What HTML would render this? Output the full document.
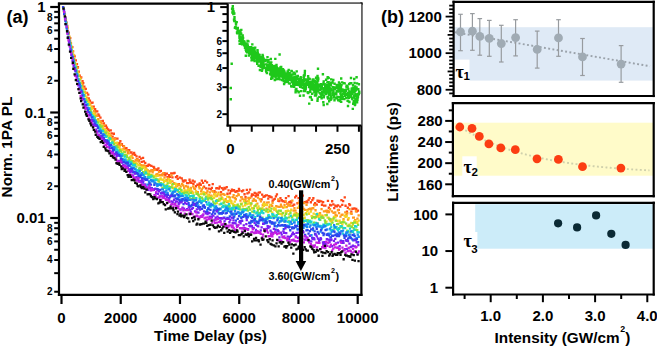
<!DOCTYPE html>
<html><head><meta charset="utf-8"><style>html,body{margin:0;padding:0;background:#fff;overflow:hidden}svg{display:block}</style></head>
<body><svg width="657" height="347" viewBox="0 0 657 347">
<rect width="657" height="347" fill="#fff"/>
<path fill="#ff4818" d="M61.9 5.9h2.3v2.3h-2.3zM63.0 11.5h2.3v2.3h-2.3zM64.6 16.6h2.3v2.3h-2.3zM65.5 21.6h2.3v2.3h-2.3zM66.3 26.9h2.3v2.3h-2.3zM67.6 31.6h2.3v2.3h-2.3zM69.1 37.0h2.3v2.3h-2.3zM69.8 42.3h2.3v2.3h-2.3zM71.2 46.0h2.3v2.3h-2.3zM71.9 50.3h2.3v2.3h-2.3zM73.5 55.2h2.3v2.3h-2.3zM74.7 59.2h2.3v2.3h-2.3zM75.8 63.0h2.3v2.3h-2.3zM76.8 66.1h2.3v2.3h-2.3zM77.7 70.4h2.3v2.3h-2.3zM78.6 74.4h2.3v2.3h-2.3zM80.1 76.2h2.3v2.3h-2.3zM81.4 80.1h2.3v2.3h-2.3zM82.1 82.0h2.3v2.3h-2.3zM83.2 85.4h2.3v2.3h-2.3zM84.6 87.7h2.3v2.3h-2.3zM85.9 91.8h2.3v2.3h-2.3zM87.1 93.5h2.3v2.3h-2.3zM87.6 97.3h2.3v2.3h-2.3zM88.8 99.6h2.3v2.3h-2.3zM90.4 101.6h2.3v2.3h-2.3zM91.4 101.5h2.3v2.3h-2.3zM92.6 105.5h2.3v2.3h-2.3zM94.0 108.1h2.3v2.3h-2.3zM95.0 110.2h2.3v2.3h-2.3zM96.1 110.3h2.3v2.3h-2.3zM97.2 113.3h2.3v2.3h-2.3zM98.0 114.5h2.3v2.3h-2.3zM99.3 116.4h2.3v2.3h-2.3zM100.1 120.3h2.3v2.3h-2.3zM101.7 119.7h2.3v2.3h-2.3zM102.8 122.2h2.3v2.3h-2.3zM103.9 124.9h2.3v2.3h-2.3zM104.8 124.5h2.3v2.3h-2.3zM105.8 126.6h2.3v2.3h-2.3zM107.0 128.3h2.3v2.3h-2.3zM107.8 129.6h2.3v2.3h-2.3zM109.6 129.3h2.3v2.3h-2.3zM110.5 132.3h2.3v2.3h-2.3zM111.5 135.4h2.3v2.3h-2.3zM112.7 132.6h2.3v2.3h-2.3zM114.0 137.3h2.3v2.3h-2.3zM114.9 137.4h2.3v2.3h-2.3zM116.3 137.5h2.3v2.3h-2.3zM117.5 142.6h2.3v2.3h-2.3zM118.2 141.9h2.3v2.3h-2.3zM119.2 140.1h2.3v2.3h-2.3zM120.8 143.1h2.3v2.3h-2.3zM122.1 145.0h2.3v2.3h-2.3zM122.5 144.9h2.3v2.3h-2.3zM124.1 147.3h2.3v2.3h-2.3zM125.3 147.1h2.3v2.3h-2.3zM126.5 149.3h2.3v2.3h-2.3zM127.0 151.6h2.3v2.3h-2.3zM128.1 149.1h2.3v2.3h-2.3zM130.0 151.5h2.3v2.3h-2.3zM130.4 151.3h2.3v2.3h-2.3zM131.6 153.2h2.3v2.3h-2.3zM133.0 151.8h2.3v2.3h-2.3zM134.0 153.7h2.3v2.3h-2.3zM135.4 155.3h2.3v2.3h-2.3zM136.1 158.0h2.3v2.3h-2.3zM137.8 159.3h2.3v2.3h-2.3zM138.4 155.7h2.3v2.3h-2.3zM139.9 157.4h2.3v2.3h-2.3zM140.5 160.8h2.3v2.3h-2.3zM141.9 156.7h2.3v2.3h-2.3zM142.7 160.3h2.3v2.3h-2.3zM144.1 161.7h2.3v2.3h-2.3zM145.2 165.0h2.3v2.3h-2.3zM146.6 164.6h2.3v2.3h-2.3zM147.6 163.4h2.3v2.3h-2.3zM148.4 163.9h2.3v2.3h-2.3zM150.2 164.8h2.3v2.3h-2.3zM151.3 168.9h2.3v2.3h-2.3zM152.4 165.7h2.3v2.3h-2.3zM153.0 166.6h2.3v2.3h-2.3zM154.3 168.5h2.3v2.3h-2.3zM155.3 168.2h2.3v2.3h-2.3zM156.3 168.6h2.3v2.3h-2.3zM157.3 167.3h2.3v2.3h-2.3zM158.9 170.1h2.3v2.3h-2.3zM159.7 169.7h2.3v2.3h-2.3zM160.8 173.6h2.3v2.3h-2.3zM162.5 173.0h2.3v2.3h-2.3zM163.3 172.1h2.3v2.3h-2.3zM164.2 174.1h2.3v2.3h-2.3zM165.7 172.4h2.3v2.3h-2.3zM166.5 175.9h2.3v2.3h-2.3zM167.9 174.1h2.3v2.3h-2.3zM168.8 175.8h2.3v2.3h-2.3zM170.1 172.2h2.3v2.3h-2.3zM171.3 176.2h2.3v2.3h-2.3zM172.4 172.2h2.3v2.3h-2.3zM173.4 171.8h2.3v2.3h-2.3zM174.8 176.0h2.3v2.3h-2.3zM176.0 175.1h2.3v2.3h-2.3zM176.6 177.8h2.3v2.3h-2.3zM177.7 182.9h2.3v2.3h-2.3zM178.8 176.4h2.3v2.3h-2.3zM180.6 177.2h2.3v2.3h-2.3zM181.7 179.4h2.3v2.3h-2.3zM182.3 180.4h2.3v2.3h-2.3zM184.0 179.3h2.3v2.3h-2.3zM184.5 179.5h2.3v2.3h-2.3zM185.9 182.0h2.3v2.3h-2.3zM187.0 181.9h2.3v2.3h-2.3zM188.4 178.6h2.3v2.3h-2.3zM188.9 181.1h2.3v2.3h-2.3zM190.2 181.7h2.3v2.3h-2.3zM191.6 179.5h2.3v2.3h-2.3zM192.3 182.8h2.3v2.3h-2.3zM193.5 180.5h2.3v2.3h-2.3zM194.8 185.1h2.3v2.3h-2.3zM196.3 183.6h2.3v2.3h-2.3zM197.3 183.6h2.3v2.3h-2.3zM198.5 182.2h2.3v2.3h-2.3zM199.6 183.6h2.3v2.3h-2.3zM200.7 179.4h2.3v2.3h-2.3zM201.9 181.7h2.3v2.3h-2.3zM202.9 185.6h2.3v2.3h-2.3zM204.1 179.8h2.3v2.3h-2.3zM204.8 187.3h2.3v2.3h-2.3zM205.9 181.2h2.3v2.3h-2.3zM207.5 187.5h2.3v2.3h-2.3zM208.1 183.9h2.3v2.3h-2.3zM209.8 188.1h2.3v2.3h-2.3zM210.7 186.7h2.3v2.3h-2.3zM211.6 182.9h2.3v2.3h-2.3zM213.2 190.0h2.3v2.3h-2.3zM213.7 190.7h2.3v2.3h-2.3zM215.1 187.2h2.3v2.3h-2.3zM215.9 186.9h2.3v2.3h-2.3zM217.7 187.4h2.3v2.3h-2.3zM218.6 185.5h2.3v2.3h-2.3zM219.9 190.9h2.3v2.3h-2.3zM220.6 187.0h2.3v2.3h-2.3zM222.1 188.5h2.3v2.3h-2.3zM223.2 186.8h2.3v2.3h-2.3zM224.2 187.4h2.3v2.3h-2.3zM225.6 186.0h2.3v2.3h-2.3zM226.3 192.6h2.3v2.3h-2.3zM227.4 189.2h2.3v2.3h-2.3zM228.8 192.3h2.3v2.3h-2.3zM230.0 190.0h2.3v2.3h-2.3zM230.8 188.4h2.3v2.3h-2.3zM232.1 189.5h2.3v2.3h-2.3zM232.9 189.1h2.3v2.3h-2.3zM234.3 190.8h2.3v2.3h-2.3zM235.6 190.0h2.3v2.3h-2.3zM236.2 190.3h2.3v2.3h-2.3zM237.8 187.7h2.3v2.3h-2.3zM238.4 189.4h2.3v2.3h-2.3zM240.3 196.0h2.3v2.3h-2.3zM241.0 190.1h2.3v2.3h-2.3zM242.1 189.3h2.3v2.3h-2.3zM243.4 193.1h2.3v2.3h-2.3zM244.4 196.1h2.3v2.3h-2.3zM245.7 188.7h2.3v2.3h-2.3zM246.3 192.2h2.3v2.3h-2.3zM247.8 191.2h2.3v2.3h-2.3zM248.9 188.4h2.3v2.3h-2.3zM250.4 195.2h2.3v2.3h-2.3zM250.8 193.3h2.3v2.3h-2.3zM252.2 193.8h2.3v2.3h-2.3zM253.5 191.7h2.3v2.3h-2.3zM254.6 195.1h2.3v2.3h-2.3zM255.3 192.6h2.3v2.3h-2.3zM256.8 193.9h2.3v2.3h-2.3zM257.7 191.4h2.3v2.3h-2.3zM258.8 191.3h2.3v2.3h-2.3zM260.5 198.3h2.3v2.3h-2.3zM261.0 193.5h2.3v2.3h-2.3zM262.4 195.8h2.3v2.3h-2.3zM263.7 195.1h2.3v2.3h-2.3zM264.8 194.2h2.3v2.3h-2.3zM265.8 194.2h2.3v2.3h-2.3zM267.1 197.4h2.3v2.3h-2.3zM268.0 195.0h2.3v2.3h-2.3zM269.2 195.6h2.3v2.3h-2.3zM270.5 196.2h2.3v2.3h-2.3zM271.5 199.6h2.3v2.3h-2.3zM272.6 198.4h2.3v2.3h-2.3zM273.6 197.7h2.3v2.3h-2.3zM274.8 195.3h2.3v2.3h-2.3zM275.8 193.2h2.3v2.3h-2.3zM277.2 199.7h2.3v2.3h-2.3zM278.1 200.0h2.3v2.3h-2.3zM279.3 197.1h2.3v2.3h-2.3zM280.6 199.1h2.3v2.3h-2.3zM281.5 199.9h2.3v2.3h-2.3zM282.5 200.2h2.3v2.3h-2.3zM284.0 200.6h2.3v2.3h-2.3zM284.8 196.9h2.3v2.3h-2.3zM286.3 202.6h2.3v2.3h-2.3zM287.4 195.0h2.3v2.3h-2.3zM288.2 201.1h2.3v2.3h-2.3zM289.6 200.2h2.3v2.3h-2.3zM290.2 201.4h2.3v2.3h-2.3zM291.6 204.4h2.3v2.3h-2.3zM293.1 203.5h2.3v2.3h-2.3zM294.0 196.2h2.3v2.3h-2.3zM295.1 194.8h2.3v2.3h-2.3zM296.3 202.1h2.3v2.3h-2.3zM297.4 197.0h2.3v2.3h-2.3zM298.5 200.0h2.3v2.3h-2.3zM299.5 202.6h2.3v2.3h-2.3zM300.4 195.7h2.3v2.3h-2.3zM301.6 194.5h2.3v2.3h-2.3zM302.8 201.4h2.3v2.3h-2.3zM304.0 200.9h2.3v2.3h-2.3zM305.6 200.3h2.3v2.3h-2.3zM306.2 201.2h2.3v2.3h-2.3zM307.4 198.8h2.3v2.3h-2.3zM308.4 197.0h2.3v2.3h-2.3zM309.7 201.1h2.3v2.3h-2.3zM311.2 198.9h2.3v2.3h-2.3zM312.2 197.1h2.3v2.3h-2.3zM313.0 203.5h2.3v2.3h-2.3zM314.0 202.0h2.3v2.3h-2.3zM315.6 203.5h2.3v2.3h-2.3zM316.4 199.6h2.3v2.3h-2.3zM317.7 200.7h2.3v2.3h-2.3zM318.3 199.8h2.3v2.3h-2.3zM320.1 200.3h2.3v2.3h-2.3zM320.8 203.6h2.3v2.3h-2.3zM322.0 200.9h2.3v2.3h-2.3zM322.9 204.4h2.3v2.3h-2.3zM324.2 204.5h2.3v2.3h-2.3zM325.7 209.7h2.3v2.3h-2.3zM326.8 199.7h2.3v2.3h-2.3zM327.7 206.6h2.3v2.3h-2.3zM329.0 203.8h2.3v2.3h-2.3zM329.9 204.2h2.3v2.3h-2.3zM331.0 200.1h2.3v2.3h-2.3zM332.2 203.2h2.3v2.3h-2.3zM333.1 206.9h2.3v2.3h-2.3zM334.3 204.6h2.3v2.3h-2.3zM335.7 205.3h2.3v2.3h-2.3zM336.9 204.3h2.3v2.3h-2.3zM337.5 208.8h2.3v2.3h-2.3zM339.1 205.4h2.3v2.3h-2.3zM340.3 198.9h2.3v2.3h-2.3zM341.1 203.7h2.3v2.3h-2.3zM342.0 199.9h2.3v2.3h-2.3zM343.6 196.2h2.3v2.3h-2.3zM344.4 204.6h2.3v2.3h-2.3zM345.8 210.4h2.3v2.3h-2.3zM346.7 206.6h2.3v2.3h-2.3zM348.1 203.1h2.3v2.3h-2.3zM348.9 203.9h2.3v2.3h-2.3zM350.2 210.4h2.3v2.3h-2.3zM351.3 207.6h2.3v2.3h-2.3zM352.5 207.4h2.3v2.3h-2.3zM353.3 207.2h2.3v2.3h-2.3zM355.1 207.7h2.3v2.3h-2.3zM355.7 210.2h2.3v2.3h-2.3zM356.8 209.5h2.3v2.3h-2.3z"/>
<path fill="#ff9a1e" d="M62.5 7.8h2.3v2.3h-2.3zM63.8 13.4h2.3v2.3h-2.3zM64.8 19.0h2.3v2.3h-2.3zM66.2 24.7h2.3v2.3h-2.3zM66.7 29.7h2.3v2.3h-2.3zM68.3 35.6h2.3v2.3h-2.3zM69.1 40.3h2.3v2.3h-2.3zM70.5 45.4h2.3v2.3h-2.3zM71.8 49.9h2.3v2.3h-2.3zM73.0 54.2h2.3v2.3h-2.3zM73.5 58.4h2.3v2.3h-2.3zM74.8 63.0h2.3v2.3h-2.3zM76.3 66.8h2.3v2.3h-2.3zM77.4 71.2h2.3v2.3h-2.3zM78.1 74.7h2.3v2.3h-2.3zM79.7 77.3h2.3v2.3h-2.3zM80.4 81.7h2.3v2.3h-2.3zM81.5 83.8h2.3v2.3h-2.3zM82.9 87.4h2.3v2.3h-2.3zM83.8 90.6h2.3v2.3h-2.3zM84.9 92.0h2.3v2.3h-2.3zM86.0 96.4h2.3v2.3h-2.3zM87.1 99.0h2.3v2.3h-2.3zM88.0 101.2h2.3v2.3h-2.3zM89.1 103.3h2.3v2.3h-2.3zM90.8 105.6h2.3v2.3h-2.3zM91.8 107.2h2.3v2.3h-2.3zM93.0 109.9h2.3v2.3h-2.3zM94.2 111.7h2.3v2.3h-2.3zM94.9 114.3h2.3v2.3h-2.3zM96.0 114.8h2.3v2.3h-2.3zM97.1 118.1h2.3v2.3h-2.3zM98.3 119.8h2.3v2.3h-2.3zM99.8 121.1h2.3v2.3h-2.3zM100.6 122.5h2.3v2.3h-2.3zM101.7 125.2h2.3v2.3h-2.3zM103.1 124.2h2.3v2.3h-2.3zM103.8 128.2h2.3v2.3h-2.3zM104.9 129.5h2.3v2.3h-2.3zM106.5 131.0h2.3v2.3h-2.3zM107.7 132.5h2.3v2.3h-2.3zM108.4 132.6h2.3v2.3h-2.3zM109.8 134.5h2.3v2.3h-2.3zM110.5 137.0h2.3v2.3h-2.3zM111.9 138.0h2.3v2.3h-2.3zM113.1 139.0h2.3v2.3h-2.3zM114.0 137.9h2.3v2.3h-2.3zM115.2 141.9h2.3v2.3h-2.3zM116.5 144.0h2.3v2.3h-2.3zM117.7 145.0h2.3v2.3h-2.3zM118.4 145.1h2.3v2.3h-2.3zM120.0 143.6h2.3v2.3h-2.3zM120.6 148.4h2.3v2.3h-2.3zM122.5 147.9h2.3v2.3h-2.3zM123.0 145.4h2.3v2.3h-2.3zM124.1 150.8h2.3v2.3h-2.3zM125.2 149.0h2.3v2.3h-2.3zM127.0 150.3h2.3v2.3h-2.3zM127.5 152.3h2.3v2.3h-2.3zM128.9 156.3h2.3v2.3h-2.3zM130.4 154.7h2.3v2.3h-2.3zM131.5 156.7h2.3v2.3h-2.3zM131.9 160.0h2.3v2.3h-2.3zM133.4 160.7h2.3v2.3h-2.3zM134.6 158.8h2.3v2.3h-2.3zM135.8 159.5h2.3v2.3h-2.3zM136.6 158.6h2.3v2.3h-2.3zM137.7 160.4h2.3v2.3h-2.3zM138.6 163.1h2.3v2.3h-2.3zM139.7 163.9h2.3v2.3h-2.3zM141.3 164.2h2.3v2.3h-2.3zM142.0 166.6h2.3v2.3h-2.3zM143.2 164.2h2.3v2.3h-2.3zM144.5 166.2h2.3v2.3h-2.3zM145.4 168.4h2.3v2.3h-2.3zM146.5 168.9h2.3v2.3h-2.3zM148.3 170.5h2.3v2.3h-2.3zM149.1 169.9h2.3v2.3h-2.3zM150.0 169.3h2.3v2.3h-2.3zM151.5 171.2h2.3v2.3h-2.3zM152.1 169.3h2.3v2.3h-2.3zM153.4 168.7h2.3v2.3h-2.3zM155.1 173.6h2.3v2.3h-2.3zM156.2 173.0h2.3v2.3h-2.3zM157.1 174.3h2.3v2.3h-2.3zM157.8 170.9h2.3v2.3h-2.3zM159.1 174.1h2.3v2.3h-2.3zM160.0 174.2h2.3v2.3h-2.3zM161.3 174.2h2.3v2.3h-2.3zM162.2 171.9h2.3v2.3h-2.3zM163.4 176.4h2.3v2.3h-2.3zM165.0 179.4h2.3v2.3h-2.3zM165.7 178.9h2.3v2.3h-2.3zM166.8 177.3h2.3v2.3h-2.3zM168.6 179.0h2.3v2.3h-2.3zM169.2 181.2h2.3v2.3h-2.3zM170.4 174.2h2.3v2.3h-2.3zM171.3 180.2h2.3v2.3h-2.3zM173.0 182.1h2.3v2.3h-2.3zM174.0 182.8h2.3v2.3h-2.3zM175.0 185.5h2.3v2.3h-2.3zM176.2 184.7h2.3v2.3h-2.3zM176.9 183.3h2.3v2.3h-2.3zM178.2 183.7h2.3v2.3h-2.3zM179.6 185.2h2.3v2.3h-2.3zM181.0 182.7h2.3v2.3h-2.3zM182.0 184.2h2.3v2.3h-2.3zM183.0 186.6h2.3v2.3h-2.3zM184.0 189.4h2.3v2.3h-2.3zM184.7 185.0h2.3v2.3h-2.3zM186.6 185.6h2.3v2.3h-2.3zM187.0 186.5h2.3v2.3h-2.3zM188.2 189.5h2.3v2.3h-2.3zM189.8 186.7h2.3v2.3h-2.3zM191.0 190.4h2.3v2.3h-2.3zM192.1 185.2h2.3v2.3h-2.3zM193.0 187.3h2.3v2.3h-2.3zM193.9 187.6h2.3v2.3h-2.3zM194.9 190.2h2.3v2.3h-2.3zM196.7 191.1h2.3v2.3h-2.3zM197.9 185.5h2.3v2.3h-2.3zM198.4 187.1h2.3v2.3h-2.3zM200.0 190.3h2.3v2.3h-2.3zM200.8 188.3h2.3v2.3h-2.3zM201.9 186.5h2.3v2.3h-2.3zM203.1 192.9h2.3v2.3h-2.3zM203.9 191.8h2.3v2.3h-2.3zM205.3 192.1h2.3v2.3h-2.3zM206.3 190.1h2.3v2.3h-2.3zM207.8 193.9h2.3v2.3h-2.3zM208.8 191.2h2.3v2.3h-2.3zM210.2 194.6h2.3v2.3h-2.3zM211.3 190.0h2.3v2.3h-2.3zM212.0 190.4h2.3v2.3h-2.3zM213.1 193.2h2.3v2.3h-2.3zM214.7 191.3h2.3v2.3h-2.3zM215.5 194.9h2.3v2.3h-2.3zM216.3 194.1h2.3v2.3h-2.3zM217.4 191.4h2.3v2.3h-2.3zM219.3 194.1h2.3v2.3h-2.3zM220.1 193.3h2.3v2.3h-2.3zM220.8 196.6h2.3v2.3h-2.3zM222.3 193.0h2.3v2.3h-2.3zM223.4 193.7h2.3v2.3h-2.3zM224.5 198.1h2.3v2.3h-2.3zM226.0 200.8h2.3v2.3h-2.3zM227.1 200.5h2.3v2.3h-2.3zM227.6 195.8h2.3v2.3h-2.3zM228.7 196.4h2.3v2.3h-2.3zM230.1 200.0h2.3v2.3h-2.3zM231.5 196.0h2.3v2.3h-2.3zM232.5 194.1h2.3v2.3h-2.3zM233.7 197.0h2.3v2.3h-2.3zM234.7 198.1h2.3v2.3h-2.3zM235.5 195.0h2.3v2.3h-2.3zM237.2 193.1h2.3v2.3h-2.3zM237.6 193.9h2.3v2.3h-2.3zM239.3 199.4h2.3v2.3h-2.3zM240.0 196.0h2.3v2.3h-2.3zM241.4 197.8h2.3v2.3h-2.3zM242.9 198.9h2.3v2.3h-2.3zM243.7 200.1h2.3v2.3h-2.3zM244.4 197.8h2.3v2.3h-2.3zM245.8 200.2h2.3v2.3h-2.3zM247.2 196.8h2.3v2.3h-2.3zM247.8 198.3h2.3v2.3h-2.3zM249.1 196.8h2.3v2.3h-2.3zM250.0 202.6h2.3v2.3h-2.3zM251.6 199.7h2.3v2.3h-2.3zM252.6 198.1h2.3v2.3h-2.3zM253.8 199.2h2.3v2.3h-2.3zM254.7 199.8h2.3v2.3h-2.3zM256.2 202.4h2.3v2.3h-2.3zM256.9 196.5h2.3v2.3h-2.3zM258.6 198.1h2.3v2.3h-2.3zM259.8 200.1h2.3v2.3h-2.3zM260.5 208.0h2.3v2.3h-2.3zM261.6 204.0h2.3v2.3h-2.3zM263.1 201.3h2.3v2.3h-2.3zM263.7 203.7h2.3v2.3h-2.3zM265.3 207.5h2.3v2.3h-2.3zM266.0 201.5h2.3v2.3h-2.3zM267.5 201.3h2.3v2.3h-2.3zM268.3 205.7h2.3v2.3h-2.3zM269.6 204.0h2.3v2.3h-2.3zM271.0 204.6h2.3v2.3h-2.3zM271.4 201.6h2.3v2.3h-2.3zM273.2 208.4h2.3v2.3h-2.3zM274.1 208.0h2.3v2.3h-2.3zM275.1 205.0h2.3v2.3h-2.3zM276.2 205.5h2.3v2.3h-2.3zM277.1 198.3h2.3v2.3h-2.3zM278.3 205.8h2.3v2.3h-2.3zM279.8 203.6h2.3v2.3h-2.3zM280.5 205.5h2.3v2.3h-2.3zM282.1 206.4h2.3v2.3h-2.3zM283.4 203.7h2.3v2.3h-2.3zM284.6 200.2h2.3v2.3h-2.3zM285.6 206.0h2.3v2.3h-2.3zM286.7 203.1h2.3v2.3h-2.3zM287.3 204.4h2.3v2.3h-2.3zM289.0 203.8h2.3v2.3h-2.3zM289.6 204.7h2.3v2.3h-2.3zM291.2 199.4h2.3v2.3h-2.3zM292.4 209.4h2.3v2.3h-2.3zM293.3 206.9h2.3v2.3h-2.3zM294.3 209.4h2.3v2.3h-2.3zM295.2 212.1h2.3v2.3h-2.3zM296.6 206.7h2.3v2.3h-2.3zM297.5 201.7h2.3v2.3h-2.3zM298.5 204.4h2.3v2.3h-2.3zM299.6 203.7h2.3v2.3h-2.3zM301.3 205.9h2.3v2.3h-2.3zM302.5 207.7h2.3v2.3h-2.3zM303.0 201.9h2.3v2.3h-2.3zM304.0 208.8h2.3v2.3h-2.3zM305.4 203.6h2.3v2.3h-2.3zM306.4 209.0h2.3v2.3h-2.3zM307.6 208.0h2.3v2.3h-2.3zM309.0 207.5h2.3v2.3h-2.3zM310.0 208.4h2.3v2.3h-2.3zM311.1 207.2h2.3v2.3h-2.3zM312.1 207.1h2.3v2.3h-2.3zM313.6 204.2h2.3v2.3h-2.3zM314.4 209.1h2.3v2.3h-2.3zM315.6 214.8h2.3v2.3h-2.3zM316.8 215.3h2.3v2.3h-2.3zM318.3 213.6h2.3v2.3h-2.3zM318.9 211.9h2.3v2.3h-2.3zM320.4 208.0h2.3v2.3h-2.3zM321.2 214.4h2.3v2.3h-2.3zM322.8 210.2h2.3v2.3h-2.3zM323.5 210.3h2.3v2.3h-2.3zM324.7 209.8h2.3v2.3h-2.3zM326.1 211.1h2.3v2.3h-2.3zM327.1 209.7h2.3v2.3h-2.3zM327.7 210.9h2.3v2.3h-2.3zM328.9 208.1h2.3v2.3h-2.3zM330.7 210.3h2.3v2.3h-2.3zM331.1 218.4h2.3v2.3h-2.3zM332.4 211.6h2.3v2.3h-2.3zM334.1 211.2h2.3v2.3h-2.3zM334.4 213.7h2.3v2.3h-2.3zM335.7 214.4h2.3v2.3h-2.3zM336.8 209.1h2.3v2.3h-2.3zM337.9 211.9h2.3v2.3h-2.3zM339.3 215.5h2.3v2.3h-2.3zM340.5 213.7h2.3v2.3h-2.3zM341.4 213.4h2.3v2.3h-2.3zM342.4 217.9h2.3v2.3h-2.3zM344.1 211.3h2.3v2.3h-2.3zM345.2 213.8h2.3v2.3h-2.3zM346.1 212.1h2.3v2.3h-2.3zM346.9 218.4h2.3v2.3h-2.3zM348.4 208.0h2.3v2.3h-2.3zM349.6 212.1h2.3v2.3h-2.3zM350.5 212.7h2.3v2.3h-2.3zM352.0 216.5h2.3v2.3h-2.3zM352.7 216.5h2.3v2.3h-2.3zM354.0 219.1h2.3v2.3h-2.3zM354.8 210.1h2.3v2.3h-2.3zM356.3 217.4h2.3v2.3h-2.3zM357.5 214.3h2.3v2.3h-2.3z"/>
<path fill="#f2d420" d="M62.7 10.3h2.3v2.3h-2.3zM63.8 16.0h2.3v2.3h-2.3zM65.1 22.4h2.3v2.3h-2.3zM66.2 26.8h2.3v2.3h-2.3zM67.5 32.9h2.3v2.3h-2.3zM68.6 38.8h2.3v2.3h-2.3zM69.7 43.4h2.3v2.3h-2.3zM70.6 48.2h2.3v2.3h-2.3zM72.0 53.3h2.3v2.3h-2.3zM72.8 57.4h2.3v2.3h-2.3zM74.2 62.6h2.3v2.3h-2.3zM75.2 68.2h2.3v2.3h-2.3zM76.4 71.6h2.3v2.3h-2.3zM77.1 74.1h2.3v2.3h-2.3zM78.6 77.9h2.3v2.3h-2.3zM79.5 81.7h2.3v2.3h-2.3zM80.7 86.1h2.3v2.3h-2.3zM81.6 88.0h2.3v2.3h-2.3zM83.2 91.1h2.3v2.3h-2.3zM84.5 95.2h2.3v2.3h-2.3zM85.2 98.0h2.3v2.3h-2.3zM86.1 99.7h2.3v2.3h-2.3zM87.7 101.6h2.3v2.3h-2.3zM88.4 103.6h2.3v2.3h-2.3zM90.1 106.6h2.3v2.3h-2.3zM90.7 107.4h2.3v2.3h-2.3zM92.0 112.3h2.3v2.3h-2.3zM93.2 113.0h2.3v2.3h-2.3zM94.0 116.1h2.3v2.3h-2.3zM95.3 119.4h2.3v2.3h-2.3zM96.4 120.6h2.3v2.3h-2.3zM97.9 120.0h2.3v2.3h-2.3zM99.2 123.8h2.3v2.3h-2.3zM99.9 125.8h2.3v2.3h-2.3zM101.3 125.4h2.3v2.3h-2.3zM101.9 126.8h2.3v2.3h-2.3zM103.4 129.3h2.3v2.3h-2.3zM104.4 129.0h2.3v2.3h-2.3zM105.4 134.1h2.3v2.3h-2.3zM107.0 131.0h2.3v2.3h-2.3zM108.0 133.9h2.3v2.3h-2.3zM108.7 136.3h2.3v2.3h-2.3zM109.9 137.7h2.3v2.3h-2.3zM111.5 139.6h2.3v2.3h-2.3zM112.7 141.0h2.3v2.3h-2.3zM113.6 141.7h2.3v2.3h-2.3zM114.9 144.7h2.3v2.3h-2.3zM116.1 141.6h2.3v2.3h-2.3zM117.0 145.7h2.3v2.3h-2.3zM118.1 145.9h2.3v2.3h-2.3zM118.9 148.2h2.3v2.3h-2.3zM120.1 149.5h2.3v2.3h-2.3zM121.4 149.0h2.3v2.3h-2.3zM122.8 150.5h2.3v2.3h-2.3zM123.4 153.7h2.3v2.3h-2.3zM124.6 154.1h2.3v2.3h-2.3zM125.5 153.6h2.3v2.3h-2.3zM127.1 158.8h2.3v2.3h-2.3zM128.1 160.2h2.3v2.3h-2.3zM129.5 155.4h2.3v2.3h-2.3zM130.1 159.2h2.3v2.3h-2.3zM131.6 163.6h2.3v2.3h-2.3zM132.7 161.9h2.3v2.3h-2.3zM133.7 161.9h2.3v2.3h-2.3zM134.6 162.1h2.3v2.3h-2.3zM135.9 162.4h2.3v2.3h-2.3zM137.3 163.9h2.3v2.3h-2.3zM138.0 164.2h2.3v2.3h-2.3zM139.0 167.2h2.3v2.3h-2.3zM140.5 166.1h2.3v2.3h-2.3zM141.4 166.8h2.3v2.3h-2.3zM143.0 166.3h2.3v2.3h-2.3zM144.1 169.1h2.3v2.3h-2.3zM145.3 168.4h2.3v2.3h-2.3zM146.4 170.4h2.3v2.3h-2.3zM147.4 173.3h2.3v2.3h-2.3zM148.1 172.8h2.3v2.3h-2.3zM149.7 173.8h2.3v2.3h-2.3zM150.8 174.2h2.3v2.3h-2.3zM151.9 174.4h2.3v2.3h-2.3zM153.0 174.7h2.3v2.3h-2.3zM154.3 175.0h2.3v2.3h-2.3zM155.0 177.7h2.3v2.3h-2.3zM156.4 174.8h2.3v2.3h-2.3zM157.4 180.1h2.3v2.3h-2.3zM158.4 178.2h2.3v2.3h-2.3zM159.5 177.3h2.3v2.3h-2.3zM160.5 178.4h2.3v2.3h-2.3zM161.9 178.6h2.3v2.3h-2.3zM162.9 180.8h2.3v2.3h-2.3zM164.1 179.6h2.3v2.3h-2.3zM165.5 183.8h2.3v2.3h-2.3zM166.5 180.5h2.3v2.3h-2.3zM167.6 178.0h2.3v2.3h-2.3zM169.0 181.6h2.3v2.3h-2.3zM169.5 179.5h2.3v2.3h-2.3zM170.9 184.0h2.3v2.3h-2.3zM171.7 186.8h2.3v2.3h-2.3zM173.0 186.4h2.3v2.3h-2.3zM174.6 182.7h2.3v2.3h-2.3zM175.0 184.4h2.3v2.3h-2.3zM176.7 190.2h2.3v2.3h-2.3zM177.9 187.5h2.3v2.3h-2.3zM178.8 187.3h2.3v2.3h-2.3zM180.1 190.0h2.3v2.3h-2.3zM181.0 193.4h2.3v2.3h-2.3zM182.0 191.3h2.3v2.3h-2.3zM183.3 189.2h2.3v2.3h-2.3zM184.1 190.1h2.3v2.3h-2.3zM185.4 191.0h2.3v2.3h-2.3zM186.5 188.7h2.3v2.3h-2.3zM188.1 188.1h2.3v2.3h-2.3zM188.8 190.9h2.3v2.3h-2.3zM189.8 189.0h2.3v2.3h-2.3zM191.5 191.4h2.3v2.3h-2.3zM192.0 192.0h2.3v2.3h-2.3zM193.8 197.5h2.3v2.3h-2.3zM194.8 190.6h2.3v2.3h-2.3zM195.8 192.6h2.3v2.3h-2.3zM196.7 192.8h2.3v2.3h-2.3zM197.6 194.5h2.3v2.3h-2.3zM198.7 196.2h2.3v2.3h-2.3zM199.8 193.0h2.3v2.3h-2.3zM201.1 192.5h2.3v2.3h-2.3zM202.3 190.9h2.3v2.3h-2.3zM203.9 192.8h2.3v2.3h-2.3zM204.7 196.5h2.3v2.3h-2.3zM206.2 195.7h2.3v2.3h-2.3zM207.1 193.5h2.3v2.3h-2.3zM207.7 195.2h2.3v2.3h-2.3zM209.2 196.5h2.3v2.3h-2.3zM210.0 197.9h2.3v2.3h-2.3zM211.0 195.5h2.3v2.3h-2.3zM212.9 196.6h2.3v2.3h-2.3zM213.5 193.1h2.3v2.3h-2.3zM214.5 194.9h2.3v2.3h-2.3zM215.6 201.9h2.3v2.3h-2.3zM217.1 192.9h2.3v2.3h-2.3zM218.1 197.6h2.3v2.3h-2.3zM218.9 199.2h2.3v2.3h-2.3zM220.6 198.0h2.3v2.3h-2.3zM221.3 197.2h2.3v2.3h-2.3zM222.9 199.3h2.3v2.3h-2.3zM223.8 199.7h2.3v2.3h-2.3zM224.9 199.7h2.3v2.3h-2.3zM226.0 195.5h2.3v2.3h-2.3zM227.3 200.0h2.3v2.3h-2.3zM228.7 198.5h2.3v2.3h-2.3zM229.6 199.4h2.3v2.3h-2.3zM230.2 201.6h2.3v2.3h-2.3zM231.6 202.8h2.3v2.3h-2.3zM232.6 203.7h2.3v2.3h-2.3zM233.6 200.4h2.3v2.3h-2.3zM234.8 204.2h2.3v2.3h-2.3zM236.0 205.1h2.3v2.3h-2.3zM237.6 205.2h2.3v2.3h-2.3zM238.6 206.1h2.3v2.3h-2.3zM239.8 202.4h2.3v2.3h-2.3zM240.8 202.5h2.3v2.3h-2.3zM241.6 205.3h2.3v2.3h-2.3zM242.8 199.9h2.3v2.3h-2.3zM244.0 204.1h2.3v2.3h-2.3zM245.0 202.4h2.3v2.3h-2.3zM246.2 203.0h2.3v2.3h-2.3zM247.6 199.7h2.3v2.3h-2.3zM248.2 202.1h2.3v2.3h-2.3zM249.5 204.5h2.3v2.3h-2.3zM250.8 207.1h2.3v2.3h-2.3zM252.1 207.5h2.3v2.3h-2.3zM253.2 204.9h2.3v2.3h-2.3zM254.3 204.9h2.3v2.3h-2.3zM255.0 203.4h2.3v2.3h-2.3zM256.2 206.8h2.3v2.3h-2.3zM257.4 205.3h2.3v2.3h-2.3zM258.5 207.7h2.3v2.3h-2.3zM260.0 210.9h2.3v2.3h-2.3zM261.3 206.4h2.3v2.3h-2.3zM262.2 202.7h2.3v2.3h-2.3zM262.8 204.6h2.3v2.3h-2.3zM264.1 203.2h2.3v2.3h-2.3zM265.7 204.0h2.3v2.3h-2.3zM266.9 210.9h2.3v2.3h-2.3zM267.7 208.2h2.3v2.3h-2.3zM268.7 203.7h2.3v2.3h-2.3zM269.8 209.7h2.3v2.3h-2.3zM271.2 211.5h2.3v2.3h-2.3zM272.5 207.4h2.3v2.3h-2.3zM273.2 206.7h2.3v2.3h-2.3zM274.2 207.8h2.3v2.3h-2.3zM275.2 209.6h2.3v2.3h-2.3zM276.4 210.8h2.3v2.3h-2.3zM278.1 212.4h2.3v2.3h-2.3zM279.0 212.7h2.3v2.3h-2.3zM280.4 212.8h2.3v2.3h-2.3zM280.8 213.5h2.3v2.3h-2.3zM282.2 211.7h2.3v2.3h-2.3zM283.7 205.9h2.3v2.3h-2.3zM284.7 209.9h2.3v2.3h-2.3zM285.3 211.3h2.3v2.3h-2.3zM286.7 209.6h2.3v2.3h-2.3zM288.0 213.3h2.3v2.3h-2.3zM289.2 210.0h2.3v2.3h-2.3zM290.1 208.6h2.3v2.3h-2.3zM291.1 215.3h2.3v2.3h-2.3zM292.8 213.4h2.3v2.3h-2.3zM293.5 212.3h2.3v2.3h-2.3zM294.9 214.4h2.3v2.3h-2.3zM295.8 215.0h2.3v2.3h-2.3zM296.6 213.1h2.3v2.3h-2.3zM297.9 205.4h2.3v2.3h-2.3zM298.8 210.6h2.3v2.3h-2.3zM300.1 211.4h2.3v2.3h-2.3zM301.2 210.1h2.3v2.3h-2.3zM302.5 213.6h2.3v2.3h-2.3zM303.5 216.6h2.3v2.3h-2.3zM304.7 212.0h2.3v2.3h-2.3zM306.2 210.3h2.3v2.3h-2.3zM306.7 219.5h2.3v2.3h-2.3zM307.9 212.6h2.3v2.3h-2.3zM309.6 210.5h2.3v2.3h-2.3zM310.5 214.9h2.3v2.3h-2.3zM311.5 215.6h2.3v2.3h-2.3zM312.5 212.5h2.3v2.3h-2.3zM313.9 217.0h2.3v2.3h-2.3zM314.7 213.5h2.3v2.3h-2.3zM316.4 212.4h2.3v2.3h-2.3zM317.5 215.7h2.3v2.3h-2.3zM318.2 217.6h2.3v2.3h-2.3zM319.1 213.7h2.3v2.3h-2.3zM320.9 216.7h2.3v2.3h-2.3zM321.5 215.6h2.3v2.3h-2.3zM322.9 224.3h2.3v2.3h-2.3zM324.2 214.1h2.3v2.3h-2.3zM325.3 220.5h2.3v2.3h-2.3zM326.5 216.4h2.3v2.3h-2.3zM327.3 216.4h2.3v2.3h-2.3zM328.7 219.0h2.3v2.3h-2.3zM329.5 219.7h2.3v2.3h-2.3zM330.5 221.0h2.3v2.3h-2.3zM331.8 218.4h2.3v2.3h-2.3zM332.8 215.8h2.3v2.3h-2.3zM334.3 216.1h2.3v2.3h-2.3zM335.5 219.4h2.3v2.3h-2.3zM336.0 219.8h2.3v2.3h-2.3zM337.2 222.4h2.3v2.3h-2.3zM338.5 219.6h2.3v2.3h-2.3zM339.7 221.7h2.3v2.3h-2.3zM341.2 223.3h2.3v2.3h-2.3zM342.3 219.4h2.3v2.3h-2.3zM343.5 214.5h2.3v2.3h-2.3zM344.4 215.6h2.3v2.3h-2.3zM345.5 215.0h2.3v2.3h-2.3zM346.3 224.4h2.3v2.3h-2.3zM347.5 217.1h2.3v2.3h-2.3zM348.3 223.6h2.3v2.3h-2.3zM350.1 221.8h2.3v2.3h-2.3zM350.8 225.5h2.3v2.3h-2.3zM351.8 223.4h2.3v2.3h-2.3zM353.1 220.2h2.3v2.3h-2.3zM354.2 220.1h2.3v2.3h-2.3zM355.6 221.1h2.3v2.3h-2.3zM356.2 221.6h2.3v2.3h-2.3zM357.5 219.5h2.3v2.3h-2.3z"/>
<path fill="#86e03a" d="M62.6 6.9h2.3v2.3h-2.3zM63.4 12.8h2.3v2.3h-2.3zM64.2 19.1h2.3v2.3h-2.3zM65.9 25.5h2.3v2.3h-2.3zM66.7 31.2h2.3v2.3h-2.3zM68.0 36.5h2.3v2.3h-2.3zM69.2 42.0h2.3v2.3h-2.3zM70.1 47.1h2.3v2.3h-2.3zM70.9 52.0h2.3v2.3h-2.3zM72.6 58.1h2.3v2.3h-2.3zM73.6 61.8h2.3v2.3h-2.3zM74.9 65.6h2.3v2.3h-2.3zM75.6 70.2h2.3v2.3h-2.3zM77.1 75.0h2.3v2.3h-2.3zM78.3 78.8h2.3v2.3h-2.3zM79.0 82.0h2.3v2.3h-2.3zM80.2 85.1h2.3v2.3h-2.3zM81.2 88.9h2.3v2.3h-2.3zM82.1 90.8h2.3v2.3h-2.3zM83.4 94.1h2.3v2.3h-2.3zM84.6 98.6h2.3v2.3h-2.3zM85.6 100.3h2.3v2.3h-2.3zM87.2 103.6h2.3v2.3h-2.3zM88.1 106.8h2.3v2.3h-2.3zM89.3 108.7h2.3v2.3h-2.3zM90.2 110.4h2.3v2.3h-2.3zM91.4 114.5h2.3v2.3h-2.3zM92.8 115.3h2.3v2.3h-2.3zM93.7 116.3h2.3v2.3h-2.3zM94.9 119.3h2.3v2.3h-2.3zM95.9 120.9h2.3v2.3h-2.3zM97.2 121.4h2.3v2.3h-2.3zM98.6 124.1h2.3v2.3h-2.3zM99.2 125.6h2.3v2.3h-2.3zM100.5 125.3h2.3v2.3h-2.3zM101.8 128.8h2.3v2.3h-2.3zM102.4 130.3h2.3v2.3h-2.3zM104.2 131.6h2.3v2.3h-2.3zM105.0 131.7h2.3v2.3h-2.3zM105.9 134.7h2.3v2.3h-2.3zM107.5 136.5h2.3v2.3h-2.3zM108.6 138.1h2.3v2.3h-2.3zM109.6 137.9h2.3v2.3h-2.3zM111.0 141.5h2.3v2.3h-2.3zM111.4 140.5h2.3v2.3h-2.3zM112.9 143.1h2.3v2.3h-2.3zM114.2 146.4h2.3v2.3h-2.3zM115.5 145.0h2.3v2.3h-2.3zM116.4 146.4h2.3v2.3h-2.3zM117.5 149.8h2.3v2.3h-2.3zM118.4 149.0h2.3v2.3h-2.3zM119.7 150.3h2.3v2.3h-2.3zM120.8 152.2h2.3v2.3h-2.3zM122.2 154.5h2.3v2.3h-2.3zM123.3 150.9h2.3v2.3h-2.3zM124.3 154.0h2.3v2.3h-2.3zM125.6 154.8h2.3v2.3h-2.3zM126.0 155.7h2.3v2.3h-2.3zM127.7 157.1h2.3v2.3h-2.3zM128.6 158.2h2.3v2.3h-2.3zM130.0 160.9h2.3v2.3h-2.3zM130.7 160.0h2.3v2.3h-2.3zM132.0 162.6h2.3v2.3h-2.3zM133.4 164.0h2.3v2.3h-2.3zM133.9 163.1h2.3v2.3h-2.3zM135.2 165.5h2.3v2.3h-2.3zM136.5 168.9h2.3v2.3h-2.3zM137.9 167.6h2.3v2.3h-2.3zM138.6 166.8h2.3v2.3h-2.3zM140.1 168.7h2.3v2.3h-2.3zM140.8 168.0h2.3v2.3h-2.3zM142.0 170.9h2.3v2.3h-2.3zM143.3 172.8h2.3v2.3h-2.3zM144.5 170.6h2.3v2.3h-2.3zM145.8 172.4h2.3v2.3h-2.3zM146.9 175.6h2.3v2.3h-2.3zM147.6 173.4h2.3v2.3h-2.3zM149.1 175.4h2.3v2.3h-2.3zM150.1 173.9h2.3v2.3h-2.3zM151.1 175.0h2.3v2.3h-2.3zM152.5 176.3h2.3v2.3h-2.3zM153.7 181.9h2.3v2.3h-2.3zM154.5 177.8h2.3v2.3h-2.3zM156.0 178.3h2.3v2.3h-2.3zM156.5 178.8h2.3v2.3h-2.3zM157.6 180.2h2.3v2.3h-2.3zM159.2 182.4h2.3v2.3h-2.3zM160.0 182.1h2.3v2.3h-2.3zM161.3 186.4h2.3v2.3h-2.3zM162.4 183.4h2.3v2.3h-2.3zM163.2 186.4h2.3v2.3h-2.3zM164.9 184.7h2.3v2.3h-2.3zM166.0 185.9h2.3v2.3h-2.3zM166.6 182.3h2.3v2.3h-2.3zM167.8 185.5h2.3v2.3h-2.3zM169.4 186.1h2.3v2.3h-2.3zM170.6 186.3h2.3v2.3h-2.3zM171.7 182.9h2.3v2.3h-2.3zM172.5 189.6h2.3v2.3h-2.3zM173.6 187.4h2.3v2.3h-2.3zM174.7 187.8h2.3v2.3h-2.3zM175.7 188.7h2.3v2.3h-2.3zM177.0 189.2h2.3v2.3h-2.3zM177.9 190.9h2.3v2.3h-2.3zM179.0 187.8h2.3v2.3h-2.3zM180.3 189.0h2.3v2.3h-2.3zM181.2 192.0h2.3v2.3h-2.3zM182.6 192.1h2.3v2.3h-2.3zM183.9 191.4h2.3v2.3h-2.3zM185.0 191.4h2.3v2.3h-2.3zM186.4 191.2h2.3v2.3h-2.3zM187.5 193.3h2.3v2.3h-2.3zM188.4 196.4h2.3v2.3h-2.3zM189.7 191.8h2.3v2.3h-2.3zM190.5 197.9h2.3v2.3h-2.3zM191.9 196.7h2.3v2.3h-2.3zM192.6 194.2h2.3v2.3h-2.3zM193.9 197.3h2.3v2.3h-2.3zM195.4 192.6h2.3v2.3h-2.3zM196.2 192.4h2.3v2.3h-2.3zM197.3 193.7h2.3v2.3h-2.3zM198.7 196.0h2.3v2.3h-2.3zM199.4 196.5h2.3v2.3h-2.3zM200.9 196.4h2.3v2.3h-2.3zM201.4 198.1h2.3v2.3h-2.3zM202.7 193.3h2.3v2.3h-2.3zM203.8 199.6h2.3v2.3h-2.3zM205.0 195.5h2.3v2.3h-2.3zM206.7 197.6h2.3v2.3h-2.3zM207.0 198.4h2.3v2.3h-2.3zM208.4 197.0h2.3v2.3h-2.3zM209.7 196.7h2.3v2.3h-2.3zM211.0 197.9h2.3v2.3h-2.3zM212.1 200.5h2.3v2.3h-2.3zM213.0 202.2h2.3v2.3h-2.3zM214.0 202.4h2.3v2.3h-2.3zM215.6 199.0h2.3v2.3h-2.3zM216.1 199.7h2.3v2.3h-2.3zM217.2 199.6h2.3v2.3h-2.3zM218.5 203.2h2.3v2.3h-2.3zM219.8 197.5h2.3v2.3h-2.3zM221.3 205.6h2.3v2.3h-2.3zM222.2 201.7h2.3v2.3h-2.3zM223.2 201.2h2.3v2.3h-2.3zM224.3 204.2h2.3v2.3h-2.3zM225.6 206.1h2.3v2.3h-2.3zM226.7 204.7h2.3v2.3h-2.3zM227.6 206.7h2.3v2.3h-2.3zM228.5 204.6h2.3v2.3h-2.3zM229.7 207.6h2.3v2.3h-2.3zM231.3 207.9h2.3v2.3h-2.3zM232.3 204.8h2.3v2.3h-2.3zM233.6 208.8h2.3v2.3h-2.3zM234.1 205.9h2.3v2.3h-2.3zM235.9 205.9h2.3v2.3h-2.3zM236.6 203.6h2.3v2.3h-2.3zM238.2 205.4h2.3v2.3h-2.3zM239.0 208.3h2.3v2.3h-2.3zM240.1 203.3h2.3v2.3h-2.3zM241.4 208.4h2.3v2.3h-2.3zM242.4 207.9h2.3v2.3h-2.3zM243.6 207.9h2.3v2.3h-2.3zM244.3 201.8h2.3v2.3h-2.3zM245.8 207.4h2.3v2.3h-2.3zM246.7 209.5h2.3v2.3h-2.3zM247.6 206.1h2.3v2.3h-2.3zM248.8 208.5h2.3v2.3h-2.3zM250.2 202.3h2.3v2.3h-2.3zM251.1 210.4h2.3v2.3h-2.3zM252.7 207.2h2.3v2.3h-2.3zM253.3 211.3h2.3v2.3h-2.3zM254.3 204.5h2.3v2.3h-2.3zM256.2 211.3h2.3v2.3h-2.3zM256.8 209.1h2.3v2.3h-2.3zM258.1 212.0h2.3v2.3h-2.3zM259.0 207.6h2.3v2.3h-2.3zM260.1 208.6h2.3v2.3h-2.3zM261.4 216.4h2.3v2.3h-2.3zM262.8 208.5h2.3v2.3h-2.3zM263.3 209.0h2.3v2.3h-2.3zM265.1 210.3h2.3v2.3h-2.3zM266.3 208.5h2.3v2.3h-2.3zM267.1 214.6h2.3v2.3h-2.3zM268.1 216.2h2.3v2.3h-2.3zM269.1 209.9h2.3v2.3h-2.3zM270.2 207.4h2.3v2.3h-2.3zM271.4 215.3h2.3v2.3h-2.3zM273.0 215.3h2.3v2.3h-2.3zM273.4 214.8h2.3v2.3h-2.3zM275.2 215.9h2.3v2.3h-2.3zM276.2 210.6h2.3v2.3h-2.3zM276.8 212.7h2.3v2.3h-2.3zM278.0 209.5h2.3v2.3h-2.3zM279.6 209.6h2.3v2.3h-2.3zM280.7 216.3h2.3v2.3h-2.3zM281.6 212.0h2.3v2.3h-2.3zM283.1 220.3h2.3v2.3h-2.3zM283.7 214.4h2.3v2.3h-2.3zM285.0 212.6h2.3v2.3h-2.3zM285.9 216.8h2.3v2.3h-2.3zM287.5 219.7h2.3v2.3h-2.3zM288.1 216.3h2.3v2.3h-2.3zM289.3 211.8h2.3v2.3h-2.3zM290.9 216.3h2.3v2.3h-2.3zM291.8 219.3h2.3v2.3h-2.3zM293.1 214.3h2.3v2.3h-2.3zM294.3 213.7h2.3v2.3h-2.3zM295.3 218.9h2.3v2.3h-2.3zM296.1 216.6h2.3v2.3h-2.3zM297.6 213.3h2.3v2.3h-2.3zM298.3 215.5h2.3v2.3h-2.3zM299.5 214.6h2.3v2.3h-2.3zM300.8 217.7h2.3v2.3h-2.3zM301.7 217.4h2.3v2.3h-2.3zM302.8 220.5h2.3v2.3h-2.3zM304.3 219.5h2.3v2.3h-2.3zM305.5 213.2h2.3v2.3h-2.3zM306.4 218.9h2.3v2.3h-2.3zM307.5 220.5h2.3v2.3h-2.3zM308.5 219.4h2.3v2.3h-2.3zM309.9 221.3h2.3v2.3h-2.3zM311.0 216.9h2.3v2.3h-2.3zM312.4 215.9h2.3v2.3h-2.3zM312.9 221.5h2.3v2.3h-2.3zM314.7 215.9h2.3v2.3h-2.3zM315.9 212.9h2.3v2.3h-2.3zM316.5 222.3h2.3v2.3h-2.3zM317.9 217.4h2.3v2.3h-2.3zM319.1 218.8h2.3v2.3h-2.3zM320.1 215.8h2.3v2.3h-2.3zM320.9 216.2h2.3v2.3h-2.3zM322.3 216.8h2.3v2.3h-2.3zM323.7 219.3h2.3v2.3h-2.3zM324.2 221.6h2.3v2.3h-2.3zM325.6 214.0h2.3v2.3h-2.3zM326.4 223.1h2.3v2.3h-2.3zM328.1 217.6h2.3v2.3h-2.3zM329.2 218.1h2.3v2.3h-2.3zM329.7 223.4h2.3v2.3h-2.3zM331.4 221.4h2.3v2.3h-2.3zM332.5 217.2h2.3v2.3h-2.3zM333.2 227.4h2.3v2.3h-2.3zM334.6 219.5h2.3v2.3h-2.3zM335.9 223.0h2.3v2.3h-2.3zM336.7 223.0h2.3v2.3h-2.3zM338.0 226.9h2.3v2.3h-2.3zM339.5 221.4h2.3v2.3h-2.3zM340.3 226.0h2.3v2.3h-2.3zM341.4 220.9h2.3v2.3h-2.3zM342.1 226.7h2.3v2.3h-2.3zM343.3 221.2h2.3v2.3h-2.3zM345.0 222.5h2.3v2.3h-2.3zM346.1 229.6h2.3v2.3h-2.3zM347.3 224.9h2.3v2.3h-2.3zM348.2 224.5h2.3v2.3h-2.3zM349.3 231.2h2.3v2.3h-2.3zM350.4 225.6h2.3v2.3h-2.3zM351.7 222.1h2.3v2.3h-2.3zM352.5 227.1h2.3v2.3h-2.3zM353.7 221.4h2.3v2.3h-2.3zM354.8 228.6h2.3v2.3h-2.3zM356.1 229.1h2.3v2.3h-2.3zM356.9 223.7h2.3v2.3h-2.3z"/>
<path fill="#18d6d0" d="M62.8 9.2h2.3v2.3h-2.3zM63.9 16.1h2.3v2.3h-2.3zM65.1 21.5h2.3v2.3h-2.3zM65.7 27.9h2.3v2.3h-2.3zM66.9 33.2h2.3v2.3h-2.3zM68.3 40.1h2.3v2.3h-2.3zM69.7 44.6h2.3v2.3h-2.3zM70.5 49.2h2.3v2.3h-2.3zM71.4 55.2h2.3v2.3h-2.3zM72.8 60.1h2.3v2.3h-2.3zM74.2 65.9h2.3v2.3h-2.3zM75.3 69.2h2.3v2.3h-2.3zM76.4 73.6h2.3v2.3h-2.3zM77.2 78.1h2.3v2.3h-2.3zM78.2 82.5h2.3v2.3h-2.3zM79.8 85.2h2.3v2.3h-2.3zM80.9 89.4h2.3v2.3h-2.3zM82.0 92.4h2.3v2.3h-2.3zM82.8 94.9h2.3v2.3h-2.3zM83.8 98.2h2.3v2.3h-2.3zM84.9 100.9h2.3v2.3h-2.3zM86.5 102.9h2.3v2.3h-2.3zM87.7 107.1h2.3v2.3h-2.3zM88.4 107.5h2.3v2.3h-2.3zM89.9 111.9h2.3v2.3h-2.3zM90.7 114.0h2.3v2.3h-2.3zM91.8 115.2h2.3v2.3h-2.3zM93.1 116.7h2.3v2.3h-2.3zM93.9 119.1h2.3v2.3h-2.3zM95.1 121.7h2.3v2.3h-2.3zM96.2 123.8h2.3v2.3h-2.3zM97.3 125.2h2.3v2.3h-2.3zM98.6 127.6h2.3v2.3h-2.3zM99.4 127.8h2.3v2.3h-2.3zM101.1 130.2h2.3v2.3h-2.3zM101.7 129.9h2.3v2.3h-2.3zM103.1 134.0h2.3v2.3h-2.3zM104.4 134.9h2.3v2.3h-2.3zM105.1 135.7h2.3v2.3h-2.3zM106.4 139.0h2.3v2.3h-2.3zM107.7 139.9h2.3v2.3h-2.3zM108.8 137.2h2.3v2.3h-2.3zM110.2 141.9h2.3v2.3h-2.3zM111.2 141.5h2.3v2.3h-2.3zM111.8 145.9h2.3v2.3h-2.3zM113.5 149.0h2.3v2.3h-2.3zM114.4 146.5h2.3v2.3h-2.3zM115.7 148.5h2.3v2.3h-2.3zM116.4 149.4h2.3v2.3h-2.3zM117.7 151.4h2.3v2.3h-2.3zM119.1 153.0h2.3v2.3h-2.3zM120.3 155.0h2.3v2.3h-2.3zM121.4 153.1h2.3v2.3h-2.3zM122.0 157.8h2.3v2.3h-2.3zM123.7 155.4h2.3v2.3h-2.3zM124.6 158.2h2.3v2.3h-2.3zM125.8 160.6h2.3v2.3h-2.3zM127.1 161.0h2.3v2.3h-2.3zM127.8 159.7h2.3v2.3h-2.3zM129.4 161.0h2.3v2.3h-2.3zM130.5 162.4h2.3v2.3h-2.3zM131.5 164.0h2.3v2.3h-2.3zM132.3 166.8h2.3v2.3h-2.3zM133.5 164.1h2.3v2.3h-2.3zM134.4 167.7h2.3v2.3h-2.3zM136.0 168.9h2.3v2.3h-2.3zM137.2 169.7h2.3v2.3h-2.3zM137.8 170.5h2.3v2.3h-2.3zM139.3 173.1h2.3v2.3h-2.3zM140.4 172.3h2.3v2.3h-2.3zM141.0 173.8h2.3v2.3h-2.3zM142.9 174.1h2.3v2.3h-2.3zM143.6 177.0h2.3v2.3h-2.3zM144.6 171.6h2.3v2.3h-2.3zM145.5 177.8h2.3v2.3h-2.3zM147.3 175.9h2.3v2.3h-2.3zM148.0 176.7h2.3v2.3h-2.3zM149.3 176.2h2.3v2.3h-2.3zM150.2 175.3h2.3v2.3h-2.3zM151.6 178.7h2.3v2.3h-2.3zM152.6 178.9h2.3v2.3h-2.3zM154.0 181.7h2.3v2.3h-2.3zM155.0 178.8h2.3v2.3h-2.3zM156.2 184.8h2.3v2.3h-2.3zM157.0 183.3h2.3v2.3h-2.3zM157.9 183.0h2.3v2.3h-2.3zM159.7 182.8h2.3v2.3h-2.3zM160.9 183.3h2.3v2.3h-2.3zM161.8 183.2h2.3v2.3h-2.3zM163.1 184.9h2.3v2.3h-2.3zM164.1 186.6h2.3v2.3h-2.3zM165.1 186.8h2.3v2.3h-2.3zM166.1 184.9h2.3v2.3h-2.3zM167.2 187.7h2.3v2.3h-2.3zM168.4 187.0h2.3v2.3h-2.3zM169.3 189.7h2.3v2.3h-2.3zM170.6 193.6h2.3v2.3h-2.3zM171.8 191.6h2.3v2.3h-2.3zM172.5 190.3h2.3v2.3h-2.3zM174.0 188.1h2.3v2.3h-2.3zM175.0 189.0h2.3v2.3h-2.3zM176.4 188.9h2.3v2.3h-2.3zM177.7 194.3h2.3v2.3h-2.3zM178.6 191.7h2.3v2.3h-2.3zM179.8 193.9h2.3v2.3h-2.3zM180.9 192.9h2.3v2.3h-2.3zM181.7 194.8h2.3v2.3h-2.3zM182.9 198.0h2.3v2.3h-2.3zM184.4 194.0h2.3v2.3h-2.3zM185.7 195.2h2.3v2.3h-2.3zM186.2 194.6h2.3v2.3h-2.3zM187.2 198.6h2.3v2.3h-2.3zM189.0 194.9h2.3v2.3h-2.3zM190.1 195.0h2.3v2.3h-2.3zM191.0 194.8h2.3v2.3h-2.3zM192.3 195.1h2.3v2.3h-2.3zM193.3 199.6h2.3v2.3h-2.3zM194.6 204.6h2.3v2.3h-2.3zM195.2 197.1h2.3v2.3h-2.3zM196.5 201.8h2.3v2.3h-2.3zM197.8 200.6h2.3v2.3h-2.3zM198.6 197.9h2.3v2.3h-2.3zM200.1 200.1h2.3v2.3h-2.3zM200.9 200.5h2.3v2.3h-2.3zM202.4 199.8h2.3v2.3h-2.3zM203.6 206.0h2.3v2.3h-2.3zM204.4 197.6h2.3v2.3h-2.3zM206.0 203.2h2.3v2.3h-2.3zM206.8 203.4h2.3v2.3h-2.3zM208.0 201.6h2.3v2.3h-2.3zM208.6 203.5h2.3v2.3h-2.3zM209.8 205.5h2.3v2.3h-2.3zM211.4 204.1h2.3v2.3h-2.3zM212.7 205.0h2.3v2.3h-2.3zM213.5 206.0h2.3v2.3h-2.3zM214.9 199.9h2.3v2.3h-2.3zM215.3 208.4h2.3v2.3h-2.3zM217.1 210.6h2.3v2.3h-2.3zM218.2 207.8h2.3v2.3h-2.3zM219.2 208.1h2.3v2.3h-2.3zM220.1 202.6h2.3v2.3h-2.3zM221.5 206.0h2.3v2.3h-2.3zM222.2 204.6h2.3v2.3h-2.3zM223.7 205.4h2.3v2.3h-2.3zM224.8 209.4h2.3v2.3h-2.3zM225.9 205.3h2.3v2.3h-2.3zM226.8 207.2h2.3v2.3h-2.3zM227.7 203.1h2.3v2.3h-2.3zM229.0 207.6h2.3v2.3h-2.3zM230.6 208.5h2.3v2.3h-2.3zM231.2 206.8h2.3v2.3h-2.3zM232.2 207.0h2.3v2.3h-2.3zM233.5 213.6h2.3v2.3h-2.3zM234.8 206.2h2.3v2.3h-2.3zM236.0 206.8h2.3v2.3h-2.3zM237.4 207.7h2.3v2.3h-2.3zM238.5 212.9h2.3v2.3h-2.3zM239.7 215.4h2.3v2.3h-2.3zM240.8 211.2h2.3v2.3h-2.3zM241.5 208.8h2.3v2.3h-2.3zM242.4 209.7h2.3v2.3h-2.3zM244.2 213.7h2.3v2.3h-2.3zM244.7 209.0h2.3v2.3h-2.3zM246.2 215.2h2.3v2.3h-2.3zM247.0 215.3h2.3v2.3h-2.3zM248.6 212.1h2.3v2.3h-2.3zM249.2 213.8h2.3v2.3h-2.3zM250.5 214.3h2.3v2.3h-2.3zM251.5 216.5h2.3v2.3h-2.3zM253.1 210.1h2.3v2.3h-2.3zM254.1 216.0h2.3v2.3h-2.3zM255.2 212.2h2.3v2.3h-2.3zM256.1 211.4h2.3v2.3h-2.3zM257.1 213.9h2.3v2.3h-2.3zM258.7 213.2h2.3v2.3h-2.3zM259.8 211.4h2.3v2.3h-2.3zM260.9 210.0h2.3v2.3h-2.3zM262.2 211.9h2.3v2.3h-2.3zM263.0 218.4h2.3v2.3h-2.3zM263.8 220.0h2.3v2.3h-2.3zM265.3 216.7h2.3v2.3h-2.3zM266.2 218.3h2.3v2.3h-2.3zM267.5 214.0h2.3v2.3h-2.3zM268.6 215.4h2.3v2.3h-2.3zM269.8 216.6h2.3v2.3h-2.3zM271.2 213.1h2.3v2.3h-2.3zM272.2 213.6h2.3v2.3h-2.3zM273.0 216.7h2.3v2.3h-2.3zM274.5 215.7h2.3v2.3h-2.3zM275.6 213.9h2.3v2.3h-2.3zM276.7 218.0h2.3v2.3h-2.3zM277.6 216.5h2.3v2.3h-2.3zM279.0 220.1h2.3v2.3h-2.3zM279.8 217.5h2.3v2.3h-2.3zM280.7 216.9h2.3v2.3h-2.3zM281.9 218.3h2.3v2.3h-2.3zM283.3 217.7h2.3v2.3h-2.3zM284.3 216.5h2.3v2.3h-2.3zM285.4 217.4h2.3v2.3h-2.3zM286.5 220.7h2.3v2.3h-2.3zM287.5 220.7h2.3v2.3h-2.3zM288.5 222.6h2.3v2.3h-2.3zM289.6 214.6h2.3v2.3h-2.3zM291.2 218.4h2.3v2.3h-2.3zM292.1 218.5h2.3v2.3h-2.3zM293.3 220.3h2.3v2.3h-2.3zM294.8 218.7h2.3v2.3h-2.3zM295.7 218.8h2.3v2.3h-2.3zM297.0 222.6h2.3v2.3h-2.3zM298.1 221.0h2.3v2.3h-2.3zM299.3 217.5h2.3v2.3h-2.3zM299.8 224.7h2.3v2.3h-2.3zM301.1 223.9h2.3v2.3h-2.3zM302.7 219.7h2.3v2.3h-2.3zM303.5 223.8h2.3v2.3h-2.3zM305.0 219.6h2.3v2.3h-2.3zM305.5 225.0h2.3v2.3h-2.3zM306.5 221.4h2.3v2.3h-2.3zM308.3 219.9h2.3v2.3h-2.3zM309.0 221.3h2.3v2.3h-2.3zM310.2 220.4h2.3v2.3h-2.3zM311.7 223.3h2.3v2.3h-2.3zM312.3 223.4h2.3v2.3h-2.3zM314.0 223.2h2.3v2.3h-2.3zM314.7 221.7h2.3v2.3h-2.3zM315.7 212.9h2.3v2.3h-2.3zM316.8 223.9h2.3v2.3h-2.3zM318.1 218.3h2.3v2.3h-2.3zM319.2 224.7h2.3v2.3h-2.3zM320.7 227.5h2.3v2.3h-2.3zM321.1 225.1h2.3v2.3h-2.3zM322.3 223.4h2.3v2.3h-2.3zM323.5 224.2h2.3v2.3h-2.3zM325.0 224.5h2.3v2.3h-2.3zM326.2 223.4h2.3v2.3h-2.3zM327.1 223.5h2.3v2.3h-2.3zM328.3 222.7h2.3v2.3h-2.3zM329.5 229.1h2.3v2.3h-2.3zM330.1 225.7h2.3v2.3h-2.3zM331.4 228.8h2.3v2.3h-2.3zM333.1 225.4h2.3v2.3h-2.3zM333.7 226.5h2.3v2.3h-2.3zM335.4 226.0h2.3v2.3h-2.3zM336.1 228.0h2.3v2.3h-2.3zM337.0 229.3h2.3v2.3h-2.3zM338.0 227.7h2.3v2.3h-2.3zM339.3 225.1h2.3v2.3h-2.3zM340.5 225.0h2.3v2.3h-2.3zM341.7 232.5h2.3v2.3h-2.3zM342.8 226.9h2.3v2.3h-2.3zM344.0 227.0h2.3v2.3h-2.3zM345.1 232.5h2.3v2.3h-2.3zM345.9 231.5h2.3v2.3h-2.3zM347.2 230.0h2.3v2.3h-2.3zM348.9 227.4h2.3v2.3h-2.3zM349.3 235.9h2.3v2.3h-2.3zM350.9 230.1h2.3v2.3h-2.3zM351.9 230.8h2.3v2.3h-2.3zM353.2 228.8h2.3v2.3h-2.3zM354.0 225.1h2.3v2.3h-2.3zM355.2 225.5h2.3v2.3h-2.3zM356.4 231.1h2.3v2.3h-2.3zM357.8 231.2h2.3v2.3h-2.3z"/>
<path fill="#1a86f4" d="M63.1 11.6h2.3v2.3h-2.3zM64.2 17.5h2.3v2.3h-2.3zM65.3 24.1h2.3v2.3h-2.3zM66.3 30.4h2.3v2.3h-2.3zM67.4 36.7h2.3v2.3h-2.3zM68.4 41.9h2.3v2.3h-2.3zM69.4 47.3h2.3v2.3h-2.3zM70.8 53.5h2.3v2.3h-2.3zM72.2 58.8h2.3v2.3h-2.3zM73.2 63.4h2.3v2.3h-2.3zM74.0 67.6h2.3v2.3h-2.3zM75.6 72.6h2.3v2.3h-2.3zM76.1 76.7h2.3v2.3h-2.3zM78.0 81.2h2.3v2.3h-2.3zM78.9 83.8h2.3v2.3h-2.3zM79.9 88.2h2.3v2.3h-2.3zM80.9 91.5h2.3v2.3h-2.3zM82.4 94.1h2.3v2.3h-2.3zM82.9 98.1h2.3v2.3h-2.3zM84.0 100.9h2.3v2.3h-2.3zM85.5 103.4h2.3v2.3h-2.3zM86.5 106.6h2.3v2.3h-2.3zM87.7 107.7h2.3v2.3h-2.3zM88.9 111.2h2.3v2.3h-2.3zM89.6 113.9h2.3v2.3h-2.3zM91.5 116.0h2.3v2.3h-2.3zM92.4 118.8h2.3v2.3h-2.3zM93.1 118.8h2.3v2.3h-2.3zM94.7 120.5h2.3v2.3h-2.3zM95.7 123.9h2.3v2.3h-2.3zM96.9 126.0h2.3v2.3h-2.3zM98.1 129.4h2.3v2.3h-2.3zM99.4 129.6h2.3v2.3h-2.3zM99.8 129.8h2.3v2.3h-2.3zM101.7 133.2h2.3v2.3h-2.3zM102.4 133.1h2.3v2.3h-2.3zM103.3 133.9h2.3v2.3h-2.3zM104.5 139.8h2.3v2.3h-2.3zM105.7 138.9h2.3v2.3h-2.3zM107.2 140.8h2.3v2.3h-2.3zM108.0 142.0h2.3v2.3h-2.3zM108.8 144.9h2.3v2.3h-2.3zM110.4 144.5h2.3v2.3h-2.3zM111.4 147.0h2.3v2.3h-2.3zM112.8 145.7h2.3v2.3h-2.3zM113.3 146.5h2.3v2.3h-2.3zM115.1 151.2h2.3v2.3h-2.3zM116.2 152.6h2.3v2.3h-2.3zM116.6 152.6h2.3v2.3h-2.3zM118.1 153.5h2.3v2.3h-2.3zM119.0 154.6h2.3v2.3h-2.3zM120.4 154.7h2.3v2.3h-2.3zM121.2 158.8h2.3v2.3h-2.3zM123.0 158.8h2.3v2.3h-2.3zM123.5 159.8h2.3v2.3h-2.3zM125.0 160.7h2.3v2.3h-2.3zM126.2 162.7h2.3v2.3h-2.3zM127.0 163.1h2.3v2.3h-2.3zM128.1 164.5h2.3v2.3h-2.3zM129.7 162.8h2.3v2.3h-2.3zM130.2 166.2h2.3v2.3h-2.3zM131.5 169.7h2.3v2.3h-2.3zM132.6 166.7h2.3v2.3h-2.3zM134.0 168.3h2.3v2.3h-2.3zM134.9 170.8h2.3v2.3h-2.3zM135.8 171.9h2.3v2.3h-2.3zM137.3 172.3h2.3v2.3h-2.3zM138.6 169.7h2.3v2.3h-2.3zM139.7 173.9h2.3v2.3h-2.3zM140.7 172.1h2.3v2.3h-2.3zM141.6 173.5h2.3v2.3h-2.3zM142.5 176.6h2.3v2.3h-2.3zM144.1 176.0h2.3v2.3h-2.3zM145.3 178.7h2.3v2.3h-2.3zM146.2 183.4h2.3v2.3h-2.3zM147.8 180.2h2.3v2.3h-2.3zM148.3 180.9h2.3v2.3h-2.3zM149.9 178.9h2.3v2.3h-2.3zM151.0 180.1h2.3v2.3h-2.3zM152.2 180.1h2.3v2.3h-2.3zM153.4 181.8h2.3v2.3h-2.3zM154.0 181.5h2.3v2.3h-2.3zM155.6 182.9h2.3v2.3h-2.3zM156.3 184.4h2.3v2.3h-2.3zM157.7 183.7h2.3v2.3h-2.3zM159.0 183.5h2.3v2.3h-2.3zM159.9 184.3h2.3v2.3h-2.3zM161.0 188.3h2.3v2.3h-2.3zM161.7 188.2h2.3v2.3h-2.3zM163.3 190.6h2.3v2.3h-2.3zM164.1 191.3h2.3v2.3h-2.3zM165.3 189.2h2.3v2.3h-2.3zM166.5 191.7h2.3v2.3h-2.3zM168.1 188.2h2.3v2.3h-2.3zM168.9 196.0h2.3v2.3h-2.3zM170.1 194.5h2.3v2.3h-2.3zM170.8 192.2h2.3v2.3h-2.3zM172.0 190.9h2.3v2.3h-2.3zM173.6 194.5h2.3v2.3h-2.3zM174.1 190.5h2.3v2.3h-2.3zM175.9 193.1h2.3v2.3h-2.3zM176.6 196.7h2.3v2.3h-2.3zM177.7 195.8h2.3v2.3h-2.3zM178.9 195.2h2.3v2.3h-2.3zM180.0 198.6h2.3v2.3h-2.3zM181.2 194.9h2.3v2.3h-2.3zM182.2 198.1h2.3v2.3h-2.3zM183.6 196.9h2.3v2.3h-2.3zM184.4 196.6h2.3v2.3h-2.3zM185.4 199.8h2.3v2.3h-2.3zM186.8 197.1h2.3v2.3h-2.3zM187.6 203.7h2.3v2.3h-2.3zM189.0 198.8h2.3v2.3h-2.3zM190.2 204.7h2.3v2.3h-2.3zM191.5 198.5h2.3v2.3h-2.3zM192.1 202.5h2.3v2.3h-2.3zM193.5 199.0h2.3v2.3h-2.3zM194.9 199.0h2.3v2.3h-2.3zM195.7 202.7h2.3v2.3h-2.3zM197.2 204.2h2.3v2.3h-2.3zM198.2 200.2h2.3v2.3h-2.3zM198.8 206.0h2.3v2.3h-2.3zM200.2 202.0h2.3v2.3h-2.3zM201.7 204.4h2.3v2.3h-2.3zM202.6 205.3h2.3v2.3h-2.3zM203.8 206.1h2.3v2.3h-2.3zM205.2 201.0h2.3v2.3h-2.3zM206.1 209.1h2.3v2.3h-2.3zM207.1 207.0h2.3v2.3h-2.3zM208.5 205.1h2.3v2.3h-2.3zM209.3 204.0h2.3v2.3h-2.3zM210.1 202.7h2.3v2.3h-2.3zM211.4 203.8h2.3v2.3h-2.3zM212.8 208.5h2.3v2.3h-2.3zM214.2 206.7h2.3v2.3h-2.3zM215.0 205.2h2.3v2.3h-2.3zM215.9 206.9h2.3v2.3h-2.3zM217.6 212.1h2.3v2.3h-2.3zM218.2 207.9h2.3v2.3h-2.3zM219.2 207.6h2.3v2.3h-2.3zM220.6 212.4h2.3v2.3h-2.3zM221.6 210.6h2.3v2.3h-2.3zM222.5 209.9h2.3v2.3h-2.3zM224.1 208.6h2.3v2.3h-2.3zM225.2 206.6h2.3v2.3h-2.3zM226.6 207.8h2.3v2.3h-2.3zM227.0 209.7h2.3v2.3h-2.3zM228.8 210.5h2.3v2.3h-2.3zM229.8 212.2h2.3v2.3h-2.3zM230.5 212.9h2.3v2.3h-2.3zM231.8 212.4h2.3v2.3h-2.3zM233.1 212.6h2.3v2.3h-2.3zM233.9 209.9h2.3v2.3h-2.3zM234.9 207.3h2.3v2.3h-2.3zM236.6 211.5h2.3v2.3h-2.3zM237.2 210.7h2.3v2.3h-2.3zM238.6 211.7h2.3v2.3h-2.3zM239.7 212.8h2.3v2.3h-2.3zM241.2 210.7h2.3v2.3h-2.3zM242.0 211.2h2.3v2.3h-2.3zM243.0 214.0h2.3v2.3h-2.3zM244.6 214.7h2.3v2.3h-2.3zM245.2 213.0h2.3v2.3h-2.3zM246.6 216.2h2.3v2.3h-2.3zM247.4 214.6h2.3v2.3h-2.3zM248.9 212.8h2.3v2.3h-2.3zM250.0 215.7h2.3v2.3h-2.3zM251.2 220.6h2.3v2.3h-2.3zM252.1 214.3h2.3v2.3h-2.3zM253.0 219.2h2.3v2.3h-2.3zM254.4 220.0h2.3v2.3h-2.3zM255.8 220.5h2.3v2.3h-2.3zM256.4 214.8h2.3v2.3h-2.3zM257.3 222.3h2.3v2.3h-2.3zM258.6 217.6h2.3v2.3h-2.3zM260.3 216.9h2.3v2.3h-2.3zM260.7 217.1h2.3v2.3h-2.3zM261.9 219.5h2.3v2.3h-2.3zM263.0 218.3h2.3v2.3h-2.3zM264.8 217.9h2.3v2.3h-2.3zM265.5 221.9h2.3v2.3h-2.3zM266.9 216.9h2.3v2.3h-2.3zM268.0 216.2h2.3v2.3h-2.3zM268.9 221.3h2.3v2.3h-2.3zM270.3 221.2h2.3v2.3h-2.3zM271.2 222.5h2.3v2.3h-2.3zM272.4 216.9h2.3v2.3h-2.3zM273.3 222.9h2.3v2.3h-2.3zM274.2 221.5h2.3v2.3h-2.3zM275.8 225.1h2.3v2.3h-2.3zM276.7 217.2h2.3v2.3h-2.3zM277.8 221.4h2.3v2.3h-2.3zM279.4 220.2h2.3v2.3h-2.3zM280.1 216.9h2.3v2.3h-2.3zM281.0 219.4h2.3v2.3h-2.3zM282.6 224.6h2.3v2.3h-2.3zM283.6 220.5h2.3v2.3h-2.3zM284.4 220.0h2.3v2.3h-2.3zM285.7 224.5h2.3v2.3h-2.3zM287.1 225.1h2.3v2.3h-2.3zM287.9 225.3h2.3v2.3h-2.3zM289.6 220.6h2.3v2.3h-2.3zM290.6 222.8h2.3v2.3h-2.3zM291.5 226.0h2.3v2.3h-2.3zM292.9 221.5h2.3v2.3h-2.3zM293.4 221.4h2.3v2.3h-2.3zM294.6 226.0h2.3v2.3h-2.3zM296.3 228.2h2.3v2.3h-2.3zM297.1 220.9h2.3v2.3h-2.3zM298.0 217.0h2.3v2.3h-2.3zM299.4 220.4h2.3v2.3h-2.3zM300.7 221.8h2.3v2.3h-2.3zM301.7 224.5h2.3v2.3h-2.3zM302.4 226.8h2.3v2.3h-2.3zM303.5 224.8h2.3v2.3h-2.3zM304.9 223.4h2.3v2.3h-2.3zM305.7 226.0h2.3v2.3h-2.3zM306.9 223.0h2.3v2.3h-2.3zM308.5 225.8h2.3v2.3h-2.3zM309.4 224.3h2.3v2.3h-2.3zM310.3 234.0h2.3v2.3h-2.3zM312.0 228.9h2.3v2.3h-2.3zM312.8 224.3h2.3v2.3h-2.3zM314.3 224.0h2.3v2.3h-2.3zM315.2 225.8h2.3v2.3h-2.3zM316.3 222.5h2.3v2.3h-2.3zM317.3 225.3h2.3v2.3h-2.3zM318.6 225.5h2.3v2.3h-2.3zM319.4 230.4h2.3v2.3h-2.3zM320.6 226.8h2.3v2.3h-2.3zM322.2 225.9h2.3v2.3h-2.3zM322.8 224.5h2.3v2.3h-2.3zM324.0 225.1h2.3v2.3h-2.3zM325.4 228.5h2.3v2.3h-2.3zM326.2 228.3h2.3v2.3h-2.3zM327.4 232.4h2.3v2.3h-2.3zM329.0 227.4h2.3v2.3h-2.3zM329.5 232.6h2.3v2.3h-2.3zM330.7 230.4h2.3v2.3h-2.3zM332.3 229.8h2.3v2.3h-2.3zM333.0 224.0h2.3v2.3h-2.3zM334.1 226.3h2.3v2.3h-2.3zM335.7 232.6h2.3v2.3h-2.3zM336.4 234.7h2.3v2.3h-2.3zM338.0 231.3h2.3v2.3h-2.3zM339.0 233.2h2.3v2.3h-2.3zM340.2 229.9h2.3v2.3h-2.3zM340.8 230.1h2.3v2.3h-2.3zM341.9 229.4h2.3v2.3h-2.3zM343.5 234.6h2.3v2.3h-2.3zM344.6 232.8h2.3v2.3h-2.3zM345.3 231.3h2.3v2.3h-2.3zM346.4 231.2h2.3v2.3h-2.3zM347.6 234.0h2.3v2.3h-2.3zM348.6 233.5h2.3v2.3h-2.3zM350.0 230.2h2.3v2.3h-2.3zM351.1 238.1h2.3v2.3h-2.3zM352.4 233.9h2.3v2.3h-2.3zM353.0 233.3h2.3v2.3h-2.3zM354.3 238.0h2.3v2.3h-2.3zM355.3 236.8h2.3v2.3h-2.3zM356.6 233.5h2.3v2.3h-2.3zM357.6 235.6h2.3v2.3h-2.3z"/>
<path fill="#2e44ee" d="M62.0 6.1h2.3v2.3h-2.3zM63.0 13.0h2.3v2.3h-2.3zM64.3 20.0h2.3v2.3h-2.3zM65.5 26.4h2.3v2.3h-2.3zM67.0 32.4h2.3v2.3h-2.3zM68.0 38.6h2.3v2.3h-2.3zM68.5 44.3h2.3v2.3h-2.3zM69.7 49.6h2.3v2.3h-2.3zM71.5 56.1h2.3v2.3h-2.3zM72.3 60.9h2.3v2.3h-2.3zM73.5 66.9h2.3v2.3h-2.3zM74.4 70.1h2.3v2.3h-2.3zM75.9 74.9h2.3v2.3h-2.3zM76.8 79.7h2.3v2.3h-2.3zM78.0 83.1h2.3v2.3h-2.3zM78.8 86.3h2.3v2.3h-2.3zM80.4 90.2h2.3v2.3h-2.3zM81.0 94.2h2.3v2.3h-2.3zM82.1 97.6h2.3v2.3h-2.3zM83.6 100.4h2.3v2.3h-2.3zM84.9 104.1h2.3v2.3h-2.3zM85.6 106.9h2.3v2.3h-2.3zM86.7 109.0h2.3v2.3h-2.3zM87.7 111.3h2.3v2.3h-2.3zM89.2 113.4h2.3v2.3h-2.3zM90.5 116.3h2.3v2.3h-2.3zM91.1 118.8h2.3v2.3h-2.3zM92.6 120.2h2.3v2.3h-2.3zM93.7 122.6h2.3v2.3h-2.3zM94.5 123.8h2.3v2.3h-2.3zM95.9 124.7h2.3v2.3h-2.3zM96.8 126.8h2.3v2.3h-2.3zM97.9 130.3h2.3v2.3h-2.3zM99.7 131.7h2.3v2.3h-2.3zM100.1 134.5h2.3v2.3h-2.3zM101.4 134.6h2.3v2.3h-2.3zM102.8 137.0h2.3v2.3h-2.3zM103.7 139.1h2.3v2.3h-2.3zM104.5 140.2h2.3v2.3h-2.3zM106.3 140.0h2.3v2.3h-2.3zM107.0 141.9h2.3v2.3h-2.3zM108.2 143.7h2.3v2.3h-2.3zM109.7 143.9h2.3v2.3h-2.3zM110.9 146.9h2.3v2.3h-2.3zM112.0 148.9h2.3v2.3h-2.3zM112.7 148.5h2.3v2.3h-2.3zM114.1 152.7h2.3v2.3h-2.3zM115.3 151.3h2.3v2.3h-2.3zM115.9 152.7h2.3v2.3h-2.3zM117.7 153.9h2.3v2.3h-2.3zM118.1 154.5h2.3v2.3h-2.3zM119.7 157.2h2.3v2.3h-2.3zM120.5 157.9h2.3v2.3h-2.3zM121.6 161.2h2.3v2.3h-2.3zM122.6 161.0h2.3v2.3h-2.3zM124.4 162.0h2.3v2.3h-2.3zM124.9 162.1h2.3v2.3h-2.3zM126.6 161.6h2.3v2.3h-2.3zM127.2 164.5h2.3v2.3h-2.3zM128.4 164.5h2.3v2.3h-2.3zM129.4 168.1h2.3v2.3h-2.3zM131.2 167.7h2.3v2.3h-2.3zM131.6 171.2h2.3v2.3h-2.3zM133.3 170.9h2.3v2.3h-2.3zM134.0 172.0h2.3v2.3h-2.3zM135.7 172.1h2.3v2.3h-2.3zM136.6 173.0h2.3v2.3h-2.3zM137.4 174.7h2.3v2.3h-2.3zM138.7 176.0h2.3v2.3h-2.3zM139.5 174.4h2.3v2.3h-2.3zM140.9 177.1h2.3v2.3h-2.3zM141.7 181.4h2.3v2.3h-2.3zM143.3 178.0h2.3v2.3h-2.3zM144.4 178.5h2.3v2.3h-2.3zM145.2 178.6h2.3v2.3h-2.3zM146.2 178.2h2.3v2.3h-2.3zM148.0 183.4h2.3v2.3h-2.3zM148.5 182.3h2.3v2.3h-2.3zM149.8 183.5h2.3v2.3h-2.3zM150.7 186.9h2.3v2.3h-2.3zM152.1 188.8h2.3v2.3h-2.3zM153.2 183.7h2.3v2.3h-2.3zM154.5 187.8h2.3v2.3h-2.3zM155.4 187.8h2.3v2.3h-2.3zM156.5 188.1h2.3v2.3h-2.3zM158.0 188.9h2.3v2.3h-2.3zM158.8 188.7h2.3v2.3h-2.3zM159.9 192.3h2.3v2.3h-2.3zM161.2 191.2h2.3v2.3h-2.3zM162.1 191.3h2.3v2.3h-2.3zM163.6 193.7h2.3v2.3h-2.3zM164.2 193.6h2.3v2.3h-2.3zM165.5 193.4h2.3v2.3h-2.3zM166.8 193.8h2.3v2.3h-2.3zM167.7 197.1h2.3v2.3h-2.3zM169.3 195.3h2.3v2.3h-2.3zM170.1 194.7h2.3v2.3h-2.3zM171.3 193.7h2.3v2.3h-2.3zM172.4 195.3h2.3v2.3h-2.3zM173.8 194.4h2.3v2.3h-2.3zM174.5 197.2h2.3v2.3h-2.3zM176.1 198.0h2.3v2.3h-2.3zM177.3 193.9h2.3v2.3h-2.3zM177.9 198.5h2.3v2.3h-2.3zM178.9 200.3h2.3v2.3h-2.3zM180.6 199.8h2.3v2.3h-2.3zM181.3 198.0h2.3v2.3h-2.3zM182.4 203.0h2.3v2.3h-2.3zM183.4 199.4h2.3v2.3h-2.3zM184.9 198.7h2.3v2.3h-2.3zM186.3 199.5h2.3v2.3h-2.3zM187.4 202.1h2.3v2.3h-2.3zM188.3 204.7h2.3v2.3h-2.3zM189.3 205.5h2.3v2.3h-2.3zM190.8 203.8h2.3v2.3h-2.3zM191.7 201.2h2.3v2.3h-2.3zM193.1 202.8h2.3v2.3h-2.3zM194.0 202.6h2.3v2.3h-2.3zM195.1 204.6h2.3v2.3h-2.3zM196.2 201.5h2.3v2.3h-2.3zM196.9 206.0h2.3v2.3h-2.3zM198.1 207.5h2.3v2.3h-2.3zM199.1 206.1h2.3v2.3h-2.3zM200.9 207.8h2.3v2.3h-2.3zM202.1 205.1h2.3v2.3h-2.3zM202.9 204.3h2.3v2.3h-2.3zM203.7 206.4h2.3v2.3h-2.3zM204.8 210.8h2.3v2.3h-2.3zM206.2 210.8h2.3v2.3h-2.3zM207.2 207.8h2.3v2.3h-2.3zM208.2 211.9h2.3v2.3h-2.3zM209.3 208.7h2.3v2.3h-2.3zM210.8 213.2h2.3v2.3h-2.3zM212.1 211.2h2.3v2.3h-2.3zM212.6 209.4h2.3v2.3h-2.3zM213.9 212.5h2.3v2.3h-2.3zM215.1 209.2h2.3v2.3h-2.3zM216.4 209.1h2.3v2.3h-2.3zM217.5 208.2h2.3v2.3h-2.3zM218.5 212.5h2.3v2.3h-2.3zM220.0 212.0h2.3v2.3h-2.3zM220.8 212.3h2.3v2.3h-2.3zM221.8 211.8h2.3v2.3h-2.3zM223.3 216.4h2.3v2.3h-2.3zM224.5 212.3h2.3v2.3h-2.3zM225.6 211.8h2.3v2.3h-2.3zM226.2 216.8h2.3v2.3h-2.3zM227.4 217.5h2.3v2.3h-2.3zM228.7 215.2h2.3v2.3h-2.3zM230.2 210.4h2.3v2.3h-2.3zM231.1 213.4h2.3v2.3h-2.3zM232.2 216.6h2.3v2.3h-2.3zM233.1 215.4h2.3v2.3h-2.3zM234.7 219.4h2.3v2.3h-2.3zM235.2 212.6h2.3v2.3h-2.3zM236.6 217.8h2.3v2.3h-2.3zM237.9 214.9h2.3v2.3h-2.3zM239.1 219.9h2.3v2.3h-2.3zM240.2 216.7h2.3v2.3h-2.3zM241.0 219.7h2.3v2.3h-2.3zM242.0 215.8h2.3v2.3h-2.3zM243.7 214.1h2.3v2.3h-2.3zM244.5 215.1h2.3v2.3h-2.3zM245.4 216.6h2.3v2.3h-2.3zM246.4 215.7h2.3v2.3h-2.3zM248.1 221.6h2.3v2.3h-2.3zM249.3 222.1h2.3v2.3h-2.3zM250.2 219.7h2.3v2.3h-2.3zM251.1 216.6h2.3v2.3h-2.3zM252.5 219.2h2.3v2.3h-2.3zM253.9 217.9h2.3v2.3h-2.3zM254.7 223.6h2.3v2.3h-2.3zM256.0 220.9h2.3v2.3h-2.3zM257.2 221.6h2.3v2.3h-2.3zM258.2 219.5h2.3v2.3h-2.3zM259.1 215.6h2.3v2.3h-2.3zM260.0 219.0h2.3v2.3h-2.3zM261.5 218.3h2.3v2.3h-2.3zM262.8 222.4h2.3v2.3h-2.3zM264.0 221.9h2.3v2.3h-2.3zM264.5 219.8h2.3v2.3h-2.3zM265.6 221.1h2.3v2.3h-2.3zM267.1 226.4h2.3v2.3h-2.3zM268.4 220.0h2.3v2.3h-2.3zM268.9 220.3h2.3v2.3h-2.3zM270.5 222.3h2.3v2.3h-2.3zM271.3 221.3h2.3v2.3h-2.3zM273.0 222.2h2.3v2.3h-2.3zM273.6 225.0h2.3v2.3h-2.3zM274.5 228.4h2.3v2.3h-2.3zM276.2 219.2h2.3v2.3h-2.3zM277.0 224.1h2.3v2.3h-2.3zM278.2 224.5h2.3v2.3h-2.3zM279.1 224.4h2.3v2.3h-2.3zM280.4 224.3h2.3v2.3h-2.3zM281.3 224.1h2.3v2.3h-2.3zM282.6 227.9h2.3v2.3h-2.3zM283.9 224.1h2.3v2.3h-2.3zM284.8 225.3h2.3v2.3h-2.3zM286.3 225.8h2.3v2.3h-2.3zM287.6 226.3h2.3v2.3h-2.3zM288.4 225.7h2.3v2.3h-2.3zM289.1 229.1h2.3v2.3h-2.3zM291.0 226.6h2.3v2.3h-2.3zM291.5 227.3h2.3v2.3h-2.3zM292.8 226.9h2.3v2.3h-2.3zM294.0 224.4h2.3v2.3h-2.3zM295.2 225.1h2.3v2.3h-2.3zM296.1 224.7h2.3v2.3h-2.3zM297.3 228.3h2.3v2.3h-2.3zM298.6 226.0h2.3v2.3h-2.3zM299.6 225.2h2.3v2.3h-2.3zM300.6 229.0h2.3v2.3h-2.3zM301.8 230.0h2.3v2.3h-2.3zM302.9 223.8h2.3v2.3h-2.3zM304.0 233.7h2.3v2.3h-2.3zM305.3 229.2h2.3v2.3h-2.3zM306.4 229.0h2.3v2.3h-2.3zM307.4 232.5h2.3v2.3h-2.3zM308.8 229.9h2.3v2.3h-2.3zM310.0 228.2h2.3v2.3h-2.3zM311.0 236.4h2.3v2.3h-2.3zM311.9 227.2h2.3v2.3h-2.3zM313.5 230.2h2.3v2.3h-2.3zM313.9 233.1h2.3v2.3h-2.3zM315.6 227.8h2.3v2.3h-2.3zM316.5 230.8h2.3v2.3h-2.3zM317.6 232.4h2.3v2.3h-2.3zM319.0 238.4h2.3v2.3h-2.3zM320.0 229.0h2.3v2.3h-2.3zM321.4 231.7h2.3v2.3h-2.3zM322.4 233.9h2.3v2.3h-2.3zM323.0 232.4h2.3v2.3h-2.3zM324.4 228.9h2.3v2.3h-2.3zM325.7 233.8h2.3v2.3h-2.3zM326.3 233.1h2.3v2.3h-2.3zM327.8 234.2h2.3v2.3h-2.3zM329.3 236.5h2.3v2.3h-2.3zM329.8 236.3h2.3v2.3h-2.3zM330.8 234.7h2.3v2.3h-2.3zM332.1 234.6h2.3v2.3h-2.3zM333.3 230.6h2.3v2.3h-2.3zM334.4 233.6h2.3v2.3h-2.3zM335.6 234.9h2.3v2.3h-2.3zM337.0 233.2h2.3v2.3h-2.3zM337.9 234.9h2.3v2.3h-2.3zM339.1 232.3h2.3v2.3h-2.3zM339.8 239.6h2.3v2.3h-2.3zM340.9 241.6h2.3v2.3h-2.3zM342.8 234.2h2.3v2.3h-2.3zM343.4 236.7h2.3v2.3h-2.3zM345.0 235.0h2.3v2.3h-2.3zM345.6 239.7h2.3v2.3h-2.3zM347.0 237.4h2.3v2.3h-2.3zM348.2 236.5h2.3v2.3h-2.3zM348.8 235.8h2.3v2.3h-2.3zM349.9 237.0h2.3v2.3h-2.3zM351.4 233.8h2.3v2.3h-2.3zM352.2 239.1h2.3v2.3h-2.3zM353.5 235.0h2.3v2.3h-2.3zM354.5 239.0h2.3v2.3h-2.3zM355.8 238.0h2.3v2.3h-2.3zM357.0 241.1h2.3v2.3h-2.3z"/>
<path fill="#7a1ef2" d="M62.8 9.1h2.3v2.3h-2.3zM64.0 16.1h2.3v2.3h-2.3zM64.5 22.9h2.3v2.3h-2.3zM66.0 29.5h2.3v2.3h-2.3zM67.2 36.0h2.3v2.3h-2.3zM67.9 41.1h2.3v2.3h-2.3zM69.3 48.4h2.3v2.3h-2.3zM70.2 53.8h2.3v2.3h-2.3zM71.4 59.5h2.3v2.3h-2.3zM72.5 64.6h2.3v2.3h-2.3zM74.0 69.2h2.3v2.3h-2.3zM74.7 74.3h2.3v2.3h-2.3zM76.1 79.5h2.3v2.3h-2.3zM77.2 84.2h2.3v2.3h-2.3zM78.1 87.2h2.3v2.3h-2.3zM79.8 90.8h2.3v2.3h-2.3zM80.4 95.9h2.3v2.3h-2.3zM81.5 97.9h2.3v2.3h-2.3zM82.9 103.0h2.3v2.3h-2.3zM83.9 104.7h2.3v2.3h-2.3zM85.2 106.9h2.3v2.3h-2.3zM85.9 110.9h2.3v2.3h-2.3zM87.0 114.1h2.3v2.3h-2.3zM88.6 114.2h2.3v2.3h-2.3zM89.4 118.8h2.3v2.3h-2.3zM90.9 119.6h2.3v2.3h-2.3zM91.6 123.2h2.3v2.3h-2.3zM92.7 123.7h2.3v2.3h-2.3zM94.3 124.7h2.3v2.3h-2.3zM95.1 128.4h2.3v2.3h-2.3zM96.0 130.6h2.3v2.3h-2.3zM97.2 133.4h2.3v2.3h-2.3zM98.8 134.9h2.3v2.3h-2.3zM99.5 135.6h2.3v2.3h-2.3zM100.8 136.4h2.3v2.3h-2.3zM102.2 137.7h2.3v2.3h-2.3zM103.1 139.5h2.3v2.3h-2.3zM104.4 140.5h2.3v2.3h-2.3zM105.7 142.6h2.3v2.3h-2.3zM106.3 141.7h2.3v2.3h-2.3zM107.8 146.0h2.3v2.3h-2.3zM108.7 147.2h2.3v2.3h-2.3zM109.6 151.5h2.3v2.3h-2.3zM110.6 150.9h2.3v2.3h-2.3zM111.9 150.9h2.3v2.3h-2.3zM112.9 153.4h2.3v2.3h-2.3zM114.5 152.7h2.3v2.3h-2.3zM115.5 154.7h2.3v2.3h-2.3zM116.2 154.5h2.3v2.3h-2.3zM118.0 159.7h2.3v2.3h-2.3zM118.9 159.9h2.3v2.3h-2.3zM119.9 159.0h2.3v2.3h-2.3zM120.8 161.5h2.3v2.3h-2.3zM122.2 164.0h2.3v2.3h-2.3zM123.6 164.6h2.3v2.3h-2.3zM124.5 165.6h2.3v2.3h-2.3zM125.5 165.2h2.3v2.3h-2.3zM126.8 166.6h2.3v2.3h-2.3zM127.8 168.6h2.3v2.3h-2.3zM129.0 170.9h2.3v2.3h-2.3zM129.8 169.5h2.3v2.3h-2.3zM130.9 170.2h2.3v2.3h-2.3zM131.9 174.4h2.3v2.3h-2.3zM133.7 172.5h2.3v2.3h-2.3zM134.2 176.4h2.3v2.3h-2.3zM135.5 176.1h2.3v2.3h-2.3zM136.9 178.1h2.3v2.3h-2.3zM137.9 180.3h2.3v2.3h-2.3zM139.4 179.7h2.3v2.3h-2.3zM140.0 180.8h2.3v2.3h-2.3zM141.0 179.1h2.3v2.3h-2.3zM142.2 180.3h2.3v2.3h-2.3zM143.6 183.3h2.3v2.3h-2.3zM144.5 185.6h2.3v2.3h-2.3zM145.8 186.2h2.3v2.3h-2.3zM147.1 188.6h2.3v2.3h-2.3zM147.9 186.2h2.3v2.3h-2.3zM149.3 186.8h2.3v2.3h-2.3zM149.9 188.9h2.3v2.3h-2.3zM151.5 188.1h2.3v2.3h-2.3zM152.9 188.7h2.3v2.3h-2.3zM154.0 187.8h2.3v2.3h-2.3zM154.9 192.1h2.3v2.3h-2.3zM156.3 189.3h2.3v2.3h-2.3zM156.9 192.7h2.3v2.3h-2.3zM158.0 190.1h2.3v2.3h-2.3zM159.3 195.2h2.3v2.3h-2.3zM160.5 192.1h2.3v2.3h-2.3zM161.8 196.1h2.3v2.3h-2.3zM162.7 192.4h2.3v2.3h-2.3zM163.5 195.1h2.3v2.3h-2.3zM165.1 198.7h2.3v2.3h-2.3zM165.9 195.7h2.3v2.3h-2.3zM167.5 197.9h2.3v2.3h-2.3zM168.1 197.5h2.3v2.3h-2.3zM169.3 194.7h2.3v2.3h-2.3zM170.3 200.2h2.3v2.3h-2.3zM171.5 201.0h2.3v2.3h-2.3zM172.9 198.6h2.3v2.3h-2.3zM173.8 202.4h2.3v2.3h-2.3zM174.7 200.3h2.3v2.3h-2.3zM176.3 200.4h2.3v2.3h-2.3zM177.5 202.9h2.3v2.3h-2.3zM178.1 202.1h2.3v2.3h-2.3zM179.5 208.5h2.3v2.3h-2.3zM180.4 201.3h2.3v2.3h-2.3zM181.4 206.4h2.3v2.3h-2.3zM182.9 207.4h2.3v2.3h-2.3zM183.9 201.8h2.3v2.3h-2.3zM185.5 202.8h2.3v2.3h-2.3zM185.9 207.9h2.3v2.3h-2.3zM187.6 206.2h2.3v2.3h-2.3zM188.8 208.5h2.3v2.3h-2.3zM189.6 210.5h2.3v2.3h-2.3zM190.8 207.8h2.3v2.3h-2.3zM191.8 206.7h2.3v2.3h-2.3zM192.9 203.6h2.3v2.3h-2.3zM193.9 210.2h2.3v2.3h-2.3zM195.7 208.2h2.3v2.3h-2.3zM196.1 211.2h2.3v2.3h-2.3zM197.3 211.5h2.3v2.3h-2.3zM198.9 208.4h2.3v2.3h-2.3zM199.8 215.5h2.3v2.3h-2.3zM201.0 214.5h2.3v2.3h-2.3zM201.9 214.3h2.3v2.3h-2.3zM202.9 210.2h2.3v2.3h-2.3zM204.6 212.3h2.3v2.3h-2.3zM205.2 212.3h2.3v2.3h-2.3zM206.4 213.0h2.3v2.3h-2.3zM207.9 211.7h2.3v2.3h-2.3zM208.7 215.6h2.3v2.3h-2.3zM210.3 215.4h2.3v2.3h-2.3zM210.8 216.1h2.3v2.3h-2.3zM212.2 214.4h2.3v2.3h-2.3zM213.4 218.8h2.3v2.3h-2.3zM214.5 216.6h2.3v2.3h-2.3zM215.8 210.3h2.3v2.3h-2.3zM216.4 215.4h2.3v2.3h-2.3zM217.9 217.0h2.3v2.3h-2.3zM219.2 219.7h2.3v2.3h-2.3zM219.7 217.1h2.3v2.3h-2.3zM221.3 217.5h2.3v2.3h-2.3zM222.3 216.8h2.3v2.3h-2.3zM223.4 220.2h2.3v2.3h-2.3zM224.6 217.9h2.3v2.3h-2.3zM225.8 217.8h2.3v2.3h-2.3zM227.0 217.8h2.3v2.3h-2.3zM228.3 221.1h2.3v2.3h-2.3zM229.2 218.8h2.3v2.3h-2.3zM230.6 216.4h2.3v2.3h-2.3zM231.5 222.1h2.3v2.3h-2.3zM232.3 219.2h2.3v2.3h-2.3zM233.3 222.0h2.3v2.3h-2.3zM234.4 222.3h2.3v2.3h-2.3zM235.7 224.6h2.3v2.3h-2.3zM236.7 224.5h2.3v2.3h-2.3zM238.3 220.8h2.3v2.3h-2.3zM239.4 222.1h2.3v2.3h-2.3zM240.5 219.6h2.3v2.3h-2.3zM241.4 227.1h2.3v2.3h-2.3zM242.6 224.3h2.3v2.3h-2.3zM243.5 226.9h2.3v2.3h-2.3zM245.2 223.0h2.3v2.3h-2.3zM245.6 218.9h2.3v2.3h-2.3zM247.0 228.1h2.3v2.3h-2.3zM248.3 224.7h2.3v2.3h-2.3zM249.1 225.1h2.3v2.3h-2.3zM250.8 225.1h2.3v2.3h-2.3zM251.6 226.9h2.3v2.3h-2.3zM252.6 226.8h2.3v2.3h-2.3zM253.5 221.7h2.3v2.3h-2.3zM254.8 228.7h2.3v2.3h-2.3zM256.2 224.8h2.3v2.3h-2.3zM257.1 225.2h2.3v2.3h-2.3zM258.0 231.1h2.3v2.3h-2.3zM259.6 229.2h2.3v2.3h-2.3zM260.5 226.3h2.3v2.3h-2.3zM262.0 222.6h2.3v2.3h-2.3zM263.0 228.0h2.3v2.3h-2.3zM264.2 229.2h2.3v2.3h-2.3zM265.4 227.8h2.3v2.3h-2.3zM266.5 225.0h2.3v2.3h-2.3zM267.2 226.4h2.3v2.3h-2.3zM268.6 225.4h2.3v2.3h-2.3zM269.4 229.5h2.3v2.3h-2.3zM270.5 231.3h2.3v2.3h-2.3zM271.6 232.1h2.3v2.3h-2.3zM272.7 227.7h2.3v2.3h-2.3zM273.9 230.4h2.3v2.3h-2.3zM275.0 231.5h2.3v2.3h-2.3zM276.5 228.9h2.3v2.3h-2.3zM277.3 230.1h2.3v2.3h-2.3zM278.3 236.3h2.3v2.3h-2.3zM279.7 231.4h2.3v2.3h-2.3zM280.6 233.5h2.3v2.3h-2.3zM282.2 230.2h2.3v2.3h-2.3zM282.9 231.6h2.3v2.3h-2.3zM284.3 227.1h2.3v2.3h-2.3zM285.1 231.9h2.3v2.3h-2.3zM286.5 235.4h2.3v2.3h-2.3zM287.9 238.1h2.3v2.3h-2.3zM288.6 235.8h2.3v2.3h-2.3zM289.9 234.7h2.3v2.3h-2.3zM291.0 233.2h2.3v2.3h-2.3zM291.8 231.6h2.3v2.3h-2.3zM292.9 233.0h2.3v2.3h-2.3zM294.7 235.3h2.3v2.3h-2.3zM295.4 231.7h2.3v2.3h-2.3zM296.8 236.6h2.3v2.3h-2.3zM297.7 231.5h2.3v2.3h-2.3zM299.2 229.5h2.3v2.3h-2.3zM299.8 231.8h2.3v2.3h-2.3zM301.1 230.2h2.3v2.3h-2.3zM302.3 231.2h2.3v2.3h-2.3zM303.6 238.4h2.3v2.3h-2.3zM304.1 234.9h2.3v2.3h-2.3zM305.5 236.3h2.3v2.3h-2.3zM306.8 239.1h2.3v2.3h-2.3zM308.0 239.6h2.3v2.3h-2.3zM308.7 234.8h2.3v2.3h-2.3zM310.2 240.2h2.3v2.3h-2.3zM311.4 237.8h2.3v2.3h-2.3zM312.6 236.9h2.3v2.3h-2.3zM313.3 238.3h2.3v2.3h-2.3zM314.6 233.2h2.3v2.3h-2.3zM315.6 235.2h2.3v2.3h-2.3zM316.8 237.4h2.3v2.3h-2.3zM317.9 239.6h2.3v2.3h-2.3zM319.5 237.0h2.3v2.3h-2.3zM319.9 237.9h2.3v2.3h-2.3zM321.8 241.3h2.3v2.3h-2.3zM322.2 242.8h2.3v2.3h-2.3zM323.3 241.1h2.3v2.3h-2.3zM324.5 242.8h2.3v2.3h-2.3zM325.7 238.1h2.3v2.3h-2.3zM327.3 238.5h2.3v2.3h-2.3zM328.4 240.6h2.3v2.3h-2.3zM329.6 239.0h2.3v2.3h-2.3zM330.3 238.5h2.3v2.3h-2.3zM331.1 245.1h2.3v2.3h-2.3zM332.8 239.8h2.3v2.3h-2.3zM334.1 237.8h2.3v2.3h-2.3zM334.6 242.3h2.3v2.3h-2.3zM336.3 246.5h2.3v2.3h-2.3zM336.8 241.4h2.3v2.3h-2.3zM338.5 245.1h2.3v2.3h-2.3zM339.4 240.3h2.3v2.3h-2.3zM340.9 240.3h2.3v2.3h-2.3zM342.0 239.9h2.3v2.3h-2.3zM342.4 241.7h2.3v2.3h-2.3zM343.9 247.9h2.3v2.3h-2.3zM344.8 239.1h2.3v2.3h-2.3zM346.1 247.7h2.3v2.3h-2.3zM346.9 239.9h2.3v2.3h-2.3zM348.3 242.4h2.3v2.3h-2.3zM349.5 245.9h2.3v2.3h-2.3zM350.3 245.5h2.3v2.3h-2.3zM351.8 244.6h2.3v2.3h-2.3zM353.2 238.8h2.3v2.3h-2.3zM353.7 245.2h2.3v2.3h-2.3zM355.5 241.1h2.3v2.3h-2.3zM356.3 252.4h2.3v2.3h-2.3zM357.2 244.0h2.3v2.3h-2.3z"/>
<path fill="#c41ee0" d="M63.1 11.0h2.3v2.3h-2.3zM63.9 18.3h2.3v2.3h-2.3zM65.5 25.5h2.3v2.3h-2.3zM66.1 32.5h2.3v2.3h-2.3zM67.3 39.1h2.3v2.3h-2.3zM68.7 45.4h2.3v2.3h-2.3zM70.0 51.9h2.3v2.3h-2.3zM71.1 57.3h2.3v2.3h-2.3zM71.7 62.6h2.3v2.3h-2.3zM73.1 68.0h2.3v2.3h-2.3zM74.1 74.6h2.3v2.3h-2.3zM75.4 77.3h2.3v2.3h-2.3zM76.2 82.9h2.3v2.3h-2.3zM77.8 88.1h2.3v2.3h-2.3zM78.8 91.7h2.3v2.3h-2.3zM79.5 94.8h2.3v2.3h-2.3zM80.8 98.8h2.3v2.3h-2.3zM81.9 102.7h2.3v2.3h-2.3zM83.5 106.1h2.3v2.3h-2.3zM84.3 107.8h2.3v2.3h-2.3zM85.5 111.7h2.3v2.3h-2.3zM86.9 114.1h2.3v2.3h-2.3zM87.6 117.2h2.3v2.3h-2.3zM89.2 119.9h2.3v2.3h-2.3zM89.8 120.9h2.3v2.3h-2.3zM90.7 122.2h2.3v2.3h-2.3zM91.9 125.7h2.3v2.3h-2.3zM93.5 128.9h2.3v2.3h-2.3zM94.3 130.0h2.3v2.3h-2.3zM95.8 131.5h2.3v2.3h-2.3zM96.7 135.2h2.3v2.3h-2.3zM97.9 134.0h2.3v2.3h-2.3zM98.8 137.4h2.3v2.3h-2.3zM100.1 137.7h2.3v2.3h-2.3zM101.3 139.9h2.3v2.3h-2.3zM102.2 141.6h2.3v2.3h-2.3zM103.4 144.5h2.3v2.3h-2.3zM104.8 143.7h2.3v2.3h-2.3zM106.0 145.6h2.3v2.3h-2.3zM106.7 146.0h2.3v2.3h-2.3zM107.6 149.6h2.3v2.3h-2.3zM109.3 150.0h2.3v2.3h-2.3zM110.1 152.3h2.3v2.3h-2.3zM111.7 152.1h2.3v2.3h-2.3zM112.6 154.3h2.3v2.3h-2.3zM113.5 157.2h2.3v2.3h-2.3zM115.0 157.1h2.3v2.3h-2.3zM115.8 159.4h2.3v2.3h-2.3zM117.1 160.6h2.3v2.3h-2.3zM118.4 160.8h2.3v2.3h-2.3zM119.3 160.6h2.3v2.3h-2.3zM120.7 164.9h2.3v2.3h-2.3zM121.4 165.1h2.3v2.3h-2.3zM122.5 167.4h2.3v2.3h-2.3zM123.8 164.8h2.3v2.3h-2.3zM124.7 166.4h2.3v2.3h-2.3zM126.1 166.9h2.3v2.3h-2.3zM127.1 169.7h2.3v2.3h-2.3zM128.4 173.3h2.3v2.3h-2.3zM129.6 173.8h2.3v2.3h-2.3zM130.5 174.1h2.3v2.3h-2.3zM131.9 175.4h2.3v2.3h-2.3zM132.9 177.3h2.3v2.3h-2.3zM134.1 176.9h2.3v2.3h-2.3zM134.6 178.9h2.3v2.3h-2.3zM135.7 179.5h2.3v2.3h-2.3zM137.3 177.1h2.3v2.3h-2.3zM138.2 180.7h2.3v2.3h-2.3zM139.7 184.2h2.3v2.3h-2.3zM140.5 182.6h2.3v2.3h-2.3zM141.9 183.9h2.3v2.3h-2.3zM142.6 184.1h2.3v2.3h-2.3zM144.1 185.2h2.3v2.3h-2.3zM145.4 188.5h2.3v2.3h-2.3zM146.5 187.2h2.3v2.3h-2.3zM147.2 186.9h2.3v2.3h-2.3zM148.4 184.4h2.3v2.3h-2.3zM149.6 189.3h2.3v2.3h-2.3zM150.6 187.8h2.3v2.3h-2.3zM151.8 188.9h2.3v2.3h-2.3zM153.3 193.9h2.3v2.3h-2.3zM154.4 194.6h2.3v2.3h-2.3zM155.1 191.0h2.3v2.3h-2.3zM156.5 196.4h2.3v2.3h-2.3zM157.8 196.5h2.3v2.3h-2.3zM158.5 195.1h2.3v2.3h-2.3zM160.0 198.4h2.3v2.3h-2.3zM161.1 195.0h2.3v2.3h-2.3zM162.3 196.5h2.3v2.3h-2.3zM162.8 196.7h2.3v2.3h-2.3zM164.5 197.9h2.3v2.3h-2.3zM165.7 202.2h2.3v2.3h-2.3zM166.3 198.8h2.3v2.3h-2.3zM167.7 199.8h2.3v2.3h-2.3zM168.4 200.7h2.3v2.3h-2.3zM169.9 203.5h2.3v2.3h-2.3zM171.1 203.1h2.3v2.3h-2.3zM172.3 205.9h2.3v2.3h-2.3zM173.5 203.5h2.3v2.3h-2.3zM174.2 203.0h2.3v2.3h-2.3zM175.2 205.1h2.3v2.3h-2.3zM176.8 206.6h2.3v2.3h-2.3zM177.3 205.3h2.3v2.3h-2.3zM178.6 208.2h2.3v2.3h-2.3zM179.8 211.7h2.3v2.3h-2.3zM181.3 207.5h2.3v2.3h-2.3zM182.2 209.3h2.3v2.3h-2.3zM183.6 212.4h2.3v2.3h-2.3zM184.6 208.9h2.3v2.3h-2.3zM185.9 208.9h2.3v2.3h-2.3zM186.9 208.9h2.3v2.3h-2.3zM188.2 212.4h2.3v2.3h-2.3zM188.8 213.1h2.3v2.3h-2.3zM190.0 212.2h2.3v2.3h-2.3zM191.3 213.0h2.3v2.3h-2.3zM192.4 216.0h2.3v2.3h-2.3zM193.7 215.6h2.3v2.3h-2.3zM194.8 211.3h2.3v2.3h-2.3zM195.6 214.6h2.3v2.3h-2.3zM196.5 215.3h2.3v2.3h-2.3zM198.2 217.0h2.3v2.3h-2.3zM199.3 215.4h2.3v2.3h-2.3zM200.0 214.9h2.3v2.3h-2.3zM201.0 215.7h2.3v2.3h-2.3zM202.1 213.2h2.3v2.3h-2.3zM203.4 217.3h2.3v2.3h-2.3zM204.5 216.5h2.3v2.3h-2.3zM205.6 219.1h2.3v2.3h-2.3zM206.6 216.3h2.3v2.3h-2.3zM207.8 217.9h2.3v2.3h-2.3zM209.1 217.0h2.3v2.3h-2.3zM210.0 217.2h2.3v2.3h-2.3zM211.2 221.4h2.3v2.3h-2.3zM212.6 219.2h2.3v2.3h-2.3zM214.0 221.6h2.3v2.3h-2.3zM215.2 218.4h2.3v2.3h-2.3zM215.9 221.5h2.3v2.3h-2.3zM216.8 217.7h2.3v2.3h-2.3zM218.1 220.8h2.3v2.3h-2.3zM219.5 221.1h2.3v2.3h-2.3zM220.4 223.8h2.3v2.3h-2.3zM221.7 223.2h2.3v2.3h-2.3zM222.9 222.7h2.3v2.3h-2.3zM224.0 225.4h2.3v2.3h-2.3zM225.3 224.2h2.3v2.3h-2.3zM225.8 225.3h2.3v2.3h-2.3zM227.1 226.1h2.3v2.3h-2.3zM228.0 224.5h2.3v2.3h-2.3zM229.5 224.2h2.3v2.3h-2.3zM230.7 226.0h2.3v2.3h-2.3zM231.5 224.5h2.3v2.3h-2.3zM232.5 226.7h2.3v2.3h-2.3zM234.0 228.7h2.3v2.3h-2.3zM234.9 228.4h2.3v2.3h-2.3zM236.0 225.7h2.3v2.3h-2.3zM237.3 223.8h2.3v2.3h-2.3zM238.9 227.0h2.3v2.3h-2.3zM239.5 227.1h2.3v2.3h-2.3zM240.9 230.4h2.3v2.3h-2.3zM241.8 227.0h2.3v2.3h-2.3zM242.9 227.7h2.3v2.3h-2.3zM243.8 230.3h2.3v2.3h-2.3zM245.0 227.6h2.3v2.3h-2.3zM246.6 228.6h2.3v2.3h-2.3zM247.4 233.5h2.3v2.3h-2.3zM248.5 233.2h2.3v2.3h-2.3zM250.1 231.3h2.3v2.3h-2.3zM251.2 230.7h2.3v2.3h-2.3zM251.8 227.9h2.3v2.3h-2.3zM253.1 231.9h2.3v2.3h-2.3zM254.3 230.9h2.3v2.3h-2.3zM255.1 231.6h2.3v2.3h-2.3zM256.4 230.0h2.3v2.3h-2.3zM257.5 231.5h2.3v2.3h-2.3zM259.0 231.3h2.3v2.3h-2.3zM259.6 232.8h2.3v2.3h-2.3zM261.4 235.9h2.3v2.3h-2.3zM261.9 233.4h2.3v2.3h-2.3zM263.1 228.5h2.3v2.3h-2.3zM264.0 230.5h2.3v2.3h-2.3zM265.8 229.1h2.3v2.3h-2.3zM266.9 231.4h2.3v2.3h-2.3zM267.4 235.1h2.3v2.3h-2.3zM268.9 234.9h2.3v2.3h-2.3zM269.9 232.6h2.3v2.3h-2.3zM271.2 235.1h2.3v2.3h-2.3zM272.1 232.6h2.3v2.3h-2.3zM273.8 231.1h2.3v2.3h-2.3zM274.3 231.4h2.3v2.3h-2.3zM275.9 233.0h2.3v2.3h-2.3zM276.6 239.2h2.3v2.3h-2.3zM278.0 232.2h2.3v2.3h-2.3zM279.0 239.2h2.3v2.3h-2.3zM280.2 239.7h2.3v2.3h-2.3zM281.3 235.9h2.3v2.3h-2.3zM282.5 236.5h2.3v2.3h-2.3zM283.2 235.2h2.3v2.3h-2.3zM284.3 237.0h2.3v2.3h-2.3zM286.1 239.1h2.3v2.3h-2.3zM286.7 237.5h2.3v2.3h-2.3zM287.9 240.4h2.3v2.3h-2.3zM288.9 241.1h2.3v2.3h-2.3zM290.4 239.1h2.3v2.3h-2.3zM291.8 239.3h2.3v2.3h-2.3zM292.4 238.4h2.3v2.3h-2.3zM293.5 239.8h2.3v2.3h-2.3zM294.7 236.0h2.3v2.3h-2.3zM295.5 240.3h2.3v2.3h-2.3zM296.7 240.0h2.3v2.3h-2.3zM297.8 237.3h2.3v2.3h-2.3zM299.1 245.8h2.3v2.3h-2.3zM300.8 237.4h2.3v2.3h-2.3zM301.2 237.9h2.3v2.3h-2.3zM302.7 241.3h2.3v2.3h-2.3zM303.5 235.3h2.3v2.3h-2.3zM304.5 238.7h2.3v2.3h-2.3zM306.3 236.9h2.3v2.3h-2.3zM306.9 238.6h2.3v2.3h-2.3zM308.0 241.2h2.3v2.3h-2.3zM309.7 242.7h2.3v2.3h-2.3zM310.3 245.1h2.3v2.3h-2.3zM311.4 244.5h2.3v2.3h-2.3zM313.1 245.7h2.3v2.3h-2.3zM313.7 244.3h2.3v2.3h-2.3zM315.3 241.5h2.3v2.3h-2.3zM316.0 246.2h2.3v2.3h-2.3zM317.3 241.8h2.3v2.3h-2.3zM318.3 241.7h2.3v2.3h-2.3zM319.4 248.0h2.3v2.3h-2.3zM321.0 246.1h2.3v2.3h-2.3zM322.1 244.7h2.3v2.3h-2.3zM322.7 246.4h2.3v2.3h-2.3zM324.2 247.0h2.3v2.3h-2.3zM324.9 240.7h2.3v2.3h-2.3zM326.1 244.6h2.3v2.3h-2.3zM327.1 241.6h2.3v2.3h-2.3zM328.7 245.6h2.3v2.3h-2.3zM329.8 243.5h2.3v2.3h-2.3zM331.0 249.6h2.3v2.3h-2.3zM332.1 247.4h2.3v2.3h-2.3zM333.0 243.7h2.3v2.3h-2.3zM333.9 246.2h2.3v2.3h-2.3zM334.9 242.9h2.3v2.3h-2.3zM336.4 246.8h2.3v2.3h-2.3zM337.9 248.5h2.3v2.3h-2.3zM338.6 247.8h2.3v2.3h-2.3zM339.9 241.5h2.3v2.3h-2.3zM341.3 246.5h2.3v2.3h-2.3zM342.3 249.2h2.3v2.3h-2.3zM343.4 248.8h2.3v2.3h-2.3zM344.4 251.6h2.3v2.3h-2.3zM345.2 244.4h2.3v2.3h-2.3zM346.7 250.0h2.3v2.3h-2.3zM347.6 246.7h2.3v2.3h-2.3zM349.0 249.5h2.3v2.3h-2.3zM349.7 250.3h2.3v2.3h-2.3zM351.4 251.4h2.3v2.3h-2.3zM351.9 247.7h2.3v2.3h-2.3zM353.5 250.2h2.3v2.3h-2.3zM354.7 246.3h2.3v2.3h-2.3zM355.3 245.7h2.3v2.3h-2.3zM357.0 252.0h2.3v2.3h-2.3zM357.9 250.3h2.3v2.3h-2.3z"/>
<path fill="#0a0a0a" d="M62.4 7.4h2.3v2.3h-2.3zM63.7 15.2h2.3v2.3h-2.3zM64.4 22.9h2.3v2.3h-2.3zM65.9 30.1h2.3v2.3h-2.3zM66.6 36.6h2.3v2.3h-2.3zM67.7 43.4h2.3v2.3h-2.3zM68.9 50.4h2.3v2.3h-2.3zM70.0 56.8h2.3v2.3h-2.3zM71.7 61.6h2.3v2.3h-2.3zM72.2 67.6h2.3v2.3h-2.3zM73.5 73.3h2.3v2.3h-2.3zM74.7 78.9h2.3v2.3h-2.3zM76.0 82.8h2.3v2.3h-2.3zM77.3 88.0h2.3v2.3h-2.3zM78.2 91.8h2.3v2.3h-2.3zM79.5 97.3h2.3v2.3h-2.3zM80.0 100.0h2.3v2.3h-2.3zM81.6 103.2h2.3v2.3h-2.3zM82.3 106.4h2.3v2.3h-2.3zM84.0 110.4h2.3v2.3h-2.3zM84.9 113.1h2.3v2.3h-2.3zM85.7 114.7h2.3v2.3h-2.3zM87.4 118.2h2.3v2.3h-2.3zM88.2 119.6h2.3v2.3h-2.3zM89.3 122.3h2.3v2.3h-2.3zM90.1 124.2h2.3v2.3h-2.3zM91.9 126.3h2.3v2.3h-2.3zM92.7 128.8h2.3v2.3h-2.3zM94.1 130.5h2.3v2.3h-2.3zM94.6 133.6h2.3v2.3h-2.3zM96.2 135.7h2.3v2.3h-2.3zM97.1 136.6h2.3v2.3h-2.3zM98.4 137.6h2.3v2.3h-2.3zM99.6 141.0h2.3v2.3h-2.3zM100.8 140.1h2.3v2.3h-2.3zM102.0 141.8h2.3v2.3h-2.3zM102.6 145.8h2.3v2.3h-2.3zM104.2 147.3h2.3v2.3h-2.3zM104.8 149.2h2.3v2.3h-2.3zM105.8 149.5h2.3v2.3h-2.3zM107.2 150.0h2.3v2.3h-2.3zM108.3 152.2h2.3v2.3h-2.3zM109.8 154.7h2.3v2.3h-2.3zM110.8 154.7h2.3v2.3h-2.3zM111.8 156.2h2.3v2.3h-2.3zM113.2 156.8h2.3v2.3h-2.3zM114.4 158.4h2.3v2.3h-2.3zM115.3 161.9h2.3v2.3h-2.3zM116.5 162.8h2.3v2.3h-2.3zM117.8 162.3h2.3v2.3h-2.3zM118.4 163.6h2.3v2.3h-2.3zM120.1 165.5h2.3v2.3h-2.3zM120.6 168.0h2.3v2.3h-2.3zM121.6 167.2h2.3v2.3h-2.3zM123.4 169.6h2.3v2.3h-2.3zM124.0 168.4h2.3v2.3h-2.3zM125.2 170.7h2.3v2.3h-2.3zM126.5 173.9h2.3v2.3h-2.3zM127.3 175.7h2.3v2.3h-2.3zM128.7 174.2h2.3v2.3h-2.3zM129.7 175.8h2.3v2.3h-2.3zM130.6 178.9h2.3v2.3h-2.3zM132.2 178.5h2.3v2.3h-2.3zM133.2 179.3h2.3v2.3h-2.3zM134.1 181.8h2.3v2.3h-2.3zM135.7 182.4h2.3v2.3h-2.3zM136.5 184.7h2.3v2.3h-2.3zM137.3 185.3h2.3v2.3h-2.3zM139.2 184.3h2.3v2.3h-2.3zM139.9 186.0h2.3v2.3h-2.3zM140.8 187.0h2.3v2.3h-2.3zM142.1 186.1h2.3v2.3h-2.3zM143.2 187.5h2.3v2.3h-2.3zM144.1 191.3h2.3v2.3h-2.3zM145.5 188.4h2.3v2.3h-2.3zM146.5 193.2h2.3v2.3h-2.3zM147.6 193.0h2.3v2.3h-2.3zM149.1 193.2h2.3v2.3h-2.3zM149.8 195.1h2.3v2.3h-2.3zM150.9 195.9h2.3v2.3h-2.3zM152.1 197.9h2.3v2.3h-2.3zM153.3 196.1h2.3v2.3h-2.3zM154.3 197.2h2.3v2.3h-2.3zM155.8 198.0h2.3v2.3h-2.3zM157.2 202.3h2.3v2.3h-2.3zM158.3 201.5h2.3v2.3h-2.3zM159.1 199.1h2.3v2.3h-2.3zM160.5 200.9h2.3v2.3h-2.3zM161.6 200.9h2.3v2.3h-2.3zM162.6 202.9h2.3v2.3h-2.3zM163.9 203.9h2.3v2.3h-2.3zM164.6 208.3h2.3v2.3h-2.3zM166.1 201.7h2.3v2.3h-2.3zM167.0 207.4h2.3v2.3h-2.3zM168.3 207.1h2.3v2.3h-2.3zM169.4 205.6h2.3v2.3h-2.3zM170.0 207.3h2.3v2.3h-2.3zM171.8 207.3h2.3v2.3h-2.3zM172.3 208.9h2.3v2.3h-2.3zM173.7 211.3h2.3v2.3h-2.3zM174.9 207.1h2.3v2.3h-2.3zM176.3 213.0h2.3v2.3h-2.3zM176.8 210.4h2.3v2.3h-2.3zM178.4 214.5h2.3v2.3h-2.3zM179.3 213.0h2.3v2.3h-2.3zM180.1 215.2h2.3v2.3h-2.3zM181.5 214.4h2.3v2.3h-2.3zM182.9 216.0h2.3v2.3h-2.3zM183.5 214.5h2.3v2.3h-2.3zM185.3 213.2h2.3v2.3h-2.3zM185.8 216.7h2.3v2.3h-2.3zM187.0 217.3h2.3v2.3h-2.3zM188.2 220.5h2.3v2.3h-2.3zM189.2 212.8h2.3v2.3h-2.3zM191.0 216.9h2.3v2.3h-2.3zM192.1 219.9h2.3v2.3h-2.3zM193.2 215.7h2.3v2.3h-2.3zM193.8 218.2h2.3v2.3h-2.3zM195.4 223.5h2.3v2.3h-2.3zM196.1 222.5h2.3v2.3h-2.3zM197.2 218.1h2.3v2.3h-2.3zM198.7 223.4h2.3v2.3h-2.3zM199.3 223.3h2.3v2.3h-2.3zM200.4 222.9h2.3v2.3h-2.3zM202.2 222.4h2.3v2.3h-2.3zM202.9 222.5h2.3v2.3h-2.3zM204.4 220.6h2.3v2.3h-2.3zM205.2 221.7h2.3v2.3h-2.3zM206.1 224.8h2.3v2.3h-2.3zM207.5 223.9h2.3v2.3h-2.3zM208.4 228.0h2.3v2.3h-2.3zM209.4 223.6h2.3v2.3h-2.3zM210.5 219.4h2.3v2.3h-2.3zM211.9 224.3h2.3v2.3h-2.3zM212.9 226.0h2.3v2.3h-2.3zM214.1 226.6h2.3v2.3h-2.3zM215.8 226.3h2.3v2.3h-2.3zM216.8 224.6h2.3v2.3h-2.3zM217.8 230.2h2.3v2.3h-2.3zM218.6 225.7h2.3v2.3h-2.3zM220.1 229.1h2.3v2.3h-2.3zM221.2 227.2h2.3v2.3h-2.3zM222.2 225.4h2.3v2.3h-2.3zM223.1 231.7h2.3v2.3h-2.3zM224.2 223.0h2.3v2.3h-2.3zM225.5 227.1h2.3v2.3h-2.3zM226.5 230.4h2.3v2.3h-2.3zM228.1 228.9h2.3v2.3h-2.3zM228.9 231.8h2.3v2.3h-2.3zM230.2 230.1h2.3v2.3h-2.3zM231.5 229.6h2.3v2.3h-2.3zM232.4 236.0h2.3v2.3h-2.3zM233.1 230.7h2.3v2.3h-2.3zM234.4 231.2h2.3v2.3h-2.3zM236.0 229.3h2.3v2.3h-2.3zM236.4 230.4h2.3v2.3h-2.3zM237.7 234.0h2.3v2.3h-2.3zM239.1 234.0h2.3v2.3h-2.3zM240.4 233.0h2.3v2.3h-2.3zM241.5 231.6h2.3v2.3h-2.3zM242.6 235.2h2.3v2.3h-2.3zM243.7 229.7h2.3v2.3h-2.3zM244.6 233.3h2.3v2.3h-2.3zM245.4 233.8h2.3v2.3h-2.3zM247.0 232.6h2.3v2.3h-2.3zM247.7 235.3h2.3v2.3h-2.3zM249.4 233.6h2.3v2.3h-2.3zM250.0 233.5h2.3v2.3h-2.3zM251.0 240.2h2.3v2.3h-2.3zM252.9 237.8h2.3v2.3h-2.3zM253.4 239.2h2.3v2.3h-2.3zM254.9 236.7h2.3v2.3h-2.3zM255.6 239.2h2.3v2.3h-2.3zM257.4 239.0h2.3v2.3h-2.3zM257.8 240.3h2.3v2.3h-2.3zM259.4 243.5h2.3v2.3h-2.3zM260.7 237.2h2.3v2.3h-2.3zM261.4 238.7h2.3v2.3h-2.3zM262.3 238.2h2.3v2.3h-2.3zM263.4 229.6h2.3v2.3h-2.3zM264.6 235.3h2.3v2.3h-2.3zM266.2 239.1h2.3v2.3h-2.3zM267.2 240.9h2.3v2.3h-2.3zM268.6 238.1h2.3v2.3h-2.3zM269.5 242.7h2.3v2.3h-2.3zM270.6 243.4h2.3v2.3h-2.3zM271.4 239.2h2.3v2.3h-2.3zM272.6 244.2h2.3v2.3h-2.3zM274.3 245.3h2.3v2.3h-2.3zM275.4 242.2h2.3v2.3h-2.3zM276.1 238.7h2.3v2.3h-2.3zM277.5 245.3h2.3v2.3h-2.3zM278.6 241.3h2.3v2.3h-2.3zM279.4 241.0h2.3v2.3h-2.3zM280.4 242.5h2.3v2.3h-2.3zM282.0 241.0h2.3v2.3h-2.3zM283.3 245.5h2.3v2.3h-2.3zM284.4 245.0h2.3v2.3h-2.3zM285.1 246.4h2.3v2.3h-2.3zM286.0 244.9h2.3v2.3h-2.3zM287.3 241.5h2.3v2.3h-2.3zM288.2 243.4h2.3v2.3h-2.3zM290.1 246.4h2.3v2.3h-2.3zM290.7 243.2h2.3v2.3h-2.3zM292.2 252.4h2.3v2.3h-2.3zM292.9 244.1h2.3v2.3h-2.3zM294.5 243.4h2.3v2.3h-2.3zM295.3 248.3h2.3v2.3h-2.3zM296.7 247.5h2.3v2.3h-2.3zM297.6 245.6h2.3v2.3h-2.3zM298.9 245.2h2.3v2.3h-2.3zM299.5 247.3h2.3v2.3h-2.3zM300.6 248.6h2.3v2.3h-2.3zM301.9 248.6h2.3v2.3h-2.3zM303.5 245.9h2.3v2.3h-2.3zM304.6 248.2h2.3v2.3h-2.3zM305.6 249.5h2.3v2.3h-2.3zM306.6 249.5h2.3v2.3h-2.3zM307.3 239.0h2.3v2.3h-2.3zM309.2 245.3h2.3v2.3h-2.3zM310.1 245.9h2.3v2.3h-2.3zM311.2 247.6h2.3v2.3h-2.3zM312.5 249.0h2.3v2.3h-2.3zM313.1 251.3h2.3v2.3h-2.3zM314.5 250.7h2.3v2.3h-2.3zM315.7 248.8h2.3v2.3h-2.3zM316.9 249.4h2.3v2.3h-2.3zM317.5 254.6h2.3v2.3h-2.3zM319.1 248.0h2.3v2.3h-2.3zM320.4 250.9h2.3v2.3h-2.3zM321.3 254.7h2.3v2.3h-2.3zM322.1 251.4h2.3v2.3h-2.3zM323.8 244.7h2.3v2.3h-2.3zM324.3 251.9h2.3v2.3h-2.3zM325.5 249.9h2.3v2.3h-2.3zM327.1 250.9h2.3v2.3h-2.3zM328.0 254.5h2.3v2.3h-2.3zM328.9 253.1h2.3v2.3h-2.3zM330.4 251.1h2.3v2.3h-2.3zM331.4 254.7h2.3v2.3h-2.3zM332.1 253.6h2.3v2.3h-2.3zM333.4 252.8h2.3v2.3h-2.3zM335.0 253.6h2.3v2.3h-2.3zM336.1 253.7h2.3v2.3h-2.3zM336.6 252.1h2.3v2.3h-2.3zM338.1 252.0h2.3v2.3h-2.3zM339.4 253.6h2.3v2.3h-2.3zM340.2 250.9h2.3v2.3h-2.3zM341.1 250.2h2.3v2.3h-2.3zM342.5 258.1h2.3v2.3h-2.3zM344.1 253.7h2.3v2.3h-2.3zM345.0 254.5h2.3v2.3h-2.3zM345.7 254.4h2.3v2.3h-2.3zM347.4 255.1h2.3v2.3h-2.3zM348.3 255.3h2.3v2.3h-2.3zM349.2 255.6h2.3v2.3h-2.3zM350.3 253.2h2.3v2.3h-2.3zM351.3 258.7h2.3v2.3h-2.3zM352.6 253.9h2.3v2.3h-2.3zM353.7 259.5h2.3v2.3h-2.3zM354.8 250.6h2.3v2.3h-2.3zM356.4 253.4h2.3v2.3h-2.3zM357.4 260.0h2.3v2.3h-2.3z"/>
<line x1="57.90" y1="3.60" x2="362.50" y2="3.60" stroke="#000" stroke-width="2.2" />
<line x1="59.00" y1="2.50" x2="59.00" y2="296.00" stroke="#000" stroke-width="2.2" />
<line x1="361.40" y1="2.50" x2="361.40" y2="296.00" stroke="#000" stroke-width="2.2" />
<line x1="57.90" y1="294.90" x2="362.50" y2="294.90" stroke="#000" stroke-width="2.2" />
<line x1="61.50" y1="294.90" x2="61.50" y2="304.00" stroke="#000" stroke-width="2.2" />
<text x="61.50" y="322.80" font-family="Liberation Sans" font-size="15" font-weight="bold" text-anchor="middle" >0</text>
<line x1="120.74" y1="294.90" x2="120.74" y2="304.00" stroke="#000" stroke-width="2.2" />
<text x="120.74" y="322.80" font-family="Liberation Sans" font-size="15" font-weight="bold" text-anchor="middle" >2000</text>
<line x1="179.98" y1="294.90" x2="179.98" y2="304.00" stroke="#000" stroke-width="2.2" />
<text x="179.98" y="322.80" font-family="Liberation Sans" font-size="15" font-weight="bold" text-anchor="middle" >4000</text>
<line x1="239.22" y1="294.90" x2="239.22" y2="304.00" stroke="#000" stroke-width="2.2" />
<text x="239.22" y="322.80" font-family="Liberation Sans" font-size="15" font-weight="bold" text-anchor="middle" >6000</text>
<line x1="298.46" y1="294.90" x2="298.46" y2="304.00" stroke="#000" stroke-width="2.2" />
<text x="298.46" y="322.80" font-family="Liberation Sans" font-size="15" font-weight="bold" text-anchor="middle" >8000</text>
<line x1="357.70" y1="294.90" x2="357.70" y2="304.00" stroke="#000" stroke-width="2.2" />
<text x="357.70" y="322.80" font-family="Liberation Sans" font-size="15" font-weight="bold" text-anchor="middle" >10000</text>
<text x="210.50" y="340.90" font-family="Liberation Sans" font-size="15.3" font-weight="bold" text-anchor="middle" >Time Delay (ps)</text>
<line x1="50.20" y1="7.00" x2="59.00" y2="7.00" stroke="#000" stroke-width="2.2" />
<text x="45.60" y="12.40" font-family="Liberation Sans" font-size="15" font-weight="bold" text-anchor="end" >1</text>
<line x1="54.20" y1="80.74" x2="59.00" y2="80.74" stroke="#000" stroke-width="2.0" />
<text x="52.50" y="84.24" font-family="Liberation Sans" font-size="10" font-weight="bold" text-anchor="end" >2</text>
<line x1="54.20" y1="62.16" x2="59.00" y2="62.16" stroke="#000" stroke-width="2.0" />
<line x1="54.20" y1="48.98" x2="59.00" y2="48.98" stroke="#000" stroke-width="2.0" />
<text x="52.50" y="52.48" font-family="Liberation Sans" font-size="10" font-weight="bold" text-anchor="end" >4</text>
<line x1="54.20" y1="38.76" x2="59.00" y2="38.76" stroke="#000" stroke-width="2.0" />
<line x1="54.20" y1="30.41" x2="59.00" y2="30.41" stroke="#000" stroke-width="2.0" />
<text x="52.50" y="33.91" font-family="Liberation Sans" font-size="10" font-weight="bold" text-anchor="end" >6</text>
<line x1="54.20" y1="23.34" x2="59.00" y2="23.34" stroke="#000" stroke-width="2.0" />
<line x1="54.20" y1="17.22" x2="59.00" y2="17.22" stroke="#000" stroke-width="2.0" />
<text x="52.50" y="20.72" font-family="Liberation Sans" font-size="10" font-weight="bold" text-anchor="end" >8</text>
<line x1="54.20" y1="11.83" x2="59.00" y2="11.83" stroke="#000" stroke-width="2.0" />
<line x1="50.20" y1="112.50" x2="59.00" y2="112.50" stroke="#000" stroke-width="2.2" />
<text x="45.60" y="117.90" font-family="Liberation Sans" font-size="15" font-weight="bold" text-anchor="end" >0.1</text>
<line x1="54.20" y1="186.24" x2="59.00" y2="186.24" stroke="#000" stroke-width="2.0" />
<text x="52.50" y="189.74" font-family="Liberation Sans" font-size="10" font-weight="bold" text-anchor="end" >2</text>
<line x1="54.20" y1="167.66" x2="59.00" y2="167.66" stroke="#000" stroke-width="2.0" />
<line x1="54.20" y1="154.48" x2="59.00" y2="154.48" stroke="#000" stroke-width="2.0" />
<text x="52.50" y="157.98" font-family="Liberation Sans" font-size="10" font-weight="bold" text-anchor="end" >4</text>
<line x1="54.20" y1="144.26" x2="59.00" y2="144.26" stroke="#000" stroke-width="2.0" />
<line x1="54.20" y1="135.91" x2="59.00" y2="135.91" stroke="#000" stroke-width="2.0" />
<text x="52.50" y="139.41" font-family="Liberation Sans" font-size="10" font-weight="bold" text-anchor="end" >6</text>
<line x1="54.20" y1="128.84" x2="59.00" y2="128.84" stroke="#000" stroke-width="2.0" />
<line x1="54.20" y1="122.72" x2="59.00" y2="122.72" stroke="#000" stroke-width="2.0" />
<text x="52.50" y="126.22" font-family="Liberation Sans" font-size="10" font-weight="bold" text-anchor="end" >8</text>
<line x1="54.20" y1="117.33" x2="59.00" y2="117.33" stroke="#000" stroke-width="2.0" />
<line x1="50.20" y1="218.00" x2="59.00" y2="218.00" stroke="#000" stroke-width="2.2" />
<text x="45.60" y="223.40" font-family="Liberation Sans" font-size="15" font-weight="bold" text-anchor="end" >0.01</text>
<line x1="54.20" y1="291.74" x2="59.00" y2="291.74" stroke="#000" stroke-width="2.0" />
<text x="52.50" y="295.24" font-family="Liberation Sans" font-size="10" font-weight="bold" text-anchor="end" >2</text>
<line x1="54.20" y1="273.16" x2="59.00" y2="273.16" stroke="#000" stroke-width="2.0" />
<line x1="54.20" y1="259.98" x2="59.00" y2="259.98" stroke="#000" stroke-width="2.0" />
<text x="52.50" y="263.48" font-family="Liberation Sans" font-size="10" font-weight="bold" text-anchor="end" >4</text>
<line x1="54.20" y1="249.76" x2="59.00" y2="249.76" stroke="#000" stroke-width="2.0" />
<line x1="54.20" y1="241.41" x2="59.00" y2="241.41" stroke="#000" stroke-width="2.0" />
<text x="52.50" y="244.91" font-family="Liberation Sans" font-size="10" font-weight="bold" text-anchor="end" >6</text>
<line x1="54.20" y1="234.34" x2="59.00" y2="234.34" stroke="#000" stroke-width="2.0" />
<line x1="54.20" y1="228.22" x2="59.00" y2="228.22" stroke="#000" stroke-width="2.0" />
<text x="52.50" y="231.72" font-family="Liberation Sans" font-size="10" font-weight="bold" text-anchor="end" >8</text>
<line x1="54.20" y1="222.83" x2="59.00" y2="222.83" stroke="#000" stroke-width="2.0" />
<text x="12.10" y="147.00" font-family="Liberation Sans" font-size="15.4" font-weight="bold" text-anchor="middle" transform="rotate(-90 12.1 147)">Norm. 1PA PL</text>
<text x="6.60" y="22.60" font-family="Liberation Sans" font-size="18" font-weight="bold" text-anchor="start" >(a)</text>
<rect x="227.7" y="3.6" width="133.7" height="121.9" fill="#fff"/>
<path fill="#1ec81a" d="M230.9 7.6h2.4v2.4h-2.4zM231.2 11.4h2.4v2.4h-2.4zM231.4 11.2h2.4v2.4h-2.4zM231.5 10.3h2.4v2.4h-2.4zM231.6 5.1h2.4v2.4h-2.4zM231.6 9.6h2.4v2.4h-2.4zM231.6 8.9h2.4v2.4h-2.4zM231.8 7.8h2.4v2.4h-2.4zM232.0 10.6h2.4v2.4h-2.4zM232.1 10.8h2.4v2.4h-2.4zM232.1 12.8h2.4v2.4h-2.4zM232.4 10.3h2.4v2.4h-2.4zM232.8 18.4h2.4v2.4h-2.4zM233.1 12.3h2.4v2.4h-2.4zM233.1 18.4h2.4v2.4h-2.4zM233.1 19.9h2.4v2.4h-2.4zM233.3 16.1h2.4v2.4h-2.4zM233.3 16.9h2.4v2.4h-2.4zM233.7 26.7h2.4v2.4h-2.4zM233.8 19.7h2.4v2.4h-2.4zM234.1 26.0h2.4v2.4h-2.4zM234.6 26.3h2.4v2.4h-2.4zM234.7 21.7h2.4v2.4h-2.4zM234.8 27.2h2.4v2.4h-2.4zM234.8 23.3h2.4v2.4h-2.4zM235.1 26.7h2.4v2.4h-2.4zM235.5 20.9h2.4v2.4h-2.4zM235.6 27.3h2.4v2.4h-2.4zM235.8 31.3h2.4v2.4h-2.4zM236.0 31.9h2.4v2.4h-2.4zM236.3 32.0h2.4v2.4h-2.4zM236.4 28.8h2.4v2.4h-2.4zM236.5 29.6h2.4v2.4h-2.4zM236.6 26.7h2.4v2.4h-2.4zM236.7 29.5h2.4v2.4h-2.4zM237.1 30.5h2.4v2.4h-2.4zM237.2 30.2h2.4v2.4h-2.4zM237.4 32.1h2.4v2.4h-2.4zM237.5 31.1h2.4v2.4h-2.4zM237.7 30.0h2.4v2.4h-2.4zM238.1 30.7h2.4v2.4h-2.4zM238.2 35.2h2.4v2.4h-2.4zM238.3 39.8h2.4v2.4h-2.4zM238.3 36.5h2.4v2.4h-2.4zM238.4 33.0h2.4v2.4h-2.4zM238.5 42.7h2.4v2.4h-2.4zM238.6 35.8h2.4v2.4h-2.4zM238.6 32.8h2.4v2.4h-2.4zM238.7 36.5h2.4v2.4h-2.4zM238.8 38.5h2.4v2.4h-2.4zM239.0 29.5h2.4v2.4h-2.4zM239.3 31.2h2.4v2.4h-2.4zM239.4 36.7h2.4v2.4h-2.4zM240.0 32.5h2.4v2.4h-2.4zM240.0 32.7h2.4v2.4h-2.4zM240.1 40.9h2.4v2.4h-2.4zM240.1 28.7h2.4v2.4h-2.4zM240.4 40.8h2.4v2.4h-2.4zM240.5 38.6h2.4v2.4h-2.4zM240.6 41.7h2.4v2.4h-2.4zM240.7 37.8h2.4v2.4h-2.4zM240.9 43.0h2.4v2.4h-2.4zM241.1 38.7h2.4v2.4h-2.4zM241.1 35.2h2.4v2.4h-2.4zM241.5 38.6h2.4v2.4h-2.4zM241.5 40.2h2.4v2.4h-2.4zM241.5 34.3h2.4v2.4h-2.4zM241.9 43.0h2.4v2.4h-2.4zM241.9 36.8h2.4v2.4h-2.4zM242.4 41.6h2.4v2.4h-2.4zM242.4 39.9h2.4v2.4h-2.4zM242.5 40.7h2.4v2.4h-2.4zM242.6 40.5h2.4v2.4h-2.4zM242.8 41.4h2.4v2.4h-2.4zM242.9 44.1h2.4v2.4h-2.4zM243.2 43.7h2.4v2.4h-2.4zM243.3 40.5h2.4v2.4h-2.4zM243.4 42.4h2.4v2.4h-2.4zM243.8 46.6h2.4v2.4h-2.4zM243.8 45.0h2.4v2.4h-2.4zM243.8 45.1h2.4v2.4h-2.4zM244.0 43.1h2.4v2.4h-2.4zM244.2 42.4h2.4v2.4h-2.4zM244.2 42.8h2.4v2.4h-2.4zM244.3 45.5h2.4v2.4h-2.4zM244.3 43.2h2.4v2.4h-2.4zM244.6 48.6h2.4v2.4h-2.4zM244.6 54.5h2.4v2.4h-2.4zM244.8 44.1h2.4v2.4h-2.4zM245.0 50.2h2.4v2.4h-2.4zM245.0 47.6h2.4v2.4h-2.4zM245.2 48.8h2.4v2.4h-2.4zM245.2 42.3h2.4v2.4h-2.4zM245.3 48.8h2.4v2.4h-2.4zM245.3 43.6h2.4v2.4h-2.4zM245.6 46.7h2.4v2.4h-2.4zM245.9 49.7h2.4v2.4h-2.4zM246.0 51.1h2.4v2.4h-2.4zM246.2 44.0h2.4v2.4h-2.4zM246.3 44.4h2.4v2.4h-2.4zM246.4 43.2h2.4v2.4h-2.4zM246.4 39.7h2.4v2.4h-2.4zM246.5 45.1h2.4v2.4h-2.4zM246.6 45.2h2.4v2.4h-2.4zM246.8 46.8h2.4v2.4h-2.4zM246.9 46.1h2.4v2.4h-2.4zM247.2 48.1h2.4v2.4h-2.4zM247.2 50.1h2.4v2.4h-2.4zM247.2 40.2h2.4v2.4h-2.4zM247.6 54.3h2.4v2.4h-2.4zM247.7 46.5h2.4v2.4h-2.4zM247.7 46.0h2.4v2.4h-2.4zM247.8 47.0h2.4v2.4h-2.4zM247.8 51.1h2.4v2.4h-2.4zM247.9 48.3h2.4v2.4h-2.4zM247.9 49.3h2.4v2.4h-2.4zM247.9 51.7h2.4v2.4h-2.4zM248.2 48.2h2.4v2.4h-2.4zM248.3 49.7h2.4v2.4h-2.4zM248.4 50.3h2.4v2.4h-2.4zM248.5 46.0h2.4v2.4h-2.4zM248.6 52.5h2.4v2.4h-2.4zM248.6 47.0h2.4v2.4h-2.4zM248.7 50.9h2.4v2.4h-2.4zM248.9 47.3h2.4v2.4h-2.4zM248.9 48.6h2.4v2.4h-2.4zM249.0 48.1h2.4v2.4h-2.4zM249.2 52.9h2.4v2.4h-2.4zM249.4 52.3h2.4v2.4h-2.4zM249.6 52.8h2.4v2.4h-2.4zM249.8 49.2h2.4v2.4h-2.4zM249.8 47.2h2.4v2.4h-2.4zM249.9 46.1h2.4v2.4h-2.4zM249.9 51.9h2.4v2.4h-2.4zM250.1 49.9h2.4v2.4h-2.4zM250.1 56.4h2.4v2.4h-2.4zM250.4 59.2h2.4v2.4h-2.4zM250.5 53.8h2.4v2.4h-2.4zM250.5 53.2h2.4v2.4h-2.4zM250.9 57.0h2.4v2.4h-2.4zM250.9 57.9h2.4v2.4h-2.4zM250.9 49.2h2.4v2.4h-2.4zM251.0 54.1h2.4v2.4h-2.4zM251.0 57.6h2.4v2.4h-2.4zM251.1 43.2h2.4v2.4h-2.4zM251.3 50.8h2.4v2.4h-2.4zM251.7 53.1h2.4v2.4h-2.4zM251.7 49.5h2.4v2.4h-2.4zM251.9 55.0h2.4v2.4h-2.4zM252.2 46.8h2.4v2.4h-2.4zM252.4 58.6h2.4v2.4h-2.4zM252.7 58.0h2.4v2.4h-2.4zM253.1 53.8h2.4v2.4h-2.4zM253.2 56.4h2.4v2.4h-2.4zM253.3 48.4h2.4v2.4h-2.4zM253.3 59.8h2.4v2.4h-2.4zM253.7 56.7h2.4v2.4h-2.4zM253.7 53.1h2.4v2.4h-2.4zM253.7 51.9h2.4v2.4h-2.4zM253.8 50.4h2.4v2.4h-2.4zM254.0 52.9h2.4v2.4h-2.4zM254.0 46.4h2.4v2.4h-2.4zM254.3 56.3h2.4v2.4h-2.4zM254.4 53.9h2.4v2.4h-2.4zM255.0 52.0h2.4v2.4h-2.4zM255.0 56.4h2.4v2.4h-2.4zM255.2 56.5h2.4v2.4h-2.4zM255.2 57.2h2.4v2.4h-2.4zM255.5 58.1h2.4v2.4h-2.4zM255.8 60.4h2.4v2.4h-2.4zM255.9 58.2h2.4v2.4h-2.4zM256.0 62.3h2.4v2.4h-2.4zM256.1 54.8h2.4v2.4h-2.4zM256.1 62.7h2.4v2.4h-2.4zM256.3 48.9h2.4v2.4h-2.4zM256.4 50.3h2.4v2.4h-2.4zM256.4 52.4h2.4v2.4h-2.4zM256.5 57.4h2.4v2.4h-2.4zM256.6 59.0h2.4v2.4h-2.4zM256.6 52.2h2.4v2.4h-2.4zM256.7 56.1h2.4v2.4h-2.4zM256.9 54.9h2.4v2.4h-2.4zM257.1 60.0h2.4v2.4h-2.4zM257.2 53.2h2.4v2.4h-2.4zM257.2 60.4h2.4v2.4h-2.4zM257.3 57.0h2.4v2.4h-2.4zM257.4 64.5h2.4v2.4h-2.4zM257.6 60.2h2.4v2.4h-2.4zM257.6 55.7h2.4v2.4h-2.4zM257.7 59.5h2.4v2.4h-2.4zM257.8 59.6h2.4v2.4h-2.4zM257.9 54.9h2.4v2.4h-2.4zM258.3 58.5h2.4v2.4h-2.4zM258.4 53.7h2.4v2.4h-2.4zM258.7 68.8h2.4v2.4h-2.4zM258.8 56.5h2.4v2.4h-2.4zM258.9 56.8h2.4v2.4h-2.4zM259.4 65.5h2.4v2.4h-2.4zM259.4 64.5h2.4v2.4h-2.4zM259.6 56.0h2.4v2.4h-2.4zM259.6 63.8h2.4v2.4h-2.4zM259.7 62.0h2.4v2.4h-2.4zM259.8 57.3h2.4v2.4h-2.4zM260.1 61.1h2.4v2.4h-2.4zM260.1 58.0h2.4v2.4h-2.4zM260.2 63.4h2.4v2.4h-2.4zM260.7 59.2h2.4v2.4h-2.4zM260.7 56.2h2.4v2.4h-2.4zM260.7 59.1h2.4v2.4h-2.4zM260.7 69.7h2.4v2.4h-2.4zM261.0 58.0h2.4v2.4h-2.4zM261.0 60.4h2.4v2.4h-2.4zM261.2 64.4h2.4v2.4h-2.4zM261.2 55.4h2.4v2.4h-2.4zM261.2 68.1h2.4v2.4h-2.4zM261.4 53.8h2.4v2.4h-2.4zM261.4 63.5h2.4v2.4h-2.4zM261.7 55.1h2.4v2.4h-2.4zM261.7 61.3h2.4v2.4h-2.4zM261.7 66.7h2.4v2.4h-2.4zM261.8 60.8h2.4v2.4h-2.4zM262.3 60.3h2.4v2.4h-2.4zM262.4 59.6h2.4v2.4h-2.4zM262.5 57.6h2.4v2.4h-2.4zM262.7 65.6h2.4v2.4h-2.4zM262.8 60.0h2.4v2.4h-2.4zM262.9 59.1h2.4v2.4h-2.4zM262.9 63.2h2.4v2.4h-2.4zM263.0 66.0h2.4v2.4h-2.4zM263.7 66.7h2.4v2.4h-2.4zM263.8 59.8h2.4v2.4h-2.4zM264.0 59.8h2.4v2.4h-2.4zM264.8 67.0h2.4v2.4h-2.4zM264.8 69.3h2.4v2.4h-2.4zM265.0 58.8h2.4v2.4h-2.4zM265.0 70.4h2.4v2.4h-2.4zM265.2 63.2h2.4v2.4h-2.4zM265.4 67.4h2.4v2.4h-2.4zM265.7 71.9h2.4v2.4h-2.4zM266.0 63.9h2.4v2.4h-2.4zM266.1 65.3h2.4v2.4h-2.4zM266.1 58.9h2.4v2.4h-2.4zM266.3 55.9h2.4v2.4h-2.4zM266.3 65.4h2.4v2.4h-2.4zM266.6 60.8h2.4v2.4h-2.4zM266.9 60.9h2.4v2.4h-2.4zM266.9 67.3h2.4v2.4h-2.4zM267.0 68.9h2.4v2.4h-2.4zM267.2 58.9h2.4v2.4h-2.4zM267.4 67.0h2.4v2.4h-2.4zM267.5 65.6h2.4v2.4h-2.4zM267.5 66.8h2.4v2.4h-2.4zM267.7 66.2h2.4v2.4h-2.4zM267.9 68.4h2.4v2.4h-2.4zM268.3 63.0h2.4v2.4h-2.4zM268.6 61.2h2.4v2.4h-2.4zM268.6 67.9h2.4v2.4h-2.4zM268.9 72.6h2.4v2.4h-2.4zM269.2 66.5h2.4v2.4h-2.4zM269.3 73.4h2.4v2.4h-2.4zM269.4 69.6h2.4v2.4h-2.4zM269.5 61.9h2.4v2.4h-2.4zM269.6 57.8h2.4v2.4h-2.4zM269.6 65.4h2.4v2.4h-2.4zM269.8 71.8h2.4v2.4h-2.4zM269.9 63.9h2.4v2.4h-2.4zM270.0 77.6h2.4v2.4h-2.4zM270.1 70.4h2.4v2.4h-2.4zM270.1 61.2h2.4v2.4h-2.4zM270.3 64.4h2.4v2.4h-2.4zM270.4 73.7h2.4v2.4h-2.4zM270.5 75.1h2.4v2.4h-2.4zM270.6 64.1h2.4v2.4h-2.4zM270.6 67.8h2.4v2.4h-2.4zM270.8 70.3h2.4v2.4h-2.4zM271.1 66.3h2.4v2.4h-2.4zM271.2 70.5h2.4v2.4h-2.4zM271.2 76.9h2.4v2.4h-2.4zM271.7 65.0h2.4v2.4h-2.4zM271.8 71.3h2.4v2.4h-2.4zM272.3 73.2h2.4v2.4h-2.4zM272.7 75.0h2.4v2.4h-2.4zM272.7 67.9h2.4v2.4h-2.4zM272.9 72.7h2.4v2.4h-2.4zM272.9 66.5h2.4v2.4h-2.4zM272.9 70.3h2.4v2.4h-2.4zM273.2 64.8h2.4v2.4h-2.4zM273.5 71.2h2.4v2.4h-2.4zM273.6 72.5h2.4v2.4h-2.4zM273.6 78.8h2.4v2.4h-2.4zM273.7 74.6h2.4v2.4h-2.4zM273.7 66.6h2.4v2.4h-2.4zM274.1 57.7h2.4v2.4h-2.4zM274.4 75.8h2.4v2.4h-2.4zM274.5 74.8h2.4v2.4h-2.4zM274.8 68.8h2.4v2.4h-2.4zM274.8 68.2h2.4v2.4h-2.4zM274.8 73.4h2.4v2.4h-2.4zM274.9 70.0h2.4v2.4h-2.4zM275.2 78.0h2.4v2.4h-2.4zM275.2 71.9h2.4v2.4h-2.4zM275.3 66.7h2.4v2.4h-2.4zM275.3 63.7h2.4v2.4h-2.4zM275.4 71.4h2.4v2.4h-2.4zM275.4 71.8h2.4v2.4h-2.4zM275.5 68.7h2.4v2.4h-2.4zM275.5 66.0h2.4v2.4h-2.4zM275.7 68.7h2.4v2.4h-2.4zM275.7 74.3h2.4v2.4h-2.4zM275.8 69.3h2.4v2.4h-2.4zM276.1 66.9h2.4v2.4h-2.4zM276.2 74.4h2.4v2.4h-2.4zM276.7 77.6h2.4v2.4h-2.4zM276.9 69.3h2.4v2.4h-2.4zM277.0 69.9h2.4v2.4h-2.4zM277.1 67.4h2.4v2.4h-2.4zM277.2 71.3h2.4v2.4h-2.4zM277.2 74.6h2.4v2.4h-2.4zM277.4 73.8h2.4v2.4h-2.4zM277.4 76.6h2.4v2.4h-2.4zM277.5 76.3h2.4v2.4h-2.4zM277.7 74.5h2.4v2.4h-2.4zM278.0 74.3h2.4v2.4h-2.4zM278.2 67.4h2.4v2.4h-2.4zM278.5 78.2h2.4v2.4h-2.4zM278.6 72.7h2.4v2.4h-2.4zM278.9 75.3h2.4v2.4h-2.4zM279.2 66.3h2.4v2.4h-2.4zM279.2 71.6h2.4v2.4h-2.4zM279.3 74.6h2.4v2.4h-2.4zM279.4 69.3h2.4v2.4h-2.4zM279.6 72.7h2.4v2.4h-2.4zM279.8 75.3h2.4v2.4h-2.4zM279.8 66.5h2.4v2.4h-2.4zM279.9 70.0h2.4v2.4h-2.4zM280.0 65.7h2.4v2.4h-2.4zM280.1 68.2h2.4v2.4h-2.4zM280.1 69.8h2.4v2.4h-2.4zM280.7 73.0h2.4v2.4h-2.4zM280.8 78.8h2.4v2.4h-2.4zM280.8 70.5h2.4v2.4h-2.4zM281.3 73.5h2.4v2.4h-2.4zM281.3 70.9h2.4v2.4h-2.4zM281.6 74.0h2.4v2.4h-2.4zM281.7 77.3h2.4v2.4h-2.4zM281.7 78.9h2.4v2.4h-2.4zM281.7 71.0h2.4v2.4h-2.4zM281.7 68.4h2.4v2.4h-2.4zM281.8 75.5h2.4v2.4h-2.4zM281.8 72.1h2.4v2.4h-2.4zM281.8 68.1h2.4v2.4h-2.4zM282.1 78.2h2.4v2.4h-2.4zM282.3 76.0h2.4v2.4h-2.4zM282.5 79.9h2.4v2.4h-2.4zM282.7 69.3h2.4v2.4h-2.4zM282.8 73.4h2.4v2.4h-2.4zM282.9 76.8h2.4v2.4h-2.4zM282.9 82.8h2.4v2.4h-2.4zM283.0 75.6h2.4v2.4h-2.4zM283.3 70.4h2.4v2.4h-2.4zM283.4 76.3h2.4v2.4h-2.4zM283.6 77.0h2.4v2.4h-2.4zM283.9 72.2h2.4v2.4h-2.4zM283.9 81.2h2.4v2.4h-2.4zM284.0 75.0h2.4v2.4h-2.4zM284.5 72.7h2.4v2.4h-2.4zM284.8 79.3h2.4v2.4h-2.4zM284.9 79.6h2.4v2.4h-2.4zM285.4 74.7h2.4v2.4h-2.4zM285.5 76.4h2.4v2.4h-2.4zM285.6 77.1h2.4v2.4h-2.4zM285.6 75.0h2.4v2.4h-2.4zM285.9 75.1h2.4v2.4h-2.4zM286.0 80.6h2.4v2.4h-2.4zM286.0 79.4h2.4v2.4h-2.4zM286.4 74.2h2.4v2.4h-2.4zM286.4 71.2h2.4v2.4h-2.4zM286.5 70.2h2.4v2.4h-2.4zM286.6 80.6h2.4v2.4h-2.4zM286.8 71.5h2.4v2.4h-2.4zM287.0 73.1h2.4v2.4h-2.4zM287.0 76.7h2.4v2.4h-2.4zM287.1 74.3h2.4v2.4h-2.4zM287.2 72.8h2.4v2.4h-2.4zM287.5 68.8h2.4v2.4h-2.4zM287.7 82.2h2.4v2.4h-2.4zM287.8 74.2h2.4v2.4h-2.4zM287.9 77.7h2.4v2.4h-2.4zM288.2 78.1h2.4v2.4h-2.4zM288.5 72.0h2.4v2.4h-2.4zM288.6 73.5h2.4v2.4h-2.4zM288.7 82.4h2.4v2.4h-2.4zM289.0 78.9h2.4v2.4h-2.4zM289.2 76.4h2.4v2.4h-2.4zM290.0 85.1h2.4v2.4h-2.4zM290.1 73.9h2.4v2.4h-2.4zM290.1 78.3h2.4v2.4h-2.4zM290.1 77.2h2.4v2.4h-2.4zM290.1 76.3h2.4v2.4h-2.4zM290.2 69.8h2.4v2.4h-2.4zM290.4 77.9h2.4v2.4h-2.4zM290.6 79.9h2.4v2.4h-2.4zM290.6 70.2h2.4v2.4h-2.4zM290.7 80.7h2.4v2.4h-2.4zM290.7 80.8h2.4v2.4h-2.4zM290.8 85.3h2.4v2.4h-2.4zM291.1 73.3h2.4v2.4h-2.4zM291.2 77.1h2.4v2.4h-2.4zM291.6 76.3h2.4v2.4h-2.4zM291.8 77.8h2.4v2.4h-2.4zM291.8 79.3h2.4v2.4h-2.4zM291.9 82.6h2.4v2.4h-2.4zM292.2 82.7h2.4v2.4h-2.4zM292.2 76.7h2.4v2.4h-2.4zM292.6 78.3h2.4v2.4h-2.4zM292.6 71.4h2.4v2.4h-2.4zM292.6 82.8h2.4v2.4h-2.4zM292.8 81.4h2.4v2.4h-2.4zM292.9 84.3h2.4v2.4h-2.4zM293.0 72.6h2.4v2.4h-2.4zM293.0 85.5h2.4v2.4h-2.4zM293.4 75.5h2.4v2.4h-2.4zM293.8 72.6h2.4v2.4h-2.4zM294.0 80.2h2.4v2.4h-2.4zM294.1 76.0h2.4v2.4h-2.4zM294.4 91.1h2.4v2.4h-2.4zM294.4 81.6h2.4v2.4h-2.4zM294.5 88.5h2.4v2.4h-2.4zM294.6 78.9h2.4v2.4h-2.4zM294.6 79.7h2.4v2.4h-2.4zM294.8 83.7h2.4v2.4h-2.4zM294.9 75.3h2.4v2.4h-2.4zM295.0 78.1h2.4v2.4h-2.4zM295.0 82.5h2.4v2.4h-2.4zM295.1 82.5h2.4v2.4h-2.4zM295.2 87.7h2.4v2.4h-2.4zM295.3 80.9h2.4v2.4h-2.4zM295.5 70.2h2.4v2.4h-2.4zM295.5 83.7h2.4v2.4h-2.4zM295.8 78.1h2.4v2.4h-2.4zM296.0 83.0h2.4v2.4h-2.4zM296.1 76.4h2.4v2.4h-2.4zM296.2 78.1h2.4v2.4h-2.4zM296.2 81.5h2.4v2.4h-2.4zM296.3 89.9h2.4v2.4h-2.4zM296.3 83.0h2.4v2.4h-2.4zM296.6 74.7h2.4v2.4h-2.4zM297.0 81.8h2.4v2.4h-2.4zM297.4 77.6h2.4v2.4h-2.4zM297.5 83.2h2.4v2.4h-2.4zM297.5 91.0h2.4v2.4h-2.4zM297.6 78.7h2.4v2.4h-2.4zM297.6 79.2h2.4v2.4h-2.4zM297.7 83.8h2.4v2.4h-2.4zM297.8 82.8h2.4v2.4h-2.4zM298.4 79.6h2.4v2.4h-2.4zM298.7 84.3h2.4v2.4h-2.4zM298.7 79.5h2.4v2.4h-2.4zM298.8 82.3h2.4v2.4h-2.4zM298.8 94.5h2.4v2.4h-2.4zM298.8 82.0h2.4v2.4h-2.4zM298.9 84.4h2.4v2.4h-2.4zM299.0 85.7h2.4v2.4h-2.4zM299.0 79.3h2.4v2.4h-2.4zM299.2 83.9h2.4v2.4h-2.4zM299.3 78.7h2.4v2.4h-2.4zM299.5 76.1h2.4v2.4h-2.4zM299.5 80.7h2.4v2.4h-2.4zM299.6 89.9h2.4v2.4h-2.4zM299.7 85.4h2.4v2.4h-2.4zM299.8 77.0h2.4v2.4h-2.4zM299.9 82.9h2.4v2.4h-2.4zM300.0 85.9h2.4v2.4h-2.4zM300.4 82.2h2.4v2.4h-2.4zM301.0 79.4h2.4v2.4h-2.4zM301.1 80.7h2.4v2.4h-2.4zM301.4 78.8h2.4v2.4h-2.4zM301.5 86.5h2.4v2.4h-2.4zM301.6 83.6h2.4v2.4h-2.4zM301.6 83.5h2.4v2.4h-2.4zM301.8 82.3h2.4v2.4h-2.4zM302.4 94.3h2.4v2.4h-2.4zM302.4 83.7h2.4v2.4h-2.4zM302.5 89.8h2.4v2.4h-2.4zM302.5 75.6h2.4v2.4h-2.4zM302.7 74.8h2.4v2.4h-2.4zM302.8 74.3h2.4v2.4h-2.4zM302.8 78.4h2.4v2.4h-2.4zM302.8 85.1h2.4v2.4h-2.4zM302.9 77.7h2.4v2.4h-2.4zM303.1 83.7h2.4v2.4h-2.4zM303.2 79.5h2.4v2.4h-2.4zM303.2 87.5h2.4v2.4h-2.4zM303.3 85.8h2.4v2.4h-2.4zM303.4 80.3h2.4v2.4h-2.4zM303.5 74.1h2.4v2.4h-2.4zM303.6 82.9h2.4v2.4h-2.4zM303.6 71.9h2.4v2.4h-2.4zM303.7 69.7h2.4v2.4h-2.4zM303.7 89.9h2.4v2.4h-2.4zM304.3 83.1h2.4v2.4h-2.4zM304.5 88.2h2.4v2.4h-2.4zM304.6 83.8h2.4v2.4h-2.4zM304.6 86.0h2.4v2.4h-2.4zM304.7 83.5h2.4v2.4h-2.4zM305.1 78.3h2.4v2.4h-2.4zM305.3 78.5h2.4v2.4h-2.4zM305.3 81.9h2.4v2.4h-2.4zM305.6 83.3h2.4v2.4h-2.4zM305.6 82.7h2.4v2.4h-2.4zM305.8 82.8h2.4v2.4h-2.4zM306.0 80.5h2.4v2.4h-2.4zM306.2 83.5h2.4v2.4h-2.4zM306.3 81.0h2.4v2.4h-2.4zM306.4 91.0h2.4v2.4h-2.4zM306.6 79.6h2.4v2.4h-2.4zM306.9 75.0h2.4v2.4h-2.4zM307.1 82.8h2.4v2.4h-2.4zM307.1 91.8h2.4v2.4h-2.4zM307.2 77.0h2.4v2.4h-2.4zM307.8 85.8h2.4v2.4h-2.4zM308.0 102.4h2.4v2.4h-2.4zM308.2 85.3h2.4v2.4h-2.4zM308.2 80.9h2.4v2.4h-2.4zM308.3 82.1h2.4v2.4h-2.4zM308.5 77.8h2.4v2.4h-2.4zM308.6 80.9h2.4v2.4h-2.4zM308.7 83.6h2.4v2.4h-2.4zM308.8 95.9h2.4v2.4h-2.4zM308.9 90.6h2.4v2.4h-2.4zM308.9 83.3h2.4v2.4h-2.4zM309.0 80.8h2.4v2.4h-2.4zM309.1 90.1h2.4v2.4h-2.4zM309.2 87.8h2.4v2.4h-2.4zM309.3 81.9h2.4v2.4h-2.4zM309.4 95.7h2.4v2.4h-2.4zM309.6 96.0h2.4v2.4h-2.4zM310.1 85.9h2.4v2.4h-2.4zM310.2 83.3h2.4v2.4h-2.4zM310.5 87.4h2.4v2.4h-2.4zM310.7 98.6h2.4v2.4h-2.4zM310.7 84.7h2.4v2.4h-2.4zM310.9 92.5h2.4v2.4h-2.4zM311.1 81.4h2.4v2.4h-2.4zM311.2 85.5h2.4v2.4h-2.4zM311.2 83.5h2.4v2.4h-2.4zM311.2 81.5h2.4v2.4h-2.4zM311.3 87.9h2.4v2.4h-2.4zM311.4 80.6h2.4v2.4h-2.4zM311.4 78.5h2.4v2.4h-2.4zM311.6 82.9h2.4v2.4h-2.4zM312.2 78.2h2.4v2.4h-2.4zM312.4 88.8h2.4v2.4h-2.4zM312.6 80.4h2.4v2.4h-2.4zM312.8 83.9h2.4v2.4h-2.4zM313.2 91.1h2.4v2.4h-2.4zM313.2 85.8h2.4v2.4h-2.4zM313.2 88.4h2.4v2.4h-2.4zM313.3 88.6h2.4v2.4h-2.4zM313.4 85.0h2.4v2.4h-2.4zM313.5 79.9h2.4v2.4h-2.4zM313.6 87.3h2.4v2.4h-2.4zM313.7 84.8h2.4v2.4h-2.4zM313.8 94.3h2.4v2.4h-2.4zM313.8 85.0h2.4v2.4h-2.4zM313.9 79.5h2.4v2.4h-2.4zM314.1 81.3h2.4v2.4h-2.4zM314.2 83.1h2.4v2.4h-2.4zM314.2 88.7h2.4v2.4h-2.4zM314.3 91.3h2.4v2.4h-2.4zM314.5 86.3h2.4v2.4h-2.4zM314.6 93.7h2.4v2.4h-2.4zM314.7 93.0h2.4v2.4h-2.4zM314.7 80.7h2.4v2.4h-2.4zM314.8 91.1h2.4v2.4h-2.4zM314.9 76.5h2.4v2.4h-2.4zM314.9 94.3h2.4v2.4h-2.4zM315.0 83.5h2.4v2.4h-2.4zM315.1 92.8h2.4v2.4h-2.4zM315.1 84.9h2.4v2.4h-2.4zM315.2 92.0h2.4v2.4h-2.4zM315.3 85.7h2.4v2.4h-2.4zM315.5 86.9h2.4v2.4h-2.4zM315.9 88.6h2.4v2.4h-2.4zM315.9 83.3h2.4v2.4h-2.4zM316.1 78.1h2.4v2.4h-2.4zM316.1 89.5h2.4v2.4h-2.4zM316.1 81.3h2.4v2.4h-2.4zM316.2 85.7h2.4v2.4h-2.4zM316.2 86.3h2.4v2.4h-2.4zM316.3 74.8h2.4v2.4h-2.4zM316.3 99.7h2.4v2.4h-2.4zM316.5 90.2h2.4v2.4h-2.4zM316.5 97.3h2.4v2.4h-2.4zM316.7 88.0h2.4v2.4h-2.4zM316.7 87.6h2.4v2.4h-2.4zM316.8 67.6h2.4v2.4h-2.4zM316.8 84.3h2.4v2.4h-2.4zM316.8 76.8h2.4v2.4h-2.4zM316.9 79.3h2.4v2.4h-2.4zM316.9 88.8h2.4v2.4h-2.4zM316.9 83.6h2.4v2.4h-2.4zM317.1 77.5h2.4v2.4h-2.4zM317.2 85.4h2.4v2.4h-2.4zM317.3 85.2h2.4v2.4h-2.4zM317.6 83.7h2.4v2.4h-2.4zM318.1 95.7h2.4v2.4h-2.4zM318.3 91.4h2.4v2.4h-2.4zM318.5 84.8h2.4v2.4h-2.4zM318.6 83.6h2.4v2.4h-2.4zM319.1 92.3h2.4v2.4h-2.4zM319.3 88.7h2.4v2.4h-2.4zM319.3 87.5h2.4v2.4h-2.4zM319.7 87.8h2.4v2.4h-2.4zM319.7 83.1h2.4v2.4h-2.4zM319.9 86.4h2.4v2.4h-2.4zM320.0 86.0h2.4v2.4h-2.4zM320.0 95.7h2.4v2.4h-2.4zM320.1 93.4h2.4v2.4h-2.4zM320.1 85.2h2.4v2.4h-2.4zM320.4 97.0h2.4v2.4h-2.4zM320.6 85.6h2.4v2.4h-2.4zM321.0 91.1h2.4v2.4h-2.4zM321.0 92.1h2.4v2.4h-2.4zM321.0 83.6h2.4v2.4h-2.4zM321.1 91.3h2.4v2.4h-2.4zM321.2 92.4h2.4v2.4h-2.4zM321.3 91.3h2.4v2.4h-2.4zM321.5 87.0h2.4v2.4h-2.4zM321.7 73.1h2.4v2.4h-2.4zM322.1 101.1h2.4v2.4h-2.4zM322.2 87.6h2.4v2.4h-2.4zM322.2 88.9h2.4v2.4h-2.4zM322.3 82.2h2.4v2.4h-2.4zM322.4 89.7h2.4v2.4h-2.4zM322.5 103.8h2.4v2.4h-2.4zM322.5 80.2h2.4v2.4h-2.4zM322.5 94.2h2.4v2.4h-2.4zM322.6 87.9h2.4v2.4h-2.4zM322.6 96.1h2.4v2.4h-2.4zM322.8 94.4h2.4v2.4h-2.4zM322.9 90.6h2.4v2.4h-2.4zM323.4 82.9h2.4v2.4h-2.4zM323.5 83.0h2.4v2.4h-2.4zM323.6 91.4h2.4v2.4h-2.4zM324.0 85.0h2.4v2.4h-2.4zM324.1 90.1h2.4v2.4h-2.4zM324.2 87.3h2.4v2.4h-2.4zM324.2 87.0h2.4v2.4h-2.4zM324.2 84.4h2.4v2.4h-2.4zM324.3 91.7h2.4v2.4h-2.4zM324.4 88.7h2.4v2.4h-2.4zM324.6 86.7h2.4v2.4h-2.4zM324.7 87.5h2.4v2.4h-2.4zM324.9 92.9h2.4v2.4h-2.4zM324.9 78.6h2.4v2.4h-2.4zM325.9 91.1h2.4v2.4h-2.4zM326.0 83.9h2.4v2.4h-2.4zM326.0 87.1h2.4v2.4h-2.4zM326.1 81.4h2.4v2.4h-2.4zM326.1 102.8h2.4v2.4h-2.4zM326.4 77.1h2.4v2.4h-2.4zM326.4 89.6h2.4v2.4h-2.4zM326.4 96.1h2.4v2.4h-2.4zM326.5 87.6h2.4v2.4h-2.4zM326.5 76.1h2.4v2.4h-2.4zM326.6 85.4h2.4v2.4h-2.4zM326.7 96.2h2.4v2.4h-2.4zM326.7 91.3h2.4v2.4h-2.4zM326.8 80.9h2.4v2.4h-2.4zM326.9 97.4h2.4v2.4h-2.4zM326.9 89.5h2.4v2.4h-2.4zM327.2 90.3h2.4v2.4h-2.4zM327.5 76.7h2.4v2.4h-2.4zM327.5 90.4h2.4v2.4h-2.4zM327.5 81.1h2.4v2.4h-2.4zM327.7 92.8h2.4v2.4h-2.4zM327.8 93.6h2.4v2.4h-2.4zM327.9 82.9h2.4v2.4h-2.4zM327.9 85.0h2.4v2.4h-2.4zM328.0 100.0h2.4v2.4h-2.4zM328.0 84.9h2.4v2.4h-2.4zM328.1 84.9h2.4v2.4h-2.4zM328.4 92.5h2.4v2.4h-2.4zM328.4 87.4h2.4v2.4h-2.4zM328.5 87.1h2.4v2.4h-2.4zM328.6 91.8h2.4v2.4h-2.4zM328.7 92.4h2.4v2.4h-2.4zM328.7 93.0h2.4v2.4h-2.4zM328.9 90.5h2.4v2.4h-2.4zM328.9 97.4h2.4v2.4h-2.4zM329.3 89.2h2.4v2.4h-2.4zM329.4 98.7h2.4v2.4h-2.4zM329.5 88.5h2.4v2.4h-2.4zM329.5 89.4h2.4v2.4h-2.4zM329.6 95.6h2.4v2.4h-2.4zM329.8 84.0h2.4v2.4h-2.4zM330.0 78.2h2.4v2.4h-2.4zM330.0 81.4h2.4v2.4h-2.4zM330.1 97.9h2.4v2.4h-2.4zM330.1 81.7h2.4v2.4h-2.4zM330.2 87.7h2.4v2.4h-2.4zM330.6 89.4h2.4v2.4h-2.4zM331.2 93.0h2.4v2.4h-2.4zM331.3 89.3h2.4v2.4h-2.4zM331.3 81.3h2.4v2.4h-2.4zM331.5 86.0h2.4v2.4h-2.4zM331.5 91.9h2.4v2.4h-2.4zM331.7 93.5h2.4v2.4h-2.4zM331.8 91.9h2.4v2.4h-2.4zM331.9 85.9h2.4v2.4h-2.4zM332.1 78.8h2.4v2.4h-2.4zM332.2 96.2h2.4v2.4h-2.4zM332.3 89.4h2.4v2.4h-2.4zM332.3 91.8h2.4v2.4h-2.4zM332.7 94.3h2.4v2.4h-2.4zM332.8 87.1h2.4v2.4h-2.4zM332.9 86.2h2.4v2.4h-2.4zM333.3 99.0h2.4v2.4h-2.4zM333.3 96.3h2.4v2.4h-2.4zM333.4 82.6h2.4v2.4h-2.4zM333.6 87.7h2.4v2.4h-2.4zM333.8 86.5h2.4v2.4h-2.4zM334.3 92.9h2.4v2.4h-2.4zM334.8 92.2h2.4v2.4h-2.4zM335.0 87.0h2.4v2.4h-2.4zM335.1 93.0h2.4v2.4h-2.4zM335.2 97.2h2.4v2.4h-2.4zM335.4 89.9h2.4v2.4h-2.4zM335.5 84.5h2.4v2.4h-2.4zM335.8 96.7h2.4v2.4h-2.4zM335.9 83.7h2.4v2.4h-2.4zM336.2 85.8h2.4v2.4h-2.4zM336.2 95.7h2.4v2.4h-2.4zM336.5 90.0h2.4v2.4h-2.4zM336.6 90.3h2.4v2.4h-2.4zM336.6 86.2h2.4v2.4h-2.4zM336.9 86.1h2.4v2.4h-2.4zM336.9 98.9h2.4v2.4h-2.4zM337.2 99.2h2.4v2.4h-2.4zM337.2 84.0h2.4v2.4h-2.4zM337.3 89.5h2.4v2.4h-2.4zM337.4 87.6h2.4v2.4h-2.4zM337.8 88.2h2.4v2.4h-2.4zM337.8 81.2h2.4v2.4h-2.4zM337.9 98.4h2.4v2.4h-2.4zM338.3 83.8h2.4v2.4h-2.4zM338.4 95.7h2.4v2.4h-2.4zM338.6 85.9h2.4v2.4h-2.4zM338.6 82.4h2.4v2.4h-2.4zM338.7 99.8h2.4v2.4h-2.4zM338.8 87.9h2.4v2.4h-2.4zM339.2 92.2h2.4v2.4h-2.4zM339.3 92.3h2.4v2.4h-2.4zM339.3 90.2h2.4v2.4h-2.4zM339.4 97.5h2.4v2.4h-2.4zM339.5 96.9h2.4v2.4h-2.4zM339.7 86.5h2.4v2.4h-2.4zM339.8 85.4h2.4v2.4h-2.4zM339.9 94.3h2.4v2.4h-2.4zM340.0 100.5h2.4v2.4h-2.4zM340.0 77.3h2.4v2.4h-2.4zM340.3 83.9h2.4v2.4h-2.4zM340.7 88.4h2.4v2.4h-2.4zM340.8 97.6h2.4v2.4h-2.4zM340.9 94.5h2.4v2.4h-2.4zM341.0 89.2h2.4v2.4h-2.4zM341.0 97.1h2.4v2.4h-2.4zM341.0 81.2h2.4v2.4h-2.4zM341.2 89.9h2.4v2.4h-2.4zM341.3 88.3h2.4v2.4h-2.4zM341.3 97.7h2.4v2.4h-2.4zM341.4 96.8h2.4v2.4h-2.4zM341.5 96.0h2.4v2.4h-2.4zM341.6 89.0h2.4v2.4h-2.4zM341.8 92.5h2.4v2.4h-2.4zM342.3 92.8h2.4v2.4h-2.4zM342.5 88.9h2.4v2.4h-2.4zM342.5 89.5h2.4v2.4h-2.4zM342.5 82.0h2.4v2.4h-2.4zM342.9 92.2h2.4v2.4h-2.4zM343.2 97.9h2.4v2.4h-2.4zM343.4 91.1h2.4v2.4h-2.4zM343.5 82.2h2.4v2.4h-2.4zM343.8 94.7h2.4v2.4h-2.4zM343.9 90.8h2.4v2.4h-2.4zM344.2 93.5h2.4v2.4h-2.4zM344.6 88.6h2.4v2.4h-2.4zM344.8 89.5h2.4v2.4h-2.4zM344.8 96.7h2.4v2.4h-2.4zM344.9 92.7h2.4v2.4h-2.4zM345.2 85.4h2.4v2.4h-2.4zM345.6 84.5h2.4v2.4h-2.4zM345.7 85.5h2.4v2.4h-2.4zM345.8 85.9h2.4v2.4h-2.4zM346.1 93.5h2.4v2.4h-2.4zM346.3 93.8h2.4v2.4h-2.4zM346.4 85.6h2.4v2.4h-2.4zM346.4 99.5h2.4v2.4h-2.4zM346.8 91.8h2.4v2.4h-2.4zM346.8 104.8h2.4v2.4h-2.4zM346.9 93.9h2.4v2.4h-2.4zM347.0 96.2h2.4v2.4h-2.4zM347.0 99.8h2.4v2.4h-2.4zM347.1 87.8h2.4v2.4h-2.4zM347.1 96.4h2.4v2.4h-2.4zM347.5 93.9h2.4v2.4h-2.4zM347.5 93.2h2.4v2.4h-2.4zM347.7 96.5h2.4v2.4h-2.4zM348.0 82.8h2.4v2.4h-2.4zM348.1 94.9h2.4v2.4h-2.4zM348.1 90.3h2.4v2.4h-2.4zM348.2 100.8h2.4v2.4h-2.4zM348.4 94.8h2.4v2.4h-2.4zM348.5 93.8h2.4v2.4h-2.4zM348.6 93.7h2.4v2.4h-2.4zM348.7 95.6h2.4v2.4h-2.4zM348.8 90.7h2.4v2.4h-2.4zM349.2 82.1h2.4v2.4h-2.4zM349.2 92.6h2.4v2.4h-2.4zM349.3 92.6h2.4v2.4h-2.4zM349.8 94.4h2.4v2.4h-2.4zM349.8 76.8h2.4v2.4h-2.4zM350.1 81.9h2.4v2.4h-2.4zM350.4 88.2h2.4v2.4h-2.4zM350.6 87.3h2.4v2.4h-2.4zM350.8 96.8h2.4v2.4h-2.4zM351.0 92.9h2.4v2.4h-2.4zM351.1 90.5h2.4v2.4h-2.4zM351.1 91.1h2.4v2.4h-2.4zM351.1 97.8h2.4v2.4h-2.4zM351.2 97.3h2.4v2.4h-2.4zM351.2 88.6h2.4v2.4h-2.4zM351.4 89.9h2.4v2.4h-2.4zM351.6 107.7h2.4v2.4h-2.4zM351.7 91.3h2.4v2.4h-2.4zM351.8 84.0h2.4v2.4h-2.4zM351.9 96.4h2.4v2.4h-2.4zM352.0 90.4h2.4v2.4h-2.4zM352.0 102.5h2.4v2.4h-2.4zM352.2 86.7h2.4v2.4h-2.4zM352.5 99.9h2.4v2.4h-2.4zM352.6 101.0h2.4v2.4h-2.4zM352.9 94.2h2.4v2.4h-2.4zM353.0 77.8h2.4v2.4h-2.4zM353.1 96.3h2.4v2.4h-2.4zM353.1 101.1h2.4v2.4h-2.4zM353.2 89.1h2.4v2.4h-2.4zM353.3 90.6h2.4v2.4h-2.4zM353.4 81.8h2.4v2.4h-2.4zM353.5 101.2h2.4v2.4h-2.4zM353.7 103.8h2.4v2.4h-2.4zM353.7 94.3h2.4v2.4h-2.4zM353.8 89.7h2.4v2.4h-2.4zM353.8 89.8h2.4v2.4h-2.4zM354.0 85.3h2.4v2.4h-2.4zM354.0 103.1h2.4v2.4h-2.4zM354.1 98.0h2.4v2.4h-2.4zM354.2 93.1h2.4v2.4h-2.4zM354.6 86.8h2.4v2.4h-2.4zM354.8 89.1h2.4v2.4h-2.4zM354.8 95.2h2.4v2.4h-2.4zM354.8 99.5h2.4v2.4h-2.4zM355.1 86.6h2.4v2.4h-2.4zM355.4 86.2h2.4v2.4h-2.4zM355.4 76.1h2.4v2.4h-2.4zM355.6 93.5h2.4v2.4h-2.4zM355.9 82.2h2.4v2.4h-2.4zM355.9 101.1h2.4v2.4h-2.4zM355.9 96.2h2.4v2.4h-2.4zM356.0 97.1h2.4v2.4h-2.4zM356.1 95.6h2.4v2.4h-2.4zM356.3 98.6h2.4v2.4h-2.4zM356.7 96.2h2.4v2.4h-2.4zM356.8 92.8h2.4v2.4h-2.4zM356.8 95.6h2.4v2.4h-2.4zM357.1 88.1h2.4v2.4h-2.4zM357.5 93.1h2.4v2.4h-2.4zM357.7 92.5h2.4v2.4h-2.4zM357.7 83.1h2.4v2.4h-2.4zM358.0 90.4h2.4v2.4h-2.4zM358.1 91.5h2.4v2.4h-2.4zM230.5 62.6h2.4v2.4h-2.4zM229.6 86.8h2.4v2.4h-2.4zM229.6 98.0h2.4v2.4h-2.4zM278.4 53.3h2.4v2.4h-2.4z"/>
<line x1="227.70" y1="3.60" x2="227.70" y2="126.60" stroke="#000" stroke-width="2.2" />
<line x1="226.60" y1="125.50" x2="361.40" y2="125.50" stroke="#000" stroke-width="2.2" />
<line x1="230.30" y1="125.50" x2="230.30" y2="131.80" stroke="#000" stroke-width="2.0" />
<line x1="251.74" y1="125.50" x2="251.74" y2="131.80" stroke="#000" stroke-width="2.0" />
<line x1="273.17" y1="125.50" x2="273.17" y2="131.80" stroke="#000" stroke-width="2.0" />
<line x1="294.61" y1="125.50" x2="294.61" y2="131.80" stroke="#000" stroke-width="2.0" />
<line x1="316.04" y1="125.50" x2="316.04" y2="131.80" stroke="#000" stroke-width="2.0" />
<line x1="337.48" y1="125.50" x2="337.48" y2="131.80" stroke="#000" stroke-width="2.0" />
<line x1="358.91" y1="125.50" x2="358.91" y2="131.80" stroke="#000" stroke-width="2.0" />
<text x="230.30" y="153.90" font-family="Liberation Sans" font-size="15" font-weight="bold" text-anchor="middle" >0</text>
<text x="337.48" y="153.90" font-family="Liberation Sans" font-size="15" font-weight="bold" text-anchor="middle" >250</text>
<line x1="220.20" y1="7.10" x2="227.70" y2="7.10" stroke="#000" stroke-width="2.0" />
<line x1="222.40" y1="14.11" x2="227.70" y2="14.11" stroke="#000" stroke-width="2.0" />
<line x1="222.40" y1="21.95" x2="227.70" y2="21.95" stroke="#000" stroke-width="2.0" />
<line x1="222.40" y1="30.83" x2="227.70" y2="30.83" stroke="#000" stroke-width="2.0" />
<line x1="222.40" y1="41.09" x2="227.70" y2="41.09" stroke="#000" stroke-width="2.0" />
<line x1="222.40" y1="53.22" x2="227.70" y2="53.22" stroke="#000" stroke-width="2.0" />
<line x1="222.40" y1="68.06" x2="227.70" y2="68.06" stroke="#000" stroke-width="2.0" />
<line x1="222.40" y1="87.21" x2="227.70" y2="87.21" stroke="#000" stroke-width="2.0" />
<line x1="222.40" y1="114.18" x2="227.70" y2="114.18" stroke="#000" stroke-width="2.0" />
<text x="215.00" y="12.30" font-family="Liberation Sans" font-size="15" font-weight="bold" text-anchor="end" >1</text>
<text x="222.00" y="44.69" font-family="Liberation Sans" font-size="10" font-weight="bold" text-anchor="end" >6</text>
<text x="222.00" y="56.82" font-family="Liberation Sans" font-size="10" font-weight="bold" text-anchor="end" >5</text>
<text x="222.00" y="71.66" font-family="Liberation Sans" font-size="10" font-weight="bold" text-anchor="end" >4</text>
<text x="222.00" y="90.81" font-family="Liberation Sans" font-size="10" font-weight="bold" text-anchor="end" >3</text>
<text x="222.00" y="117.78" font-family="Liberation Sans" font-size="10" font-weight="bold" text-anchor="end" >2</text>
<rect x="299.0" y="190.3" width="4.2" height="72" fill="#000"/>
<path d="M295.6 260.9 L306.2 260.9 L300.9 271.0 Z" fill="#000"/>
<text x="268.60" y="187.80" font-family="Liberation Sans" font-size="10.8" font-weight="bold" text-anchor="start" >0.40(GW/cm<tspan font-size="7.2" dx="0.5" dy="-7">2</tspan><tspan dx="0.6" dy="7">)</tspan></text>
<text x="268.60" y="279.60" font-family="Liberation Sans" font-size="10.8" font-weight="bold" text-anchor="start" >3.60(GW/cm<tspan font-size="7.2" dx="0.5" dy="-7">2</tspan><tspan dx="0.6" dy="7">)</tspan></text>
<rect x="453.6" y="27.2" width="200.10000000000002" height="53.39999999999999" fill="#dfeaf6"/>
<rect x="454.6" y="59.6" width="14.899999999999977" height="21.4" fill="#fff"/>
<line x1="455" y1="32.29" x2="650" y2="66.22" stroke="#9aa2aa" stroke-width="1.9" stroke-dasharray="1.9 2.4"/>
<line x1="460.50" y1="14.30" x2="460.50" y2="50.70" stroke="#979b9f" stroke-width="1.2" />
<line x1="458.20" y1="14.30" x2="462.80" y2="14.30" stroke="#979b9f" stroke-width="1.2" />
<line x1="458.20" y1="50.70" x2="462.80" y2="50.70" stroke="#979b9f" stroke-width="1.2" />
<line x1="472.40" y1="13.60" x2="472.40" y2="50.30" stroke="#979b9f" stroke-width="1.2" />
<line x1="470.10" y1="13.60" x2="474.70" y2="13.60" stroke="#979b9f" stroke-width="1.2" />
<line x1="470.10" y1="50.30" x2="474.70" y2="50.30" stroke="#979b9f" stroke-width="1.2" />
<line x1="479.80" y1="18.60" x2="479.80" y2="55.20" stroke="#979b9f" stroke-width="1.2" />
<line x1="477.50" y1="18.60" x2="482.10" y2="18.60" stroke="#979b9f" stroke-width="1.2" />
<line x1="477.50" y1="55.20" x2="482.10" y2="55.20" stroke="#979b9f" stroke-width="1.2" />
<line x1="489.30" y1="20.40" x2="489.30" y2="56.30" stroke="#979b9f" stroke-width="1.2" />
<line x1="487.00" y1="20.40" x2="491.60" y2="20.40" stroke="#979b9f" stroke-width="1.2" />
<line x1="487.00" y1="56.30" x2="491.60" y2="56.30" stroke="#979b9f" stroke-width="1.2" />
<line x1="501.30" y1="25.30" x2="501.30" y2="62.00" stroke="#979b9f" stroke-width="1.2" />
<line x1="499.00" y1="25.30" x2="503.60" y2="25.30" stroke="#979b9f" stroke-width="1.2" />
<line x1="499.00" y1="62.00" x2="503.60" y2="62.00" stroke="#979b9f" stroke-width="1.2" />
<line x1="515.60" y1="19.70" x2="515.60" y2="55.90" stroke="#979b9f" stroke-width="1.2" />
<line x1="513.30" y1="19.70" x2="517.90" y2="19.70" stroke="#979b9f" stroke-width="1.2" />
<line x1="513.30" y1="55.90" x2="517.90" y2="55.90" stroke="#979b9f" stroke-width="1.2" />
<line x1="537.20" y1="31.10" x2="537.20" y2="68.10" stroke="#979b9f" stroke-width="1.2" />
<line x1="534.90" y1="31.10" x2="539.50" y2="31.10" stroke="#979b9f" stroke-width="1.2" />
<line x1="534.90" y1="68.10" x2="539.50" y2="68.10" stroke="#979b9f" stroke-width="1.2" />
<line x1="558.50" y1="19.70" x2="558.50" y2="56.30" stroke="#979b9f" stroke-width="1.2" />
<line x1="556.20" y1="19.70" x2="560.80" y2="19.70" stroke="#979b9f" stroke-width="1.2" />
<line x1="556.20" y1="56.30" x2="560.80" y2="56.30" stroke="#979b9f" stroke-width="1.2" />
<line x1="582.50" y1="38.50" x2="582.50" y2="75.50" stroke="#979b9f" stroke-width="1.2" />
<line x1="580.20" y1="38.50" x2="584.80" y2="38.50" stroke="#979b9f" stroke-width="1.2" />
<line x1="580.20" y1="75.50" x2="584.80" y2="75.50" stroke="#979b9f" stroke-width="1.2" />
<line x1="621.10" y1="45.60" x2="621.10" y2="82.30" stroke="#979b9f" stroke-width="1.2" />
<line x1="618.80" y1="45.60" x2="623.40" y2="45.60" stroke="#979b9f" stroke-width="1.2" />
<line x1="618.80" y1="82.30" x2="623.40" y2="82.30" stroke="#979b9f" stroke-width="1.2" />
<circle cx="460.5" cy="31.9" r="4.4" fill="#a0abb4"/>
<circle cx="472.4" cy="31.2" r="4.4" fill="#a0abb4"/>
<circle cx="479.8" cy="36.4" r="4.4" fill="#a0abb4"/>
<circle cx="489.3" cy="38.4" r="4.4" fill="#a0abb4"/>
<circle cx="501.3" cy="43.6" r="4.4" fill="#a0abb4"/>
<circle cx="515.6" cy="37.6" r="4.4" fill="#a0abb4"/>
<circle cx="537.2" cy="49.4" r="4.4" fill="#a0abb4"/>
<circle cx="558.5" cy="37.9" r="4.4" fill="#a0abb4"/>
<circle cx="582.5" cy="56.9" r="4.4" fill="#a0abb4"/>
<circle cx="621.1" cy="64.1" r="4.4" fill="#a0abb4"/>
<line x1="452.50" y1="1.80" x2="654.80" y2="1.80" stroke="#000" stroke-width="2.2" />
<line x1="453.60" y1="0.70" x2="453.60" y2="97.10" stroke="#000" stroke-width="2.2" />
<line x1="653.70" y1="0.70" x2="653.70" y2="97.10" stroke="#000" stroke-width="2.2" />
<line x1="452.50" y1="96.00" x2="654.80" y2="96.00" stroke="#000" stroke-width="2.2" />
<line x1="449.20" y1="93.41" x2="453.60" y2="93.41" stroke="#000" stroke-width="1.8" />
<line x1="445.60" y1="89.75" x2="453.60" y2="89.75" stroke="#000" stroke-width="1.8" />
<line x1="449.20" y1="86.09" x2="453.60" y2="86.09" stroke="#000" stroke-width="1.8" />
<line x1="449.20" y1="82.43" x2="453.60" y2="82.43" stroke="#000" stroke-width="1.8" />
<line x1="449.20" y1="78.78" x2="453.60" y2="78.78" stroke="#000" stroke-width="1.8" />
<line x1="449.20" y1="75.12" x2="453.60" y2="75.12" stroke="#000" stroke-width="1.8" />
<line x1="447.60" y1="71.46" x2="453.60" y2="71.46" stroke="#000" stroke-width="1.8" />
<line x1="449.20" y1="67.80" x2="453.60" y2="67.80" stroke="#000" stroke-width="1.8" />
<line x1="449.20" y1="64.14" x2="453.60" y2="64.14" stroke="#000" stroke-width="1.8" />
<line x1="449.20" y1="60.49" x2="453.60" y2="60.49" stroke="#000" stroke-width="1.8" />
<line x1="449.20" y1="56.83" x2="453.60" y2="56.83" stroke="#000" stroke-width="1.8" />
<line x1="445.60" y1="53.17" x2="453.60" y2="53.17" stroke="#000" stroke-width="1.8" />
<line x1="449.20" y1="49.51" x2="453.60" y2="49.51" stroke="#000" stroke-width="1.8" />
<line x1="449.20" y1="45.85" x2="453.60" y2="45.85" stroke="#000" stroke-width="1.8" />
<line x1="449.20" y1="42.20" x2="453.60" y2="42.20" stroke="#000" stroke-width="1.8" />
<line x1="449.20" y1="38.54" x2="453.60" y2="38.54" stroke="#000" stroke-width="1.8" />
<line x1="447.60" y1="34.88" x2="453.60" y2="34.88" stroke="#000" stroke-width="1.8" />
<line x1="449.20" y1="31.22" x2="453.60" y2="31.22" stroke="#000" stroke-width="1.8" />
<line x1="449.20" y1="27.56" x2="453.60" y2="27.56" stroke="#000" stroke-width="1.8" />
<line x1="449.20" y1="23.91" x2="453.60" y2="23.91" stroke="#000" stroke-width="1.8" />
<line x1="449.20" y1="20.25" x2="453.60" y2="20.25" stroke="#000" stroke-width="1.8" />
<line x1="445.60" y1="16.59" x2="453.60" y2="16.59" stroke="#000" stroke-width="1.8" />
<line x1="449.20" y1="12.93" x2="453.60" y2="12.93" stroke="#000" stroke-width="1.8" />
<line x1="449.20" y1="9.27" x2="453.60" y2="9.27" stroke="#000" stroke-width="1.8" />
<line x1="449.20" y1="5.62" x2="453.60" y2="5.62" stroke="#000" stroke-width="1.8" />
<text x="441.80" y="95.05" font-family="Liberation Sans" font-size="15" font-weight="bold" text-anchor="end" >800</text>
<text x="441.80" y="58.47" font-family="Liberation Sans" font-size="15" font-weight="bold" text-anchor="end" >1000</text>
<text x="441.80" y="21.89" font-family="Liberation Sans" font-size="15" font-weight="bold" text-anchor="end" >1200</text>
<text x="455.40" y="77.60" font-family="Liberation Serif" font-size="18" font-weight="bold" text-anchor="start" >τ</text>
<text x="463.60" y="80.40" font-family="Liberation Sans" font-size="11.5" font-weight="bold" text-anchor="start" >1</text>
<text x="381.00" y="22.60" font-family="Liberation Sans" font-size="18" font-weight="bold" text-anchor="start" >(b)</text>
<rect x="452.9" y="122.7" width="200.80000000000007" height="52.999999999999986" fill="#fffbc9"/>
<rect x="462.3" y="156.3" width="14.399999999999977" height="19.69999999999999" fill="#fff"/>
<polyline fill="none" stroke="#cfd0ac" stroke-width="1.9" stroke-dasharray="1.9 2.4" points="458.0,125.67 458.5,125.99 459.0,126.31 459.5,126.63 460.0,126.94 460.5,127.26 461.0,127.57 461.5,127.88 462.0,128.18 462.5,128.49 463.0,128.79 463.5,129.09 464.0,129.39 464.5,129.69 465.0,129.98 465.5,130.28 466.0,130.57 466.5,130.86 467.0,131.14 467.5,131.43 468.0,131.71 468.5,132.00 469.0,132.28 469.5,132.55 470.0,132.83 470.5,133.10 471.0,133.38 471.5,133.65 472.0,133.92 472.5,134.18 473.0,134.45 473.5,134.71 474.0,134.97 474.5,135.23 475.0,135.49 475.5,135.75 476.0,136.00 476.5,136.26 477.0,136.51 477.5,136.76 478.0,137.01 478.5,137.25 479.0,137.50 479.5,137.74 480.0,137.98 480.5,138.22 481.0,138.46 481.5,138.70 482.0,138.93 482.5,139.17 483.0,139.40 483.5,139.63 484.0,139.86 484.5,140.09 485.0,140.31 485.5,140.54 486.0,140.76 486.5,140.98 487.0,141.20 487.5,141.42 488.0,141.64 488.5,141.85 489.0,142.07 489.5,142.28 490.0,142.49 490.5,142.70 491.0,142.91 491.5,143.12 492.0,143.32 492.5,143.53 493.0,143.73 493.5,143.93 494.0,144.13 494.5,144.33 495.0,144.53 495.5,144.73 496.0,144.92 496.5,145.12 497.0,145.31 497.5,145.50 498.0,145.69 498.5,145.88 499.0,146.07 499.5,146.26 500.0,146.44 500.5,146.62 501.0,146.81 501.5,146.99 502.0,147.17 502.5,147.35 503.0,147.53 503.5,147.70 504.0,147.88 504.5,148.05 505.0,148.23 505.5,148.40 506.0,148.57 506.5,148.74 507.0,148.91 507.5,149.07 508.0,149.24 508.5,149.41 509.0,149.57 509.5,149.73 510.0,149.90 510.5,150.06 511.0,150.22 511.5,150.38 512.0,150.53 512.5,150.69 513.0,150.85 513.5,151.00 514.0,151.15 514.5,151.31 515.0,151.46 515.5,151.61 516.0,151.76 516.5,151.91 517.0,152.06 517.5,152.20 518.0,152.35 518.5,152.49 519.0,152.64 519.5,152.78 520.0,152.92 520.5,153.06 521.0,153.20 521.5,153.34 522.0,153.48 522.5,153.62 523.0,153.75 523.5,153.89 524.0,154.02 524.5,154.16 525.0,154.29 525.5,154.42 526.0,154.55 526.5,154.68 527.0,154.81 527.5,154.94 528.0,155.07 528.5,155.19 529.0,155.32 529.5,155.44 530.0,155.57 530.5,155.69 531.0,155.82 531.5,155.94 532.0,156.06 532.5,156.18 533.0,156.30 533.5,156.42 534.0,156.53 534.5,156.65 535.0,156.77 535.5,156.88 536.0,157.00 536.5,157.11 537.0,157.22 537.5,157.34 538.0,157.45 538.5,157.56 539.0,157.67 539.5,157.78 540.0,157.89 540.5,157.99 541.0,158.10 541.5,158.21 542.0,158.31 542.5,158.42 543.0,158.52 543.5,158.63 544.0,158.73 544.5,158.83 545.0,158.94 545.5,159.04 546.0,159.14 546.5,159.24 547.0,159.34 547.5,159.43 548.0,159.53 548.5,159.63 549.0,159.72 549.5,159.82 550.0,159.92 550.5,160.01 551.0,160.10 551.5,160.20 552.0,160.29 552.5,160.38 553.0,160.47 553.5,160.56 554.0,160.65 554.5,160.74 555.0,160.83 555.5,160.92 556.0,161.01 556.5,161.10 557.0,161.18 557.5,161.27 558.0,161.36 558.5,161.44 559.0,161.52 559.5,161.61 560.0,161.69 560.5,161.77 561.0,161.86 561.5,161.94 562.0,162.02 562.5,162.10 563.0,162.18 563.5,162.26 564.0,162.34 564.5,162.42 565.0,162.49 565.5,162.57 566.0,162.65 566.5,162.73 567.0,162.80 567.5,162.88 568.0,162.95 568.5,163.03 569.0,163.10 569.5,163.17 570.0,163.25 570.5,163.32 571.0,163.39 571.5,163.46 572.0,163.53 572.5,163.60 573.0,163.67 573.5,163.74 574.0,163.81 574.5,163.88 575.0,163.95 575.5,164.02 576.0,164.08 576.5,164.15 577.0,164.22 577.5,164.28 578.0,164.35 578.5,164.41 579.0,164.48 579.5,164.54 580.0,164.61 580.5,164.67 581.0,164.73 581.5,164.80 582.0,164.86 582.5,164.92 583.0,164.98 583.5,165.04 584.0,165.10 584.5,165.16 585.0,165.22 585.5,165.28 586.0,165.34 586.5,165.40 587.0,165.46 587.5,165.51 588.0,165.57 588.5,165.63 589.0,165.69 589.5,165.74 590.0,165.80 590.5,165.85 591.0,165.91 591.5,165.96 592.0,166.02 592.5,166.07 593.0,166.13 593.5,166.18 594.0,166.23 594.5,166.28 595.0,166.34 595.5,166.39 596.0,166.44 596.5,166.49 597.0,166.54 597.5,166.59 598.0,166.64 598.5,166.69 599.0,166.74 599.5,166.79 600.0,166.84 600.5,166.89 601.0,166.94 601.5,166.98 602.0,167.03 602.5,167.08 603.0,167.13 603.5,167.17 604.0,167.22 604.5,167.27 605.0,167.31 605.5,167.36 606.0,167.40 606.5,167.45 607.0,167.49 607.5,167.54 608.0,167.58 608.5,167.62 609.0,167.67 609.5,167.71 610.0,167.75 610.5,167.80 611.0,167.84 611.5,167.88 612.0,167.92 612.5,167.96 613.0,168.00 613.5,168.04 614.0,168.09 614.5,168.13 615.0,168.17 615.5,168.21 616.0,168.24 616.5,168.28 617.0,168.32 617.5,168.36 618.0,168.40 618.5,168.44 619.0,168.48 619.5,168.51 620.0,168.55 620.5,168.59 621.0,168.63 621.5,168.66 622.0,168.70 622.5,168.74 623.0,168.77 623.5,168.81 624.0,168.84 624.5,168.88 625.0,168.91 625.5,168.95 626.0,168.98 626.5,169.02 627.0,169.05 627.5,169.08 628.0,169.12 628.5,169.15 629.0,169.18 629.5,169.22 630.0,169.25 630.5,169.28 631.0,169.32 631.5,169.35 632.0,169.38 632.5,169.41 633.0,169.44 633.5,169.47 634.0,169.51 634.5,169.54 635.0,169.57 635.5,169.60 636.0,169.63 636.5,169.66 637.0,169.69 637.5,169.72 638.0,169.75 638.5,169.78 639.0,169.81 639.5,169.83 640.0,169.86 640.5,169.89 641.0,169.92 641.5,169.95 642.0,169.98 642.5,170.00 643.0,170.03 643.5,170.06 644.0,170.09 644.5,170.11 645.0,170.14 645.5,170.17 646.0,170.19 646.5,170.22 647.0,170.25 647.5,170.27 648.0,170.30 648.5,170.32 649.0,170.35 649.5,170.37"/>
<circle cx="459.8" cy="127.0" r="4.4" fill="#fc3d12"/>
<circle cx="472.0" cy="128.4" r="4.4" fill="#fc3d12"/>
<circle cx="479.3" cy="136.4" r="4.4" fill="#fc3d12"/>
<circle cx="488.9" cy="143.9" r="4.4" fill="#fc3d12"/>
<circle cx="500.8" cy="147.9" r="4.4" fill="#fc3d12"/>
<circle cx="515.3" cy="149.7" r="4.4" fill="#fc3d12"/>
<circle cx="537.0" cy="158.8" r="4.4" fill="#fc3d12"/>
<circle cx="558.4" cy="159.4" r="4.4" fill="#fc3d12"/>
<circle cx="582.5" cy="166.7" r="4.4" fill="#fc3d12"/>
<circle cx="620.9" cy="168.1" r="4.4" fill="#fc3d12"/>
<line x1="451.80" y1="103.20" x2="654.80" y2="103.20" stroke="#000" stroke-width="2.2" />
<line x1="452.90" y1="102.10" x2="452.90" y2="197.30" stroke="#000" stroke-width="2.2" />
<line x1="653.70" y1="102.10" x2="653.70" y2="197.30" stroke="#000" stroke-width="2.2" />
<line x1="451.80" y1="196.20" x2="654.80" y2="196.20" stroke="#000" stroke-width="2.2" />
<line x1="445.20" y1="184.30" x2="452.90" y2="184.30" stroke="#000" stroke-width="2.0" />
<line x1="448.80" y1="173.73" x2="452.90" y2="173.73" stroke="#000" stroke-width="2.0" />
<line x1="445.20" y1="163.17" x2="452.90" y2="163.17" stroke="#000" stroke-width="2.0" />
<line x1="448.80" y1="152.60" x2="452.90" y2="152.60" stroke="#000" stroke-width="2.0" />
<line x1="445.20" y1="142.04" x2="452.90" y2="142.04" stroke="#000" stroke-width="2.0" />
<line x1="448.80" y1="131.47" x2="452.90" y2="131.47" stroke="#000" stroke-width="2.0" />
<line x1="445.20" y1="120.90" x2="452.90" y2="120.90" stroke="#000" stroke-width="2.0" />
<line x1="448.80" y1="110.34" x2="452.90" y2="110.34" stroke="#000" stroke-width="2.0" />
<text x="442.60" y="189.60" font-family="Liberation Sans" font-size="15" font-weight="bold" text-anchor="end" >160</text>
<text x="442.60" y="168.47" font-family="Liberation Sans" font-size="15" font-weight="bold" text-anchor="end" >200</text>
<text x="442.60" y="147.34" font-family="Liberation Sans" font-size="15" font-weight="bold" text-anchor="end" >240</text>
<text x="442.60" y="126.20" font-family="Liberation Sans" font-size="15" font-weight="bold" text-anchor="end" >280</text>
<text x="463.60" y="173.20" font-family="Liberation Serif" font-size="18" font-weight="bold" text-anchor="start" >τ</text>
<text x="471.40" y="176.40" font-family="Liberation Sans" font-size="11.5" font-weight="bold" text-anchor="start" >2</text>
<text x="398.30" y="151.90" font-family="Liberation Sans" font-size="15.3" font-weight="bold" text-anchor="middle" transform="rotate(-90 398.3 151.9)">Lifetimes (ps)</text>
<rect x="475.2" y="204.2" width="178.50000000000006" height="44.5" fill="#ccecf9"/>
<rect x="463" y="232" width="14.399999999999977" height="20" fill="#fff"/>
<circle cx="558.1" cy="223.3" r="4.1" fill="#0b2a35"/>
<circle cx="577.1" cy="227.4" r="4.1" fill="#0b2a35"/>
<circle cx="596.1" cy="215.4" r="4.1" fill="#0b2a35"/>
<circle cx="611.3" cy="233.8" r="4.1" fill="#0b2a35"/>
<circle cx="625.6" cy="244.9" r="4.1" fill="#0b2a35"/>
<line x1="452.00" y1="202.80" x2="654.80" y2="202.80" stroke="#000" stroke-width="2.2" />
<line x1="453.10" y1="201.70" x2="453.10" y2="295.60" stroke="#000" stroke-width="2.2" />
<line x1="653.70" y1="201.70" x2="653.70" y2="295.60" stroke="#000" stroke-width="2.2" />
<line x1="452.00" y1="294.50" x2="654.80" y2="294.50" stroke="#000" stroke-width="2.2" />
<line x1="445.40" y1="287.70" x2="453.10" y2="287.70" stroke="#000" stroke-width="2.0" />
<text x="438.20" y="293.00" font-family="Liberation Sans" font-size="15" font-weight="bold" text-anchor="end" >1</text>
<line x1="445.40" y1="251.05" x2="453.10" y2="251.05" stroke="#000" stroke-width="2.0" />
<text x="438.20" y="256.35" font-family="Liberation Sans" font-size="15" font-weight="bold" text-anchor="end" >10</text>
<line x1="445.40" y1="214.40" x2="453.10" y2="214.40" stroke="#000" stroke-width="2.0" />
<text x="438.20" y="219.70" font-family="Liberation Sans" font-size="15" font-weight="bold" text-anchor="end" >100</text>
<text x="463.40" y="247.40" font-family="Liberation Serif" font-size="18" font-weight="bold" text-anchor="start" >τ</text>
<text x="471.30" y="252.50" font-family="Liberation Sans" font-size="11.5" font-weight="bold" text-anchor="start" >3</text>
<line x1="464.60" y1="294.50" x2="464.60" y2="299.00" stroke="#000" stroke-width="2.0" />
<line x1="490.70" y1="294.50" x2="490.70" y2="302.20" stroke="#000" stroke-width="2.0" />
<line x1="516.80" y1="294.50" x2="516.80" y2="299.00" stroke="#000" stroke-width="2.0" />
<line x1="542.90" y1="294.50" x2="542.90" y2="302.20" stroke="#000" stroke-width="2.0" />
<line x1="569.00" y1="294.50" x2="569.00" y2="299.00" stroke="#000" stroke-width="2.0" />
<line x1="595.10" y1="294.50" x2="595.10" y2="302.20" stroke="#000" stroke-width="2.0" />
<line x1="621.20" y1="294.50" x2="621.20" y2="299.00" stroke="#000" stroke-width="2.0" />
<line x1="647.30" y1="294.50" x2="647.30" y2="302.20" stroke="#000" stroke-width="2.0" />
<text x="490.70" y="321.20" font-family="Liberation Sans" font-size="15" font-weight="bold" text-anchor="middle" >1.0</text>
<text x="542.90" y="321.20" font-family="Liberation Sans" font-size="15" font-weight="bold" text-anchor="middle" >2.0</text>
<text x="595.10" y="321.20" font-family="Liberation Sans" font-size="15" font-weight="bold" text-anchor="middle" >3.0</text>
<text x="647.30" y="321.20" font-family="Liberation Sans" font-size="15" font-weight="bold" text-anchor="middle" >4.0</text>
<text x="494.60" y="342.90" font-family="Liberation Sans" font-size="15.3" font-weight="bold" text-anchor="start" >Intensity (GW/cm<tspan font-size="8.8" dx="0.6" dy="-11.2">2</tspan><tspan dx="0.3" dy="11.2">)</tspan></text>
</svg></body></html>
